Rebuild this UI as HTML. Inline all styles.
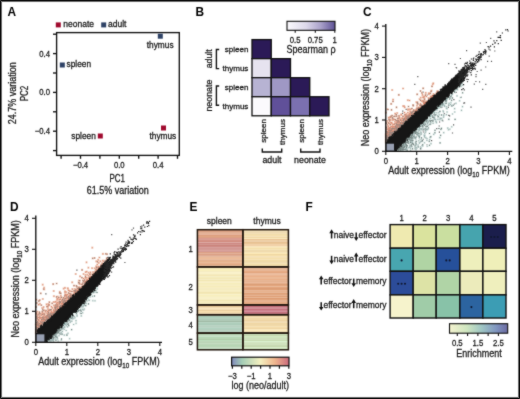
<!DOCTYPE html>
<html><head><meta charset="utf-8"><style>
html,body{margin:0;padding:0;background:#fff;}
body{width:520px;height:399px;overflow:hidden;}
svg{display:block;font-family:"Liberation Sans", sans-serif;}
text{stroke:#1a1a1a;stroke-width:0.28px;}
text[font-weight=bold]{stroke:none;}
</style></head><body>
<svg width="520" height="399" viewBox="0 0 520 399">
<defs><filter id="soft" x="0" y="0" width="520" height="399" filterUnits="userSpaceOnUse" color-interpolation-filters="sRGB"><feConvolveMatrix order="3" kernelMatrix="0.04 0.12 0.04 0.12 1 0.12 0.04 0.12 0.04" edgeMode="duplicate" preserveAlpha="true"/></filter></defs>
<g filter="url(#soft)">
<rect x="0" y="0" width="520" height="399" fill="#fff"/>
<text font-size="12.5" text-anchor="start" font-weight="bold" fill="#000" transform="translate(7.6 15.9) scale(0.95 1)">A</text>
<rect x="55.80" y="22.40" width="5.00" height="5.00" fill="#a00a2e"/>
<text x="63.3" y="27.4" font-size="8.5" text-anchor="start" fill="#1a1a1a">neonate</text>
<rect x="101.20" y="22.40" width="5.00" height="5.00" fill="#2e4266"/>
<text x="108" y="27.4" font-size="8.5" text-anchor="start" fill="#1a1a1a">adult</text>
<rect x="56.6" y="32.6" width="122.7" height="122.8" fill="none" stroke="#111" stroke-width="1.35"/>
<line x1="53" y1="34.20000000000002" x2="56.6" y2="34.20000000000002" stroke="#111" stroke-width="1.35"/>
<line x1="53" y1="53.60000000000001" x2="56.6" y2="53.60000000000001" stroke="#111" stroke-width="1.35"/>
<line x1="53" y1="73.0" x2="56.6" y2="73.0" stroke="#111" stroke-width="1.35"/>
<line x1="53" y1="92.4" x2="56.6" y2="92.4" stroke="#111" stroke-width="1.35"/>
<line x1="53" y1="111.80000000000001" x2="56.6" y2="111.80000000000001" stroke="#111" stroke-width="1.35"/>
<line x1="53" y1="131.2" x2="56.6" y2="131.2" stroke="#111" stroke-width="1.35"/>
<line x1="53" y1="150.6" x2="56.6" y2="150.6" stroke="#111" stroke-width="1.35"/>
<text font-size="8.8" text-anchor="end" fill="#1a1a1a" transform="translate(50 56.60000000000001) scale(0.88 1)">0.4</text>
<text font-size="8.8" text-anchor="end" fill="#1a1a1a" transform="translate(50 95.4) scale(0.88 1)">0.0</text>
<text font-size="8.8" text-anchor="end" fill="#1a1a1a" transform="translate(50 134.2) scale(0.88 1)">−0.4</text>
<line x1="61.10000000000001" y1="155.3" x2="61.10000000000001" y2="158.8" stroke="#111" stroke-width="1.35"/>
<line x1="80.5" y1="155.3" x2="80.5" y2="158.8" stroke="#111" stroke-width="1.35"/>
<line x1="99.9" y1="155.3" x2="99.9" y2="158.8" stroke="#111" stroke-width="1.35"/>
<line x1="119.3" y1="155.3" x2="119.3" y2="158.8" stroke="#111" stroke-width="1.35"/>
<line x1="138.7" y1="155.3" x2="138.7" y2="158.8" stroke="#111" stroke-width="1.35"/>
<line x1="158.1" y1="155.3" x2="158.1" y2="158.8" stroke="#111" stroke-width="1.35"/>
<line x1="177.5" y1="155.3" x2="177.5" y2="158.8" stroke="#111" stroke-width="1.35"/>
<text font-size="8.8" text-anchor="middle" fill="#1a1a1a" transform="translate(80.5 168) scale(0.88 1)">−0.4</text>
<text font-size="8.8" text-anchor="middle" fill="#1a1a1a" transform="translate(119.3 168) scale(0.88 1)">0.0</text>
<text font-size="8.8" text-anchor="middle" fill="#1a1a1a" transform="translate(158.1 168) scale(0.88 1)">0.4</text>
<text font-size="10" text-anchor="middle" fill="#1a1a1a" transform="translate(117.2 181.8) scale(0.8 1)">PC1</text>
<text font-size="10" text-anchor="middle" fill="#1a1a1a" transform="translate(117.7 194.4) scale(0.9 1)">61.5% variation</text>
<text font-size="10" text-anchor="middle" fill="#1a1a1a" transform="translate(16.4 93.3) rotate(-90) scale(0.9 1)">24.7% variation</text>
<text font-size="10" text-anchor="middle" fill="#1a1a1a" transform="translate(27.6 93.5) rotate(-90) scale(0.8 1)">PC2</text>
<rect x="157.80" y="33.70" width="5.00" height="5.00" fill="#2e4266"/>
<rect x="59.80" y="62.50" width="5.00" height="5.00" fill="#2e4266"/>
<rect x="97.80" y="133.50" width="5.00" height="5.00" fill="#a00a2e"/>
<rect x="161.00" y="125.50" width="5.00" height="5.00" fill="#a00a2e"/>
<text x="146.8" y="47.8" font-size="8.3" text-anchor="start" fill="#1a1a1a">thymus</text>
<text x="66.6" y="67.4" font-size="8.3" text-anchor="start" fill="#1a1a1a">spleen</text>
<text x="95.8" y="138.6" font-size="8.3" text-anchor="end" fill="#1a1a1a">spleen</text>
<text x="149.5" y="139.2" font-size="8.3" text-anchor="start" fill="#1a1a1a">thymus</text>
<text font-size="12.5" text-anchor="start" font-weight="bold" fill="#000" transform="translate(195.6 15.9) scale(0.95 1)">B</text>
<defs><linearGradient id="gB" x1="0" x2="1" y1="0" y2="0"><stop offset="0" stop-color="#fbfafd"/><stop offset="0.4" stop-color="#dcd8ea"/><stop offset="0.7" stop-color="#aaa2ca"/><stop offset="1" stop-color="#5e5296"/></linearGradient><linearGradient id="gE" x1="0" x2="1" y1="0" y2="0"><stop offset="0" stop-color="#8088bb"/><stop offset="0.18" stop-color="#a4cdb6"/><stop offset="0.5" stop-color="#f4f0c0"/><stop offset="0.75" stop-color="#efb68e"/><stop offset="1" stop-color="#cb6a7c"/></linearGradient><linearGradient id="gF" x1="0" x2="1" y1="0" y2="0"><stop offset="0" stop-color="#f4f3cf"/><stop offset="0.3" stop-color="#cfe6c0"/><stop offset="0.55" stop-color="#9fc6c4"/><stop offset="0.8" stop-color="#8096c0"/><stop offset="1" stop-color="#6b6aa2"/></linearGradient></defs>
<rect x="287" y="21.3" width="48" height="9" fill="url(#gB)" stroke="#111" stroke-width="1.1"/>
<line x1="295.2" y1="30.3" x2="295.2" y2="32.8" stroke="#111" stroke-width="1.1"/>
<line x1="315.3" y1="30.3" x2="315.3" y2="32.8" stroke="#111" stroke-width="1.1"/>
<line x1="334.8" y1="30.3" x2="334.8" y2="32.8" stroke="#111" stroke-width="1.1"/>
<text font-size="8.8" text-anchor="middle" fill="#1a1a1a" transform="translate(295.2 42.5) scale(0.88 1)">0.5</text>
<text font-size="8.8" text-anchor="middle" fill="#1a1a1a" transform="translate(315.2 42.5) scale(0.88 1)">0.75</text>
<text font-size="8.8" text-anchor="middle" fill="#1a1a1a" transform="translate(334.6 42.5) scale(0.88 1)">1</text>
<text font-size="10" text-anchor="middle" fill="#1a1a1a" transform="translate(311 52.6) scale(0.9 1)">Spearman ρ</text>
<rect x="252" y="39.6" width="19.25" height="19.05" fill="#2b1a57" stroke="#111" stroke-width="1.3"/>
<rect x="252" y="58.65" width="19.25" height="19.05" fill="#e6e3ef" stroke="#111" stroke-width="1.3"/>
<rect x="271.25" y="58.65" width="19.25" height="19.05" fill="#2b1a57" stroke="#111" stroke-width="1.3"/>
<rect x="252" y="77.7" width="19.25" height="19.05" fill="#b7b3d3" stroke="#111" stroke-width="1.3"/>
<rect x="271.25" y="77.7" width="19.25" height="19.05" fill="#9f98c4" stroke="#111" stroke-width="1.3"/>
<rect x="290.5" y="77.7" width="19.25" height="19.05" fill="#2b1a57" stroke="#111" stroke-width="1.3"/>
<rect x="252" y="96.75" width="19.25" height="19.05" fill="#fbfafd" stroke="#111" stroke-width="1.3"/>
<rect x="271.25" y="96.75" width="19.25" height="19.05" fill="#605099" stroke="#111" stroke-width="1.3"/>
<rect x="290.5" y="96.75" width="19.25" height="19.05" fill="#7b70b0" stroke="#111" stroke-width="1.3"/>
<rect x="309.75" y="96.75" width="19.25" height="19.05" fill="#2b1a57" stroke="#111" stroke-width="1.3"/>
<text x="248.4" y="51.725" font-size="8.05" text-anchor="end" fill="#1a1a1a">spleen</text>
<text x="248.4" y="70.77499999999999" font-size="8.05" text-anchor="end" fill="#1a1a1a">thymus</text>
<text x="248.4" y="89.82499999999999" font-size="8.05" text-anchor="end" fill="#1a1a1a">spleen</text>
<text x="248.4" y="108.875" font-size="8.05" text-anchor="end" fill="#1a1a1a">thymus</text>
<path d="M219.2 49.5H216.4V68.6H219.2" fill="none" stroke="#111" stroke-width="1.4"/>
<path d="M219.2 86H216.4V105.2H219.2" fill="none" stroke="#111" stroke-width="1.4"/>
<text x="212.2" y="58.8" font-size="8.8" text-anchor="middle" fill="#1a1a1a" transform="rotate(-90 212.2 58.8)">adult</text>
<text x="212.2" y="95.6" font-size="8.8" text-anchor="middle" fill="#1a1a1a" transform="rotate(-90 212.2 95.6)">neonate</text>
<text x="265.525" y="119" font-size="8.05" text-anchor="end" fill="#1a1a1a" transform="rotate(-90 265.525 119)">spleen</text>
<text x="284.775" y="119" font-size="8.05" text-anchor="end" fill="#1a1a1a" transform="rotate(-90 284.775 119)">thymus</text>
<text x="304.025" y="119" font-size="8.05" text-anchor="end" fill="#1a1a1a" transform="rotate(-90 304.025 119)">spleen</text>
<text x="323.275" y="119" font-size="8.05" text-anchor="end" fill="#1a1a1a" transform="rotate(-90 323.275 119)">thymus</text>
<path d="M262.3 148.6V152H281.7V148.6" fill="none" stroke="#111" stroke-width="1.4"/>
<path d="M300.7 148.6V152H320V148.6" fill="none" stroke="#111" stroke-width="1.4"/>
<text x="272" y="162.8" font-size="8.8" text-anchor="middle" fill="#1a1a1a">adult</text>
<text x="310" y="162.8" font-size="8.8" text-anchor="middle" fill="#1a1a1a">neonate</text>
<text font-size="12.5" text-anchor="start" font-weight="bold" fill="#000" transform="translate(363.0 16.2) scale(0.95 1)">C</text>
<path stroke="#5a5a5a" stroke-width="1.2" stroke-linecap="square" fill="none" d="M453.9 99.7h0M491.5 61.4h0M456.1 92.3h0M428.8 124.7h0M461.4 97.3h0M444.3 113.9h0M477.2 71.5h0M448.3 107.1h0M411.0 143.5h0M448.8 115.3h0M441.2 118.8h0M427.1 95.2h0M482.7 89.3h0M402.8 111.1h0M439.4 132.2h0M485.8 84.4h0M486.4 42.5h0M439.6 122.0h0M464.3 89.9h0M425.6 138.0h0M406.2 109.3h0M496.7 31.8h0M438.6 115.6h0M452.5 133.0h0M423.2 139.3h0M479.6 81.9h0M402.6 113.4h0M453.6 124.9h0M476.0 76.7h0M420.6 149.5h0M467.5 81.7h0M442.2 106.9h0M481.1 70.2h0M423.0 92.1h0M416.8 134.9h0M490.7 38.3h0M422.9 128.6h0M393.2 116.8h0M432.6 123.2h0M480.3 43.2h0M447.9 107.5h0M460.4 58.5h0M463.8 103.2h0M489.2 56.2h0M456.6 68.0h0M436.8 128.6h0M485.7 67.0h0M471.0 107.1h0M427.5 121.0h0M442.8 120.9h0M455.0 64.3h0M448.9 105.0h0M424.0 132.2h0M427.0 145.1h0M403.0 118.8h0M423.0 130.6h0M431.6 140.7h0M487.6 61.4h0M401.4 149.7h0M449.6 115.8h0M464.6 102.9h0M476.1 74.6h0M439.2 126.0h0M466.6 50.7h0M475.9 81.5h0M417.8 76.6h0M474.3 84.2h0M415.8 144.3h0M454.4 104.2h0M414.8 84.3h0M456.2 67.5h0M468.3 79.5h0M420.3 139.4h0M433.8 114.4h0M448.7 63.7h0M494.8 51.0h0M424.0 98.5h0"/>
<path stroke="#f2d2c2" stroke-width="2.2" stroke-linecap="square" fill="none" d="M412.2 116.4h0M436.8 94.2h0M390.6 137.7h0M390.4 133.0h0M406.3 121.9h0M387.8 139.2h0M417.2 94.3h0M388.1 139.7h0M399.0 115.9h0M436.5 93.3h0M393.0 134.4h0M390.2 135.8h0M407.4 118.7h0M417.5 102.4h0M404.5 121.5h0M386.5 127.3h0M393.9 128.6h0M386.1 140.0h0M414.7 113.1h0M386.8 140.2h0M400.0 124.4h0M391.4 130.7h0M417.2 111.0h0M403.9 123.7h0M406.8 118.7h0M386.4 131.3h0M403.3 125.1h0M385.9 142.6h0M389.6 135.4h0M420.4 108.5h0M413.1 105.1h0M396.6 116.1h0M389.0 138.6h0M413.0 111.5h0M386.8 141.8h0M417.1 112.6h0M411.1 118.4h0M391.7 133.0h0M412.0 113.1h0M400.9 126.0h0M417.4 103.3h0M397.8 130.3h0M391.1 130.5h0M430.8 98.8h0M391.0 116.3h0M421.4 105.2h0M400.1 128.4h0M395.8 133.1h0M417.2 108.7h0M391.2 136.8h0M389.3 139.3h0M392.7 134.0h0M404.5 123.1h0M408.2 120.9h0M390.3 136.9h0M409.0 118.2h0M417.8 103.9h0M390.3 130.7h0M401.9 125.9h0M388.3 139.2h0M394.8 123.9h0M410.6 116.6h0M412.9 115.1h0M392.6 136.0h0M407.0 122.0h0M394.9 131.9h0M388.6 134.3h0M419.4 109.0h0M423.8 105.9h0M408.5 117.5h0M392.5 133.6h0M399.6 129.0h0M409.8 119.3h0M396.8 127.0h0M407.4 119.8h0M415.4 111.0h0M396.4 129.0h0M408.8 118.6h0M391.4 135.4h0M404.9 124.2h0M399.8 125.3h0M428.6 102.1h0M391.8 134.1h0M390.5 137.7h0M403.4 120.6h0M397.5 129.6h0M421.3 106.4h0M404.4 118.9h0M395.8 131.7h0M396.1 132.8h0M404.4 124.1h0M413.8 115.1h0M410.4 117.5h0M423.1 106.0h0M397.8 129.6h0M408.5 116.3h0M386.5 141.2h0M413.3 111.3h0M394.1 116.5h0M387.4 137.6h0M395.8 131.4h0M390.4 137.6h0M391.7 136.7h0M387.9 138.7h0M390.3 137.0h0M391.3 137.3h0M386.3 141.5h0M419.5 109.3h0M397.3 131.3h0M396.9 130.9h0M399.5 127.2h0M437.9 93.5h0M416.5 112.4h0M395.3 133.3h0M400.0 128.1h0M391.0 137.6h0M388.9 130.4h0M391.2 103.9h0M413.6 113.9h0M397.4 122.2h0M388.9 139.8h0M391.8 132.6h0M398.1 130.4h0M406.0 121.8h0M386.3 139.5h0M386.0 142.2h0M387.1 137.9h0M399.7 128.8h0M389.9 136.6h0M428.9 101.0h0M415.3 113.5h0M390.5 137.3h0M390.1 133.2h0M399.5 126.9h0M420.6 100.4h0M401.7 122.0h0M389.3 138.8h0M388.7 138.4h0M387.2 137.7h0M396.1 120.5h0M411.8 114.1h0M408.4 120.7h0M401.3 126.8h0M402.4 124.6h0M422.0 92.9h0M395.3 119.5h0M393.0 101.4h0M404.4 122.8h0M394.7 133.2h0M420.1 108.3h0M407.3 117.8h0M386.7 129.1h0M412.3 115.3h0M402.1 124.9h0M397.9 128.9h0M402.4 125.1h0M396.9 131.0h0M394.6 133.7h0M432.0 86.4h0M392.8 128.3h0M414.3 111.7h0M428.7 99.1h0M403.1 120.3h0M412.7 115.8h0M387.4 138.6h0M388.9 123.3h0M389.7 120.9h0M408.7 119.4h0M402.6 125.8h0M405.5 123.3h0M387.6 139.2h0M398.7 129.6h0M421.0 107.5h0M407.2 117.8h0M408.0 119.7h0M391.4 129.1h0M396.5 127.7h0M396.8 124.8h0M394.3 131.3h0M413.7 110.0h0M401.2 124.5h0M387.2 137.0h0M403.0 123.9h0M420.0 105.2h0M388.2 138.5h0M399.9 128.3h0M389.9 137.1h0M418.4 111.1h0M406.8 116.3h0M394.0 134.0h0M401.1 128.1h0M421.3 108.7h0M393.5 134.2h0M437.5 93.4h0M406.5 120.8h0M392.9 133.2h0M395.5 126.6h0M418.3 107.7h0M406.2 123.0h0M390.3 132.9h0M393.1 133.3h0M388.1 137.7h0M386.6 138.9h0M391.5 135.7h0M397.4 128.5h0M396.5 107.3h0M418.6 109.3h0M429.3 101.3h0M431.1 91.3h0M391.5 109.8h0M404.1 123.1h0M387.2 138.3h0M391.9 134.7h0M399.3 128.6h0M404.7 118.2h0M429.5 99.0h0M404.8 114.8h0M386.7 141.5h0M425.2 104.1h0M386.4 141.5h0M390.7 132.5h0M401.5 125.4h0M387.3 133.2h0M420.6 105.3h0M391.4 135.9h0M394.9 116.3h0M396.7 124.3h0M392.3 133.0h0M386.8 138.6h0M389.4 132.1h0M390.3 124.6h0M411.9 108.5h0M389.0 138.1h0M387.2 139.9h0M389.9 138.8h0M397.3 130.2h0M411.5 113.2h0M392.4 135.5h0M400.8 128.3h0M394.0 128.6h0M389.2 136.6h0M395.1 133.5h0M398.8 125.7h0M386.8 131.4h0M393.1 133.0h0M420.5 91.0h0M389.9 138.6h0M386.6 140.5h0M388.0 109.5h0M390.9 136.0h0M389.5 134.6h0M386.7 138.1h0M387.8 140.6h0M403.6 119.5h0M400.3 122.7h0M397.8 125.1h0M392.5 135.2h0M390.1 127.7h0M399.2 127.8h0M390.7 135.2h0M415.6 112.8h0M402.7 123.0h0M393.4 132.9h0M397.4 130.1h0M404.3 124.9h0M414.5 114.8h0M389.4 130.3h0M390.8 137.8h0M387.7 136.2h0M386.1 142.5h0M417.6 110.8h0M408.1 121.3h0M398.5 128.8h0M407.2 118.6h0M411.6 116.1h0M389.5 139.0h0M429.9 99.6h0M423.3 106.7h0M418.6 110.2h0M389.5 134.6h0M388.0 132.6h0M397.2 129.9h0M388.6 137.7h0M411.4 117.8h0M396.7 124.0h0M394.1 133.6h0M397.3 120.8h0M423.3 105.6h0M399.7 127.9h0M390.7 132.5h0M393.8 135.1h0M392.1 135.6h0M417.8 110.9h0M411.1 112.1h0M409.3 115.4h0M401.9 124.9h0M398.8 122.0h0M387.0 141.3h0M398.3 118.2h0M407.0 122.0h0M387.9 140.2h0M402.7 125.9h0M405.6 121.7h0M392.1 115.6h0M389.1 137.8h0M395.8 132.9h0M386.3 136.2h0M387.5 140.7h0M412.5 112.2h0M424.2 105.4h0M421.1 109.0h0M409.6 119.9h0M388.0 140.2h0M413.4 116.2h0M388.4 137.7h0M404.8 121.2h0M392.4 117.7h0M400.0 128.9h0M389.4 137.4h0M392.6 128.5h0M410.5 116.1h0M400.0 128.4h0M425.8 104.5h0M391.9 128.7h0M399.5 129.1h0M388.4 139.7h0M395.1 130.3h0M426.3 104.0h0M424.7 105.5h0M387.0 132.4h0M401.5 126.1h0M405.9 121.0h0M418.0 111.2h0M386.9 141.6h0M397.5 129.7h0M392.0 133.7h0M388.5 139.5h0M399.9 127.7h0M394.9 130.8h0M390.0 138.8h0M393.2 133.5h0M411.8 117.5h0M386.7 139.5h0M396.1 131.9h0M395.7 132.8h0M402.5 124.7h0M412.4 115.5h0M397.7 118.6h0M423.8 101.4h0M389.1 136.1h0M414.5 113.6h0M435.6 95.7h0M430.3 93.3h0M389.3 138.9h0M408.9 119.0h0M396.8 129.6h0M387.6 135.3h0M407.1 116.2h0M386.8 141.3h0M389.8 133.8h0M390.8 137.0h0M421.2 108.2h0M408.5 106.5h0M409.1 116.6h0M388.0 137.1h0M400.5 120.1h0M387.9 138.0h0M418.0 109.6h0M387.8 140.2h0M390.1 136.8h0M397.3 131.2h0M407.2 121.5h0M397.0 131.5h0M397.9 127.0h0M417.5 111.4h0M392.8 129.0h0M406.2 120.7h0M392.5 133.2h0M391.3 136.3h0M398.1 124.5h0M393.7 133.8h0M390.6 132.0h0M386.9 139.2h0M403.0 116.3h0M401.2 125.2h0M387.1 140.2h0M391.5 137.3h0M400.5 125.6h0M400.3 123.3h0M436.2 94.7h0M396.5 132.4h0M397.0 129.0h0M424.6 99.1h0M390.9 137.2h0M410.7 117.5h0M411.7 117.2h0M396.6 132.4h0M399.8 128.3h0M386.5 135.9h0M423.5 105.6h0M404.2 122.4h0M396.1 127.7h0M394.2 128.9h0M426.1 103.7h0M390.0 137.4h0M392.8 132.1h0M391.3 135.0h0M394.6 131.4h0M390.1 136.1h0M389.3 137.5h0M430.2 100.8h0M409.3 120.2h0M387.7 140.9h0M413.0 114.8h0M429.1 101.1h0M403.3 119.2h0M395.2 130.8h0M393.7 133.0h0M398.6 120.8h0M399.7 124.8h0M396.1 125.8h0M413.3 105.7h0M402.8 122.5h0M390.5 137.8h0M393.1 131.9h0M389.2 135.9h0M398.8 94.8h0M404.7 118.9h0M391.6 136.7h0M392.8 118.8h0M392.2 136.6h0M386.3 123.1h0M426.0 103.3h0M426.5 103.8h0M396.7 132.0h0M391.4 135.5h0M391.4 136.9h0M402.9 125.3h0M392.9 132.2h0M415.2 114.3h0M411.2 112.5h0M419.7 109.1h0M410.8 117.3h0M395.3 128.2h0M389.5 135.1h0M386.1 137.7h0M417.2 109.0h0M400.2 125.8h0M437.9 91.3h0M419.6 110.2h0M426.5 103.7h0M386.7 141.3h0M389.4 138.5h0M396.3 114.5h0M403.9 123.0h0M425.5 95.1h0M392.0 134.8h0M385.8 140.1h0M423.2 88.3h0M399.1 129.7h0M389.1 119.6h0M412.2 117.1h0M389.6 132.5h0M392.6 135.4h0M392.7 133.9h0M407.7 120.2h0M403.2 123.1h0M411.0 116.6h0M423.0 97.3h0M405.3 117.2h0M395.8 131.4h0M405.5 119.3h0M424.4 105.7h0M393.5 134.8h0M399.2 129.4h0M433.9 95.9h0M398.5 127.4h0M403.6 119.0h0M392.7 134.5h0M398.3 129.9h0M417.1 111.2h0M391.1 136.1h0M403.7 124.3h0M394.7 119.5h0M392.3 134.6h0M387.2 137.4h0M386.0 137.8h0M400.3 126.5h0M423.6 102.6h0M388.3 138.6h0M417.9 110.0h0M408.0 117.2h0M407.2 120.8h0M391.0 136.8h0M400.4 124.7h0M385.9 139.4h0M386.5 139.6h0M419.6 108.8h0M386.4 140.9h0M417.5 108.8h0M397.9 127.5h0M407.8 100.2h0M390.3 128.6h0M392.2 131.3h0M388.0 137.2h0M403.6 122.0h0M409.0 119.7h0M431.2 96.3h0M390.0 134.6h0M396.6 131.1h0M389.0 137.3h0M405.6 123.5h0M413.7 111.5h0M392.1 126.5h0M404.3 124.2h0M388.6 137.5h0M394.9 130.5h0M387.4 134.2h0M400.7 125.7h0M433.3 97.3h0M405.6 116.5h0M388.1 137.0h0M387.2 138.5h0M408.2 118.3h0M423.4 97.1h0M391.0 132.7h0M389.4 136.6h0M388.1 136.0h0M412.2 117.1h0M401.7 126.5h0M387.7 140.0h0M407.9 118.4h0M388.9 139.2h0M390.8 137.9h0M398.1 126.3h0M400.7 128.3h0M400.1 126.7h0M386.4 141.5h0M392.8 130.8h0M394.7 130.4h0M410.9 112.8h0M391.9 133.9h0M396.8 128.9h0M402.3 126.2h0M399.0 127.1h0M407.8 112.5h0M393.9 134.8h0M429.2 101.2h0M397.3 128.9h0M406.0 115.7h0M408.4 120.6h0M421.7 106.7h0M403.6 119.3h0M403.1 88.5h0M421.3 107.3h0M402.0 118.3h0M398.9 130.2h0M398.8 130.2h0M410.9 117.6h0M393.9 134.8h0M407.0 121.0h0M413.1 115.9h0M415.0 110.9h0M391.5 136.9h0M431.3 97.7h0M428.8 93.2h0M389.8 133.6h0M392.2 90.0h0M389.1 139.5h0M393.0 135.0h0M405.8 122.3h0M392.6 133.6h0M405.9 123.5h0M397.1 130.8h0M419.6 99.2h0M406.5 116.9h0M421.3 105.0h0M391.2 136.7h0M388.7 117.5h0M401.4 127.6h0M416.0 112.7h0M426.7 102.3h0M387.4 138.0h0M405.7 118.8h0M395.7 131.8h0M388.8 139.1h0M386.2 140.2h0M411.2 117.5h0M407.4 119.1h0M424.3 102.2h0M401.2 126.9h0M385.9 112.6h0M386.6 140.4h0M405.7 123.4h0M404.0 124.4h0M400.7 128.0h0M411.5 118.0h0M399.3 129.6h0M419.7 109.9h0M396.4 130.7h0M395.2 130.7h0M396.7 128.8h0M403.9 125.0h0M392.8 132.0h0M395.1 128.2h0M394.4 134.0h0M399.7 127.1h0M435.8 94.8h0M399.7 128.7h0M390.0 132.9h0M413.4 113.9h0M400.5 128.5h0M411.3 117.2h0M400.4 126.4h0M388.1 138.9h0M388.6 129.9h0M408.0 115.3h0M397.9 125.4h0M391.7 135.8h0M386.6 139.1h0M403.9 122.3h0M390.0 137.3h0M407.6 120.4h0M393.2 128.6h0M389.4 137.9h0M392.8 132.1h0M390.8 133.7h0M392.6 136.0h0M408.7 120.2h0M422.2 107.5h0M397.6 131.4h0M416.1 112.0h0M397.7 131.1h0M394.8 128.9h0M403.2 125.0h0M397.0 132.0h0M387.6 137.3h0M393.6 134.4h0M389.0 138.4h0M391.8 135.3h0M398.0 127.2h0M395.3 129.6h0M408.2 120.0h0M433.5 94.1h0M405.7 121.8h0M410.4 119.0h0M406.9 121.0h0M396.7 128.7h0M414.6 114.9h0M389.8 137.9h0M389.5 132.3h0M386.9 140.2h0M407.1 119.9h0M424.6 103.1h0M385.8 136.9h0M409.5 100.5h0M419.5 108.9h0M386.8 137.8h0M391.4 130.9h0M387.5 124.7h0M400.8 123.1h0M397.2 131.8h0M401.3 127.9h0M389.5 136.9h0M388.2 140.0h0M422.5 107.5h0M386.6 136.1h0M389.6 136.2h0M388.5 140.1h0M385.8 142.0h0M399.4 117.2h0M396.4 122.0h0M400.6 128.5h0M417.3 111.9h0M397.8 128.3h0M386.0 134.4h0M392.8 135.7h0M419.5 107.8h0M399.6 127.4h0M400.3 127.6h0M391.9 133.1h0M397.6 129.8h0M387.0 139.0h0M390.4 136.3h0M409.1 119.8h0M394.7 133.6h0M406.2 122.8h0M399.1 122.1h0M402.4 118.0h0M389.0 137.2h0M392.5 118.0h0M394.5 133.7h0M396.2 131.7h0M425.4 104.9h0M386.9 141.1h0M393.9 133.7h0M403.0 125.0h0M390.9 137.0h0M397.2 131.1h0M418.0 111.3h0M397.3 130.7h0M410.8 118.8h0M398.8 129.2h0M395.1 127.3h0M402.3 124.3h0M401.7 125.5h0M393.2 135.5h0M422.8 105.5h0M416.8 112.7h0M395.5 133.3h0M389.3 132.9h0M394.4 131.0h0M430.2 98.4h0M399.8 118.4h0M395.9 131.2h0M408.1 121.1h0M415.8 113.2h0M387.4 140.5h0M416.9 108.0h0M400.8 124.8h0M407.2 116.3h0M390.4 138.0h0M387.7 138.9h0M393.4 134.8h0M399.7 125.5h0M411.8 114.4h0M413.8 114.8h0M400.1 128.5h0M421.1 105.9h0M416.5 110.6h0M391.4 136.3h0M386.4 133.2h0M413.8 113.5h0M422.9 106.6h0M394.6 133.6h0M406.2 121.7h0M420.9 108.6h0M416.9 112.2h0M388.5 129.9h0M389.3 133.8h0M420.4 109.0h0M398.6 128.9h0M409.9 119.6h0M397.8 130.1h0M419.8 107.9h0M386.4 141.6h0M403.8 119.5h0M423.2 106.2h0M391.9 123.4h0M389.4 139.1h0M408.8 119.5h0M410.2 115.2h0M387.2 140.2h0M385.9 142.3h0M393.6 134.9h0M409.5 118.0h0M386.9 140.8h0M422.9 100.6h0M396.2 132.3h0M410.6 117.0h0M406.7 116.0h0M396.3 132.5h0M394.4 133.6h0M397.5 131.0h0M402.2 126.4h0M398.5 128.7h0M391.4 133.2h0M387.2 141.3h0M392.8 135.7h0M409.4 119.5h0M386.8 140.8h0M397.1 130.6h0M388.8 138.4h0M394.7 130.0h0M393.1 133.8h0M404.9 122.4h0M392.5 127.6h0M423.1 107.0h0M388.6 139.9h0M387.4 109.4h0M392.0 135.4h0M388.2 126.8h0M408.2 118.7h0M393.4 134.2h0M419.6 108.0h0M389.8 129.6h0M429.8 99.4h0M409.3 118.9h0M405.3 123.8h0M395.9 132.2h0M397.0 129.6h0M411.5 115.8h0M403.0 125.1h0M391.6 122.5h0M406.7 114.0h0M391.8 132.2h0M419.0 109.6h0M419.5 108.9h0M396.0 126.0h0M410.1 114.4h0M393.3 135.0h0M416.5 109.3h0M415.8 113.3h0M428.6 98.0h0M429.5 99.3h0M415.3 112.6h0M438.3 93.4h0M387.2 140.2h0M422.5 94.8h0M389.6 137.8h0M433.3 83.3h0M407.6 120.0h0M411.2 116.3h0M403.5 121.6h0M388.9 137.4h0M414.6 112.7h0M418.6 108.3h0M412.7 116.5h0M388.9 139.2h0M411.2 114.8h0M400.4 128.6h0M387.2 141.3h0M390.6 137.3h0M396.8 130.3h0M386.4 140.1h0M416.0 112.8h0M390.9 126.6h0M399.3 129.6h0M430.1 100.3h0M418.6 111.3h0M390.5 135.3h0M390.6 137.5h0M416.3 112.4h0M397.3 131.2h0M393.2 135.0h0M388.6 138.3h0M402.0 127.1h0M392.8 133.2h0M396.6 131.8h0M434.4 96.9h0M387.3 136.3h0M404.7 122.7h0M395.2 129.0h0M386.9 141.7h0M398.3 127.3h0M387.6 132.5h0M432.7 95.5h0M389.7 135.1h0M402.5 122.3h0M405.5 123.5h0M392.7 130.0h0M417.4 112.4h0M389.8 136.4h0M388.5 139.2h0M390.5 135.7h0M397.5 130.4h0M394.3 128.8h0M427.2 101.9h0M402.5 126.3h0M386.2 141.2h0M397.7 120.2h0M388.7 133.2h0M419.1 107.4h0M410.9 115.4h0M417.8 110.6h0M403.2 106.1h0M398.4 124.1h0M399.5 126.7h0M401.1 127.9h0M387.5 139.3h0M406.8 118.8h0M420.0 108.3h0M386.9 137.1h0M407.6 121.5h0M393.4 130.9h0M434.8 95.7h0M386.3 141.7h0M392.5 135.8h0M392.3 131.6h0M398.7 129.2h0M391.3 130.3h0M389.6 136.3h0M386.7 141.7h0M397.5 129.9h0M395.4 132.9h0M389.0 118.9h0M397.2 125.9h0M389.5 138.4h0M394.7 126.2h0M394.6 131.1h0M393.5 133.8h0M389.7 133.3h0M403.7 122.6h0M389.9 130.8h0M386.7 138.2h0M403.2 125.7h0M436.9 94.2h0M400.1 127.7h0M417.0 105.7h0M402.6 125.9h0M415.0 114.0h0M400.8 127.8h0M423.2 101.9h0M396.5 130.1h0M388.8 132.4h0M406.0 121.5h0M414.9 114.8h0M397.4 130.6h0M424.9 103.3h0M406.9 120.5h0M426.1 104.2h0M388.3 126.1h0M389.7 137.7h0M402.9 122.2h0M392.4 135.9h0M424.0 106.2h0M411.0 116.2h0M401.6 125.5h0M405.3 122.9h0M420.3 104.7h0M395.9 131.2h0M413.4 110.7h0M423.7 105.0h0M405.2 123.3h0M402.9 124.8h0M388.3 126.6h0M413.5 114.2h0M386.7 136.7h0M425.7 92.8h0M396.4 130.8h0M390.5 136.0h0M403.0 124.1h0M406.4 122.6h0M405.9 120.5h0M421.8 108.3h0M394.3 132.8h0M387.6 140.1h0M429.4 100.3h0M387.1 140.6h0M402.7 126.2h0M389.1 131.7h0M401.0 126.5h0M431.7 96.9h0M390.8 136.3h0M391.1 135.5h0M393.3 126.6h0M388.0 129.2h0M400.6 127.1h0M401.2 124.6h0M390.7 136.3h0M397.1 131.1h0M400.6 128.0h0M423.4 106.6h0M414.2 113.8h0M391.1 137.1h0M389.6 139.0h0M404.9 123.9h0M388.4 140.2h0M389.1 134.5h0M410.5 115.1h0M389.9 117.1h0M396.2 132.1h0M397.3 125.0h0M394.9 132.8h0M415.2 112.0h0M404.0 121.4h0M415.9 111.3h0M389.4 132.0h0M391.9 136.4h0M405.9 120.6h0M385.9 134.4h0M393.4 132.0h0M395.9 123.1h0M393.1 99.5h0M431.2 98.5h0M415.1 114.0h0M430.4 99.8h0M406.8 122.4h0M387.2 138.0h0M407.0 120.6h0M387.7 131.5h0M428.2 102.3h0M395.3 133.4h0M392.3 136.5h0M386.4 133.2h0M385.8 134.5h0M400.0 124.5h0M413.9 111.3h0M397.7 124.3h0M427.1 102.7h0M399.0 129.1h0M392.4 132.7h0M407.5 119.4h0M392.7 133.7h0M397.3 129.8h0M392.2 136.2h0M398.1 121.8h0M429.2 93.9h0M399.0 128.8h0M392.0 134.5h0M426.1 101.4h0M401.0 127.6h0M390.8 132.8h0M402.0 123.0h0M410.6 113.3h0M396.3 130.5h0M416.4 102.2h0M411.0 117.2h0M390.0 137.4h0M395.6 131.8h0M404.7 122.5h0M394.8 130.3h0M392.8 135.7h0M388.7 137.9h0M399.8 118.6h0M386.3 141.2h0M397.4 126.0h0M402.9 122.5h0M402.6 126.6h0M412.4 116.7h0M388.1 131.5h0M402.5 124.3h0M412.4 117.1h0M423.3 106.3h0M392.5 135.5h0M415.5 114.2h0M394.2 131.8h0M386.0 139.3h0M432.8 84.2h0M408.3 119.6h0M418.7 109.4h0M386.6 136.4h0M392.8 120.2h0M412.9 114.3h0M411.4 117.8h0M418.3 111.6h0M400.8 126.2h0M408.8 115.0h0M391.7 136.2h0M394.5 133.8h0M414.0 110.7h0M396.5 132.4h0M405.6 121.3h0M410.1 111.2h0M414.4 114.7h0M407.4 116.3h0M398.0 125.7h0M387.7 138.6h0M432.2 96.2h0M393.5 132.1h0M391.2 136.1h0M393.1 131.4h0M417.6 111.3h0M425.6 103.9h0M391.6 136.3h0M392.4 135.4h0M427.6 102.5h0M398.7 130.2h0M390.8 137.7h0M388.0 135.8h0M402.8 126.3h0M394.6 133.4h0M411.0 118.4h0M388.8 139.8h0M395.4 131.6h0M401.8 126.1h0M401.9 125.2h0M395.0 133.5h0M386.1 141.4h0M416.6 112.4h0M397.3 126.7h0M397.2 128.2h0M388.3 139.4h0M401.0 124.6h0M395.1 132.7h0M437.2 91.3h0M390.0 128.3h0M392.1 136.2h0M397.1 131.2h0M417.6 110.8h0M421.8 101.2h0M397.7 130.5h0M401.3 115.0h0M389.4 134.1h0M424.0 97.5h0M391.8 136.4h0M420.5 103.8h0M385.8 135.6h0M399.5 121.2h0M426.1 104.0h0M402.9 126.0h0M420.7 97.7h0M396.4 122.1h0M396.9 131.6h0M405.4 122.9h0M402.2 125.1h0M393.2 133.3h0M393.9 127.2h0M410.3 119.3h0M389.5 131.7h0M407.0 118.6h0M391.6 134.2h0M412.9 112.6h0M393.6 134.0h0M407.1 118.7h0M411.1 118.0h0M391.4 137.4h0M399.0 130.2h0M436.6 93.0h0M405.5 123.8h0M428.4 101.3h0M388.9 136.3h0M394.5 134.0h0M407.9 109.4h0M416.5 112.7h0M400.1 127.8h0M430.4 100.5h0M406.5 117.6h0M438.1 93.6h0M409.3 109.2h0M392.7 127.6h0M397.0 127.0h0M407.6 120.6h0M396.6 131.5h0M389.1 139.1h0M401.6 126.7h0M421.7 107.6h0M391.9 136.4h0M395.5 130.7h0M398.0 130.9h0M389.9 135.6h0M392.4 136.0h0M391.1 131.7h0M423.6 105.3h0M430.7 96.7h0M402.5 123.8h0M386.2 139.0h0M388.0 137.9h0M428.7 94.2h0M396.7 131.6h0M401.4 126.3h0M397.2 131.7h0M390.9 136.6h0M424.4 99.8h0M420.0 107.6h0M385.9 136.0h0M431.5 90.7h0M425.3 102.3h0M389.1 139.0h0M397.1 129.4h0M387.7 140.4h0M389.9 137.8h0M397.5 127.6h0M390.6 122.9h0M386.5 140.3h0M406.5 121.6h0M402.1 123.5h0M405.2 116.7h0M401.7 126.9h0M394.1 124.5h0M416.5 113.2h0M399.1 123.0h0M402.5 126.0h0M389.4 138.3h0M410.1 115.5h0M396.9 131.4h0M399.8 128.1h0M387.3 137.5h0M398.0 130.0h0M408.0 109.8h0M408.1 120.7h0M396.5 128.5h0M400.9 124.9h0M396.4 132.2h0M408.2 119.3h0M386.9 139.4h0M390.8 134.9h0M414.9 114.3h0M426.4 96.5h0M391.4 136.6h0M410.5 117.4h0M400.8 123.6h0M395.0 133.7h0M392.2 131.9h0M399.8 125.9h0M390.3 124.7h0M386.4 141.7h0M424.2 96.4h0M407.9 120.5h0M393.7 119.2h0M388.6 136.8h0M422.0 108.3h0M402.8 125.5h0M387.1 133.7h0M415.9 113.0h0M433.7 97.5h0M398.9 129.5h0M408.2 118.8h0M402.9 118.3h0M404.7 123.0h0M405.6 123.1h0M395.6 132.2h0M391.4 127.0h0M397.4 129.9h0M404.8 121.5h0M389.1 128.6h0M391.8 136.5h0M390.1 131.5h0M387.6 132.7h0M388.4 139.7h0M407.1 121.9h0M389.8 136.7h0M401.1 125.9h0M392.5 136.2h0M406.9 119.7h0M388.1 138.3h0M415.3 113.9h0M401.0 122.5h0M389.3 127.7h0M403.5 125.3h0M395.5 132.4h0M390.6 136.2h0M396.8 132.1h0M386.7 139.4h0M386.9 141.0h0M390.6 136.8h0M393.9 132.8h0M404.1 106.1h0M407.3 121.2h0M390.1 138.0h0M387.1 121.0h0M398.2 127.0h0M387.0 137.5h0M394.9 121.7h0M388.6 128.6h0M386.9 141.2h0M391.3 136.6h0M398.8 128.9h0M392.4 134.7h0M394.8 126.4h0M390.6 119.8h0M395.6 132.7h0M391.0 135.6h0M388.3 137.9h0M410.2 116.0h0M388.6 136.9h0M390.7 117.5h0M394.6 130.6h0M387.3 141.4h0M392.0 131.9h0M392.9 132.4h0M400.9 119.7h0M386.7 140.1h0M401.9 125.7h0M388.9 138.5h0M393.9 133.0h0M392.3 132.4h0M389.4 136.7h0M391.4 132.5h0M398.4 128.2h0M387.3 136.3h0M395.6 132.8h0M387.6 140.6h0M400.6 128.5h0M404.7 107.4h0M411.1 118.1h0M389.2 136.5h0M401.7 120.4h0M388.6 139.0h0M398.1 129.0h0M396.9 131.6h0M391.6 126.9h0M393.8 133.7h0M397.2 128.0h0M387.5 136.9h0M406.2 117.2h0M409.8 113.2h0M394.6 133.4h0M388.0 140.1h0M398.9 123.0h0M391.1 134.8h0M392.4 129.9h0M412.0 116.2h0M394.2 129.0h0M386.5 135.7h0M392.0 136.4h0M427.0 103.4h0M398.8 120.0h0M388.5 138.9h0M395.1 130.8h0M412.9 115.7h0M394.6 132.0h0M409.2 119.6h0M391.0 137.2h0M395.0 131.4h0M386.0 134.9h0M392.1 133.1h0M394.1 133.3h0M391.0 130.3h0M390.3 138.4h0M415.6 112.9h0M387.0 140.8h0M387.3 139.1h0M388.1 134.3h0M410.8 109.3h0M397.7 127.1h0M391.6 135.0h0M390.6 131.4h0M385.9 135.0h0M388.4 138.7h0M386.9 140.9h0M392.8 135.2h0M386.2 140.9h0M387.5 139.4h0M389.4 138.7h0M391.7 132.8h0M406.3 123.1h0M393.5 133.6h0M387.1 135.6h0M387.8 138.9h0M386.6 136.9h0M396.6 130.5h0M401.7 123.8h0M393.2 135.6h0M394.6 130.8h0M387.5 138.0h0M396.5 132.3h0M400.8 126.1h0M388.6 137.8h0M387.8 136.4h0M392.3 133.7h0M393.1 135.7h0M395.0 132.7h0M387.0 139.3h0M390.2 133.1h0M390.1 132.6h0M390.4 134.5h0M387.4 132.7h0M387.6 138.8h0M395.2 130.2h0M394.9 133.4h0M386.9 134.2h0M396.3 131.7h0M400.1 129.1h0M391.5 133.8h0M390.4 129.1h0M394.1 126.7h0M390.0 134.0h0M404.6 124.3h0M411.0 115.7h0M410.0 115.5h0M386.1 142.2h0M388.3 139.5h0M402.6 126.3h0M391.7 136.6h0M388.2 138.4h0M403.6 120.7h0M387.9 140.5h0M389.4 128.7h0M414.6 115.1h0M409.1 114.0h0M386.7 135.1h0M403.0 126.2h0M396.1 131.7h0M394.3 126.8h0M392.2 135.8h0M395.6 125.8h0M403.0 125.7h0M404.5 112.5h0M387.6 139.7h0M388.1 140.6h0M389.7 137.7h0M387.5 140.4h0M386.1 139.0h0M386.8 141.2h0M395.5 132.4h0M386.0 139.9h0M395.8 130.9h0M390.0 138.3h0M388.7 137.9h0M394.9 127.7h0M396.1 130.9h0M396.9 123.6h0M387.7 135.0h0M386.4 141.7h0M438.2 93.1h0M387.4 140.4h0M394.3 129.2h0M395.0 131.2h0M389.7 136.7h0M417.3 102.2h0M402.0 125.7h0M401.4 122.2h0M405.9 118.4h0M386.8 139.7h0M405.1 120.1h0M389.9 138.8h0M390.0 135.5h0M403.5 123.3h0M387.9 136.7h0M405.2 122.8h0M387.3 135.3h0M403.9 121.5h0M399.2 124.6h0M388.0 137.9h0M386.0 137.1h0M390.2 133.7h0M387.9 139.3h0M390.4 137.8h0M394.2 132.6h0M388.1 137.6h0M387.1 131.3h0M385.9 136.4h0M396.8 132.2h0M387.6 141.0h0M386.4 136.7h0M421.2 107.1h0M387.2 141.0h0M389.3 139.1h0M386.3 135.1h0M389.1 138.7h0M401.9 124.9h0M394.8 132.6h0M397.2 130.8h0M390.5 133.8h0M387.0 137.6h0M387.4 138.6h0M392.0 132.2h0M385.9 139.2h0M389.2 133.0h0M392.4 136.2h0M393.3 133.7h0M394.2 134.7h0M402.2 125.5h0M394.1 132.5h0M415.9 109.7h0M393.7 132.2h0M386.3 141.9h0M389.1 138.8h0M389.0 139.5h0M386.3 140.1h0M405.5 123.2h0M386.6 137.8h0M390.5 134.7h0M391.4 137.2h0M398.6 129.0h0M389.9 138.9h0M389.3 131.3h0M390.4 133.2h0M395.2 113.6h0M404.6 123.8h0M387.2 138.6h0M396.3 129.6h0M388.9 135.9h0M392.6 133.1h0M401.8 123.6h0M388.9 128.3h0M387.8 139.3h0M386.9 128.9h0M393.5 130.7h0M401.3 127.3h0M387.2 139.9h0M391.6 133.9h0M389.5 137.3h0M386.0 142.5h0M392.6 136.1h0M389.3 135.6h0M405.1 123.4h0M386.0 140.7h0M410.1 117.3h0M386.6 139.2h0M391.4 135.4h0M394.9 131.5h0M424.0 103.4h0M389.4 138.8h0M389.2 136.5h0M392.9 134.8h0M399.2 129.0h0M391.0 135.1h0M411.3 117.2h0M391.0 135.8h0M401.0 123.9h0M404.7 124.6h0M391.9 136.5h0M386.0 140.0h0M392.7 135.4h0M401.5 127.1h0M393.5 133.8h0M389.1 138.4h0M390.8 136.9h0M399.8 127.5h0M385.8 140.7h0M387.6 140.7h0M388.9 135.6h0M397.9 126.5h0M387.6 134.4h0M393.6 134.8h0M387.9 138.8h0M386.5 141.5h0M391.5 137.1h0M397.8 130.3h0M389.5 133.2h0M398.0 126.0h0M388.0 139.5h0M387.8 138.3h0M390.8 135.3h0M389.8 135.9h0M386.8 140.0h0M388.6 137.5h0M388.4 122.6h0M388.7 140.0h0M393.5 132.4h0M399.5 121.5h0M401.2 114.4h0M403.4 125.4h0M388.4 138.3h0M396.4 129.9h0M397.6 127.1h0M388.3 138.3h0M389.8 132.6h0M389.8 133.8h0M390.1 136.3h0M393.0 132.2h0M391.8 136.8h0M397.2 113.0h0M391.0 137.7h0M386.2 136.8h0M388.3 140.4h0M393.1 134.9h0M390.1 137.2h0M392.7 125.1h0M393.1 124.4h0M392.7 131.6h0M389.4 135.2h0M393.2 135.2h0M392.9 131.5h0M387.6 138.1h0M397.6 126.2h0M392.4 135.5h0M391.5 135.1h0M388.8 137.4h0M396.1 131.9h0M394.2 134.6h0M405.7 114.6h0M388.7 136.8h0M395.5 133.3h0M392.2 136.1h0M394.9 130.7h0M397.7 125.4h0M391.0 133.2h0"/>
<path stroke="#d8765a" stroke-width="1.15" stroke-linecap="square" fill="none" d="M412.2 116.4h0M436.8 94.2h0M390.6 137.7h0M406.3 121.9h0M387.8 139.2h0M388.1 139.7h0M436.5 93.3h0M393.0 134.4h0M390.2 135.8h0M386.1 140.0h0M414.7 113.1h0M386.8 140.2h0M417.2 111.0h0M403.9 123.7h0M403.3 125.1h0M385.9 142.6h0M420.4 108.5h0M389.0 138.6h0M386.8 141.8h0M417.1 112.6h0M411.1 118.4h0M400.9 126.0h0M397.8 130.3h0M430.8 98.8h0M400.1 128.4h0M395.8 133.1h0M391.2 136.8h0M389.3 139.3h0M392.7 134.0h0M404.5 123.1h0M408.2 120.9h0M390.3 136.9h0M409.0 118.2h0M401.9 125.9h0M388.3 139.2h0M410.6 116.6h0M412.9 115.1h0M392.6 136.0h0M407.0 122.0h0M394.9 131.9h0M419.4 109.0h0M423.8 105.9h0M392.5 133.6h0M399.6 129.0h0M409.8 119.3h0M407.4 119.8h0M408.8 118.6h0M391.4 135.4h0M404.9 124.2h0M428.6 102.1h0M391.8 134.1h0M390.5 137.7h0M397.5 129.6h0M421.3 106.4h0M395.8 131.7h0M396.1 132.8h0M404.4 124.1h0M413.8 115.1h0M410.4 117.5h0M423.1 106.0h0M397.8 129.6h0M386.5 141.2h0M395.8 131.4h0M390.4 137.6h0M391.7 136.7h0M387.9 138.7h0M390.3 137.0h0M391.3 137.3h0M386.3 141.5h0M419.5 109.3h0M397.3 131.3h0M396.9 130.9h0M399.5 127.2h0M437.9 93.5h0M416.5 112.4h0M395.3 133.3h0M400.0 128.1h0M391.0 137.6h0M413.6 113.9h0M388.9 139.8h0M398.1 130.4h0M406.0 121.8h0M386.3 139.5h0M386.0 142.2h0M399.7 128.8h0M389.9 136.6h0M428.9 101.0h0M415.3 113.5h0M390.5 137.3h0M399.5 126.9h0M389.3 138.8h0M388.7 138.4h0M408.4 120.7h0M401.3 126.8h0M402.4 124.6h0M404.4 122.8h0M394.7 133.2h0M420.1 108.3h0M412.3 115.3h0M402.1 124.9h0M397.9 128.9h0M402.4 125.1h0M396.9 131.0h0M394.6 133.7h0M428.7 99.1h0M412.7 115.8h0M387.4 138.6h0M408.7 119.4h0M402.6 125.8h0M405.5 123.3h0M387.6 139.2h0M398.7 129.6h0M421.0 107.5h0M408.0 119.7h0M403.0 123.9h0M388.2 138.5h0M399.9 128.3h0M389.9 137.1h0M418.4 111.1h0M394.0 134.0h0M401.1 128.1h0M421.3 108.7h0M393.5 134.2h0M437.5 93.4h0M406.5 120.8h0M392.9 133.2h0M406.2 123.0h0M393.1 133.3h0M388.1 137.7h0M391.5 135.7h0M418.6 109.3h0M429.3 101.3h0M404.1 123.1h0M391.9 134.7h0M399.3 128.6h0M429.5 99.0h0M386.7 141.5h0M425.2 104.1h0M386.4 141.5h0M401.5 125.4h0M391.4 135.9h0M389.0 138.1h0M387.2 139.9h0M389.9 138.8h0M397.3 130.2h0M392.4 135.5h0M400.8 128.3h0M389.2 136.6h0M395.1 133.5h0M393.1 133.0h0M389.9 138.6h0M386.6 140.5h0M390.9 136.0h0M387.8 140.6h0M392.5 135.2h0M399.2 127.8h0M390.7 135.2h0M415.6 112.8h0M393.4 132.9h0M397.4 130.1h0M404.3 124.9h0M414.5 114.8h0M390.8 137.8h0M386.1 142.5h0M417.6 110.8h0M408.1 121.3h0M398.5 128.8h0M411.6 116.1h0M389.5 139.0h0M429.9 99.6h0M423.3 106.7h0M418.6 110.2h0M397.2 129.9h0M388.6 137.7h0M411.4 117.8h0M394.1 133.6h0M423.3 105.6h0M399.7 127.9h0M393.8 135.1h0M392.1 135.6h0M417.8 110.9h0M401.9 124.9h0M387.0 141.3h0M407.0 122.0h0M387.9 140.2h0M402.7 125.9h0M405.6 121.7h0M389.1 137.8h0M395.8 132.9h0M387.5 140.7h0M424.2 105.4h0M421.1 109.0h0M409.6 119.9h0M388.0 140.2h0M413.4 116.2h0M388.4 137.7h0M400.0 128.9h0M389.4 137.4h0M410.5 116.1h0M400.0 128.4h0M425.8 104.5h0M399.5 129.1h0M388.4 139.7h0M426.3 104.0h0M424.7 105.5h0M401.5 126.1h0M405.9 121.0h0M418.0 111.2h0M386.9 141.6h0M397.5 129.7h0M388.5 139.5h0M399.9 127.7h0M390.0 138.8h0M393.2 133.5h0M411.8 117.5h0M386.7 139.5h0M396.1 131.9h0M395.7 132.8h0M402.5 124.7h0M412.4 115.5h0M414.5 113.6h0M435.6 95.7h0M389.3 138.9h0M408.9 119.0h0M396.8 129.6h0M386.8 141.3h0M390.8 137.0h0M421.2 108.2h0M387.9 138.0h0M418.0 109.6h0M387.8 140.2h0M390.1 136.8h0M397.3 131.2h0M407.2 121.5h0M397.0 131.5h0M417.5 111.4h0M406.2 120.7h0M391.3 136.3h0M393.7 133.8h0M386.9 139.2h0M401.2 125.2h0M387.1 140.2h0M391.5 137.3h0M436.2 94.7h0M396.5 132.4h0M397.0 129.0h0M390.9 137.2h0M410.7 117.5h0M411.7 117.2h0M396.6 132.4h0M399.8 128.3h0M423.5 105.6h0M404.2 122.4h0M426.1 103.7h0M390.0 137.4h0M391.3 135.0h0M394.6 131.4h0M390.1 136.1h0M389.3 137.5h0M430.2 100.8h0M409.3 120.2h0M387.7 140.9h0M413.0 114.8h0M429.1 101.1h0M395.2 130.8h0M393.7 133.0h0M390.5 137.8h0M391.6 136.7h0M392.2 136.6h0M426.0 103.3h0M426.5 103.8h0M396.7 132.0h0M391.4 135.5h0M391.4 136.9h0M402.9 125.3h0M415.2 114.3h0M419.7 109.1h0M410.8 117.3h0M437.9 91.3h0M419.6 110.2h0M426.5 103.7h0M386.7 141.3h0M389.4 138.5h0M403.9 123.0h0M392.0 134.8h0M385.8 140.1h0M399.1 129.7h0M412.2 117.1h0M392.6 135.4h0M392.7 133.9h0M407.7 120.2h0M403.2 123.1h0M411.0 116.6h0M395.8 131.4h0M424.4 105.7h0M393.5 134.8h0M399.2 129.4h0M433.9 95.9h0M392.7 134.5h0M398.3 129.9h0M417.1 111.2h0M391.1 136.1h0M403.7 124.3h0M392.3 134.6h0M400.3 126.5h0M388.3 138.6h0M417.9 110.0h0M407.2 120.8h0M391.0 136.8h0M386.5 139.6h0M419.6 108.8h0M386.4 140.9h0M409.0 119.7h0M396.6 131.1h0M389.0 137.3h0M405.6 123.5h0M404.3 124.2h0M388.6 137.5h0M400.7 125.7h0M433.3 97.3h0M387.2 138.5h0M408.2 118.3h0M389.4 136.6h0M412.2 117.1h0M401.7 126.5h0M387.7 140.0h0M388.9 139.2h0M390.8 137.9h0M400.7 128.3h0M400.1 126.7h0M386.4 141.5h0M391.9 133.9h0M402.3 126.2h0M399.0 127.1h0M393.9 134.8h0M429.2 101.2h0M397.3 128.9h0M408.4 120.6h0M421.7 106.7h0M421.3 107.3h0M398.9 130.2h0M398.8 130.2h0M410.9 117.6h0M393.9 134.8h0M407.0 121.0h0M413.1 115.9h0M391.5 136.9h0M431.3 97.7h0M389.1 139.5h0M393.0 135.0h0M405.8 122.3h0M392.6 133.6h0M405.9 123.5h0M397.1 130.8h0M391.2 136.7h0M401.4 127.6h0M416.0 112.7h0M426.7 102.3h0M395.7 131.8h0M388.8 139.1h0M386.2 140.2h0M411.2 117.5h0M407.4 119.1h0M401.2 126.9h0M386.6 140.4h0M405.7 123.4h0M404.0 124.4h0M400.7 128.0h0M411.5 118.0h0M399.3 129.6h0M419.7 109.9h0M396.4 130.7h0M403.9 125.0h0M394.4 134.0h0M399.7 127.1h0M435.8 94.8h0M399.7 128.7h0M413.4 113.9h0M400.5 128.5h0M411.3 117.2h0M400.4 126.4h0M388.1 138.9h0M391.7 135.8h0M386.6 139.1h0M390.0 137.3h0M407.6 120.4h0M389.4 137.9h0M392.6 136.0h0M408.7 120.2h0M422.2 107.5h0M397.6 131.4h0M416.1 112.0h0M397.7 131.1h0M403.2 125.0h0M397.0 132.0h0M393.6 134.4h0M389.0 138.4h0M391.8 135.3h0M408.2 120.0h0M405.7 121.8h0M410.4 119.0h0M406.9 121.0h0M414.6 114.9h0M389.8 137.9h0M386.9 140.2h0M407.1 119.9h0M424.6 103.1h0M419.5 108.9h0M397.2 131.8h0M401.3 127.9h0M389.5 136.9h0M388.2 140.0h0M422.5 107.5h0M389.6 136.2h0M388.5 140.1h0M385.8 142.0h0M400.6 128.5h0M417.3 111.9h0M397.8 128.3h0M392.8 135.7h0M419.5 107.8h0M399.6 127.4h0M400.3 127.6h0M397.6 129.8h0M387.0 139.0h0M390.4 136.3h0M409.1 119.8h0M394.7 133.6h0M406.2 122.8h0M389.0 137.2h0M394.5 133.7h0M396.2 131.7h0M425.4 104.9h0M386.9 141.1h0M393.9 133.7h0M403.0 125.0h0M390.9 137.0h0M397.2 131.1h0M418.0 111.3h0M397.3 130.7h0M410.8 118.8h0M398.8 129.2h0M402.3 124.3h0M401.7 125.5h0M393.2 135.5h0M422.8 105.5h0M416.8 112.7h0M395.5 133.3h0M430.2 98.4h0M395.9 131.2h0M408.1 121.1h0M415.8 113.2h0M387.4 140.5h0M390.4 138.0h0M387.7 138.9h0M393.4 134.8h0M413.8 114.8h0M400.1 128.5h0M416.5 110.6h0M391.4 136.3h0M413.8 113.5h0M422.9 106.6h0M394.6 133.6h0M406.2 121.7h0M420.9 108.6h0M416.9 112.2h0M420.4 109.0h0M398.6 128.9h0M409.9 119.6h0M397.8 130.1h0M419.8 107.9h0M386.4 141.6h0M423.2 106.2h0M389.4 139.1h0M408.8 119.5h0M387.2 140.2h0M385.9 142.3h0M393.6 134.9h0M409.5 118.0h0M386.9 140.8h0M396.2 132.3h0M410.6 117.0h0M396.3 132.5h0M394.4 133.6h0M397.5 131.0h0M402.2 126.4h0M398.5 128.7h0M387.2 141.3h0M392.8 135.7h0M409.4 119.5h0M386.8 140.8h0M397.1 130.6h0M388.8 138.4h0M393.1 133.8h0M404.9 122.4h0M423.1 107.0h0M388.6 139.9h0M392.0 135.4h0M408.2 118.7h0M393.4 134.2h0M419.6 108.0h0M429.8 99.4h0M409.3 118.9h0M405.3 123.8h0M395.9 132.2h0M397.0 129.6h0M411.5 115.8h0M403.0 125.1h0M419.0 109.6h0M419.5 108.9h0M393.3 135.0h0M415.8 113.3h0M429.5 99.3h0M415.3 112.6h0M438.3 93.4h0M387.2 140.2h0M389.6 137.8h0M407.6 120.0h0M411.2 116.3h0M388.9 137.4h0M414.6 112.7h0M418.6 108.3h0M412.7 116.5h0M388.9 139.2h0M400.4 128.6h0M387.2 141.3h0M390.6 137.3h0M396.8 130.3h0M386.4 140.1h0M416.0 112.8h0M399.3 129.6h0M430.1 100.3h0M418.6 111.3h0M390.5 135.3h0M390.6 137.5h0M416.3 112.4h0M397.3 131.2h0M393.2 135.0h0M388.6 138.3h0M402.0 127.1h0M392.8 133.2h0M396.6 131.8h0M434.4 96.9h0M404.7 122.7h0M386.9 141.7h0M432.7 95.5h0M405.5 123.5h0M417.4 112.4h0M389.8 136.4h0M388.5 139.2h0M390.5 135.7h0M397.5 130.4h0M427.2 101.9h0M402.5 126.3h0M386.2 141.2h0M417.8 110.6h0M399.5 126.7h0M401.1 127.9h0M387.5 139.3h0M420.0 108.3h0M407.6 121.5h0M434.8 95.7h0M386.3 141.7h0M392.5 135.8h0M398.7 129.2h0M389.6 136.3h0M386.7 141.7h0M397.5 129.9h0M395.4 132.9h0M389.5 138.4h0M393.5 133.8h0M403.7 122.6h0M403.2 125.7h0M436.9 94.2h0M400.1 127.7h0M402.6 125.9h0M415.0 114.0h0M400.8 127.8h0M396.5 130.1h0M406.0 121.5h0M414.9 114.8h0M397.4 130.6h0M424.9 103.3h0M406.9 120.5h0M426.1 104.2h0M389.7 137.7h0M392.4 135.9h0M424.0 106.2h0M411.0 116.2h0M401.6 125.5h0M405.3 122.9h0M395.9 131.2h0M423.7 105.0h0M405.2 123.3h0M402.9 124.8h0M413.5 114.2h0M396.4 130.8h0M390.5 136.0h0M403.0 124.1h0M406.4 122.6h0M405.9 120.5h0M421.8 108.3h0M394.3 132.8h0M387.6 140.1h0M429.4 100.3h0M387.1 140.6h0M402.7 126.2h0M401.0 126.5h0M431.7 96.9h0M390.8 136.3h0M391.1 135.5h0M400.6 127.1h0M390.7 136.3h0M397.1 131.1h0M400.6 128.0h0M423.4 106.6h0M414.2 113.8h0M391.1 137.1h0M389.6 139.0h0M404.9 123.9h0M388.4 140.2h0M396.2 132.1h0M394.9 132.8h0M415.2 112.0h0M415.9 111.3h0M391.9 136.4h0M405.9 120.6h0M431.2 98.5h0M415.1 114.0h0M430.4 99.8h0M406.8 122.4h0M407.0 120.6h0M428.2 102.3h0M395.3 133.4h0M392.3 136.5h0M427.1 102.7h0M399.0 129.1h0M407.5 119.4h0M392.7 133.7h0M397.3 129.8h0M392.2 136.2h0M399.0 128.8h0M392.0 134.5h0M401.0 127.6h0M396.3 130.5h0M411.0 117.2h0M390.0 137.4h0M395.6 131.8h0M404.7 122.5h0M392.8 135.7h0M388.7 137.9h0M386.3 141.2h0M402.6 126.6h0M412.4 116.7h0M402.5 124.3h0M412.4 117.1h0M423.3 106.3h0M392.5 135.5h0M415.5 114.2h0M394.2 131.8h0M408.3 119.6h0M418.7 109.4h0M412.9 114.3h0M411.4 117.8h0M418.3 111.6h0M400.8 126.2h0M391.7 136.2h0M394.5 133.8h0M396.5 132.4h0M405.6 121.3h0M414.4 114.7h0M387.7 138.6h0M432.2 96.2h0M391.2 136.1h0M417.6 111.3h0M425.6 103.9h0M391.6 136.3h0M392.4 135.4h0M427.6 102.5h0M398.7 130.2h0M390.8 137.7h0M402.8 126.3h0M394.6 133.4h0M411.0 118.4h0M388.8 139.8h0M395.4 131.6h0M401.8 126.1h0M401.9 125.2h0M395.0 133.5h0M386.1 141.4h0M416.6 112.4h0M388.3 139.4h0M395.1 132.7h0M392.1 136.2h0M397.1 131.2h0M417.6 110.8h0M397.7 130.5h0M391.8 136.4h0M426.1 104.0h0M402.9 126.0h0M396.9 131.6h0M405.4 122.9h0M402.2 125.1h0M393.2 133.3h0M410.3 119.3h0M391.6 134.2h0M393.6 134.0h0M411.1 118.0h0M391.4 137.4h0M399.0 130.2h0M436.6 93.0h0M405.5 123.8h0M428.4 101.3h0M394.5 134.0h0M416.5 112.7h0M400.1 127.8h0M430.4 100.5h0M438.1 93.6h0M407.6 120.6h0M396.6 131.5h0M389.1 139.1h0M401.6 126.7h0M421.7 107.6h0M391.9 136.4h0M395.5 130.7h0M398.0 130.9h0M392.4 136.0h0M423.6 105.3h0M402.5 123.8h0M388.0 137.9h0M396.7 131.6h0M401.4 126.3h0M397.2 131.7h0M390.9 136.6h0M420.0 107.6h0M425.3 102.3h0M389.1 139.0h0M397.1 129.4h0M387.7 140.4h0M389.9 137.8h0M386.5 140.3h0M406.5 121.6h0M401.7 126.9h0M416.5 113.2h0M402.5 126.0h0M389.4 138.3h0M396.9 131.4h0M399.8 128.1h0M398.0 130.0h0M408.1 120.7h0M396.4 132.2h0M408.2 119.3h0M386.9 139.4h0M390.8 134.9h0M414.9 114.3h0M391.4 136.6h0M410.5 117.4h0M395.0 133.7h0M386.4 141.7h0M407.9 120.5h0M422.0 108.3h0M402.8 125.5h0M415.9 113.0h0M433.7 97.5h0M398.9 129.5h0M408.2 118.8h0M404.7 123.0h0M405.6 123.1h0M395.6 132.2h0M397.4 129.9h0M404.8 121.5h0M391.8 136.5h0M388.4 139.7h0M407.1 121.9h0M389.8 136.7h0M401.1 125.9h0M392.5 136.2h0M406.9 119.7h0M388.1 138.3h0M415.3 113.9h0M403.5 125.3h0M395.5 132.4h0M390.6 136.2h0M396.8 132.1h0M386.7 139.4h0M386.9 141.0h0M390.6 136.8h0M393.9 132.8h0M407.3 121.2h0M390.1 138.0h0M386.9 141.2h0M391.3 136.6h0M398.8 128.9h0M392.4 134.7h0M395.6 132.7h0M391.0 135.6h0M388.3 137.9h0M387.3 141.4h0M386.7 140.1h0M401.9 125.7h0M388.9 138.5h0M393.9 133.0h0M389.4 136.7h0M398.4 128.2h0M395.6 132.8h0M387.6 140.6h0M400.6 128.5h0M411.1 118.1h0M389.2 136.5h0M388.6 139.0h0M398.1 129.0h0M396.9 131.6h0M393.8 133.7h0M394.6 133.4h0M388.0 140.1h0M391.1 134.8h0M412.0 116.2h0M392.0 136.4h0M427.0 103.4h0M388.5 138.9h0M395.1 130.8h0M412.9 115.7h0M394.6 132.0h0M409.2 119.6h0M391.0 137.2h0M395.0 131.4h0M394.1 133.3h0M390.3 138.4h0M415.6 112.9h0M387.0 140.8h0M387.3 139.1h0M391.6 135.0h0M388.4 138.7h0M386.9 140.9h0M392.8 135.2h0M386.2 140.9h0M387.5 139.4h0M389.4 138.7h0M406.3 123.1h0M393.5 133.6h0M387.8 138.9h0M396.6 130.5h0M393.2 135.6h0M396.5 132.3h0M400.8 126.1h0M388.6 137.8h0M392.3 133.7h0M393.1 135.7h0M395.0 132.7h0M387.0 139.3h0M387.6 138.8h0M394.9 133.4h0M396.3 131.7h0M400.1 129.1h0M404.6 124.3h0M411.0 115.7h0M386.1 142.2h0M388.3 139.5h0M402.6 126.3h0M391.7 136.6h0M388.2 138.4h0M387.9 140.5h0M414.6 115.1h0M403.0 126.2h0M396.1 131.7h0M392.2 135.8h0M403.0 125.7h0M387.6 139.7h0M388.1 140.6h0M389.7 137.7h0M387.5 140.4h0M386.8 141.2h0M395.5 132.4h0M386.0 139.9h0M395.8 130.9h0M390.0 138.3h0M388.7 137.9h0M396.1 130.9h0M386.4 141.7h0M438.2 93.1h0M387.4 140.4h0M395.0 131.2h0M389.7 136.7h0M402.0 125.7h0M386.8 139.7h0M389.9 138.8h0M403.5 123.3h0M405.2 122.8h0M388.0 137.9h0M387.9 139.3h0M390.4 137.8h0M394.2 132.6h0M388.1 137.6h0M396.8 132.2h0M387.6 141.0h0M421.2 107.1h0M387.2 141.0h0M389.3 139.1h0M389.1 138.7h0M401.9 124.9h0M394.8 132.6h0M397.2 130.8h0M387.4 138.6h0M392.4 136.2h0M393.3 133.7h0M394.2 134.7h0M402.2 125.5h0M394.1 132.5h0M393.7 132.2h0M386.3 141.9h0M389.1 138.8h0M389.0 139.5h0M386.3 140.1h0M405.5 123.2h0M391.4 137.2h0M398.6 129.0h0M389.9 138.9h0M404.6 123.8h0M387.2 138.6h0M396.3 129.6h0M387.8 139.3h0M401.3 127.3h0M387.2 139.9h0M389.5 137.3h0M386.0 142.5h0M392.6 136.1h0M405.1 123.4h0M386.0 140.7h0M410.1 117.3h0M386.6 139.2h0M391.4 135.4h0M394.9 131.5h0M424.0 103.4h0M389.4 138.8h0M389.2 136.5h0M392.9 134.8h0M399.2 129.0h0M391.0 135.1h0M411.3 117.2h0M391.0 135.8h0M404.7 124.6h0M391.9 136.5h0M386.0 140.0h0M392.7 135.4h0M401.5 127.1h0M393.5 133.8h0M389.1 138.4h0M390.8 136.9h0M399.8 127.5h0M385.8 140.7h0M387.6 140.7h0M393.6 134.8h0M387.9 138.8h0M386.5 141.5h0M391.5 137.1h0M397.8 130.3h0M388.0 139.5h0M387.8 138.3h0M390.8 135.3h0M389.8 135.9h0M386.8 140.0h0M388.6 137.5h0M388.7 140.0h0M393.5 132.4h0M403.4 125.4h0M388.4 138.3h0M396.4 129.9h0M388.3 138.3h0M390.1 136.3h0M391.8 136.8h0M391.0 137.7h0M388.3 140.4h0M393.1 134.9h0M390.1 137.2h0M393.2 135.2h0M387.6 138.1h0M392.4 135.5h0M391.5 135.1h0M388.8 137.4h0M396.1 131.9h0M394.2 134.6h0M395.5 133.3h0M392.2 136.1h0"/>
<path stroke="#dc9078" stroke-width="1.15" stroke-linecap="square" fill="none" d="M390.4 133.0h0M417.2 94.3h0M399.0 115.9h0M407.4 118.7h0M417.5 102.4h0M404.5 121.5h0M386.5 127.3h0M393.9 128.6h0M400.0 124.4h0M391.4 130.7h0M406.8 118.7h0M386.4 131.3h0M389.6 135.4h0M413.1 105.1h0M396.6 116.1h0M413.0 111.5h0M391.7 133.0h0M412.0 113.1h0M417.4 103.3h0M391.1 130.5h0M391.0 116.3h0M421.4 105.2h0M417.2 108.7h0M417.8 103.9h0M390.3 130.7h0M394.8 123.9h0M388.6 134.3h0M408.5 117.5h0M396.8 127.0h0M415.4 111.0h0M396.4 129.0h0M399.8 125.3h0M403.4 120.6h0M404.4 118.9h0M408.5 116.3h0M413.3 111.3h0M394.1 116.5h0M387.4 137.6h0M388.9 130.4h0M391.2 103.9h0M397.4 122.2h0M391.8 132.6h0M387.1 137.9h0M390.1 133.2h0M420.6 100.4h0M401.7 122.0h0M387.2 137.7h0M396.1 120.5h0M411.8 114.1h0M422.0 92.9h0M395.3 119.5h0M393.0 101.4h0M407.3 117.8h0M386.7 129.1h0M432.0 86.4h0M392.8 128.3h0M414.3 111.7h0M403.1 120.3h0M388.9 123.3h0M389.7 120.9h0M407.2 117.8h0M391.4 129.1h0M396.5 127.7h0M396.8 124.8h0M394.3 131.3h0M413.7 110.0h0M401.2 124.5h0M387.2 137.0h0M420.0 105.2h0M406.8 116.3h0M395.5 126.6h0M418.3 107.7h0M390.3 132.9h0M386.6 138.9h0M397.4 128.5h0M396.5 107.3h0M431.1 91.3h0M391.5 109.8h0M387.2 138.3h0M404.7 118.2h0M404.8 114.8h0M390.7 132.5h0M387.3 133.2h0M420.6 105.3h0M394.9 116.3h0M396.7 124.3h0M392.3 133.0h0M386.8 138.6h0M389.4 132.1h0M390.3 124.6h0M411.9 108.5h0M411.5 113.2h0M394.0 128.6h0M398.8 125.7h0M386.8 131.4h0M420.5 91.0h0M388.0 109.5h0M389.5 134.6h0M386.7 138.1h0M403.6 119.5h0M400.3 122.7h0M397.8 125.1h0M390.1 127.7h0M402.7 123.0h0M389.4 130.3h0M387.7 136.2h0M407.2 118.6h0M389.5 134.6h0M388.0 132.6h0M396.7 124.0h0M397.3 120.8h0M390.7 132.5h0M411.1 112.1h0M409.3 115.4h0M398.8 122.0h0M398.3 118.2h0M392.1 115.6h0M386.3 136.2h0M412.5 112.2h0M404.8 121.2h0M392.4 117.7h0M392.6 128.5h0M391.9 128.7h0M395.1 130.3h0M387.0 132.4h0M392.0 133.7h0M394.9 130.8h0M397.7 118.6h0M423.8 101.4h0M389.1 136.1h0M430.3 93.3h0M387.6 135.3h0M407.1 116.2h0M389.8 133.8h0M408.5 106.5h0M409.1 116.6h0M388.0 137.1h0M400.5 120.1h0M397.9 127.0h0M392.8 129.0h0M392.5 133.2h0M398.1 124.5h0M390.6 132.0h0M403.0 116.3h0M400.5 125.6h0M400.3 123.3h0M424.6 99.1h0M386.5 135.9h0M396.1 127.7h0M394.2 128.9h0M392.8 132.1h0M403.3 119.2h0M398.6 120.8h0M399.7 124.8h0M396.1 125.8h0M413.3 105.7h0M402.8 122.5h0M393.1 131.9h0M389.2 135.9h0M398.8 94.8h0M404.7 118.9h0M392.8 118.8h0M386.3 123.1h0M392.9 132.2h0M411.2 112.5h0M395.3 128.2h0M389.5 135.1h0M386.1 137.7h0M417.2 109.0h0M400.2 125.8h0M396.3 114.5h0M425.5 95.1h0M423.2 88.3h0M389.1 119.6h0M389.6 132.5h0M423.0 97.3h0M405.3 117.2h0M405.5 119.3h0M398.5 127.4h0M403.6 119.0h0M394.7 119.5h0M387.2 137.4h0M386.0 137.8h0M423.6 102.6h0M408.0 117.2h0M400.4 124.7h0M385.9 139.4h0M417.5 108.8h0M397.9 127.5h0M407.8 100.2h0M390.3 128.6h0M392.2 131.3h0M388.0 137.2h0M403.6 122.0h0M431.2 96.3h0M390.0 134.6h0M413.7 111.5h0M392.1 126.5h0M394.9 130.5h0M387.4 134.2h0M405.6 116.5h0M388.1 137.0h0M423.4 97.1h0M391.0 132.7h0M388.1 136.0h0M407.9 118.4h0M398.1 126.3h0M392.8 130.8h0M394.7 130.4h0M410.9 112.8h0M396.8 128.9h0M407.8 112.5h0M406.0 115.7h0M403.6 119.3h0M403.1 88.5h0M402.0 118.3h0M415.0 110.9h0M428.8 93.2h0M389.8 133.6h0M392.2 90.0h0M419.6 99.2h0M406.5 116.9h0M421.3 105.0h0M388.7 117.5h0M387.4 138.0h0M405.7 118.8h0M424.3 102.2h0M385.9 112.6h0M395.2 130.7h0M396.7 128.8h0M392.8 132.0h0M395.1 128.2h0M390.0 132.9h0M388.6 129.9h0M408.0 115.3h0M397.9 125.4h0M403.9 122.3h0M393.2 128.6h0M392.8 132.1h0M390.8 133.7h0M394.8 128.9h0M387.6 137.3h0M398.0 127.2h0M395.3 129.6h0M433.5 94.1h0M396.7 128.7h0M389.5 132.3h0M385.8 136.9h0M409.5 100.5h0M386.8 137.8h0M391.4 130.9h0M387.5 124.7h0M400.8 123.1h0M386.6 136.1h0M399.4 117.2h0M396.4 122.0h0M386.0 134.4h0M391.9 133.1h0M399.1 122.1h0M402.4 118.0h0M392.5 118.0h0M395.1 127.3h0M389.3 132.9h0M394.4 131.0h0M399.8 118.4h0M416.9 108.0h0M400.8 124.8h0M407.2 116.3h0M399.7 125.5h0M411.8 114.4h0M421.1 105.9h0M386.4 133.2h0M388.5 129.9h0M389.3 133.8h0M403.8 119.5h0M391.9 123.4h0M410.2 115.2h0M422.9 100.6h0M406.7 116.0h0M391.4 133.2h0M394.7 130.0h0M392.5 127.6h0M387.4 109.4h0M388.2 126.8h0M389.8 129.6h0M391.6 122.5h0M406.7 114.0h0M391.8 132.2h0M396.0 126.0h0M410.1 114.4h0M416.5 109.3h0M428.6 98.0h0M422.5 94.8h0M433.3 83.3h0M403.5 121.6h0M411.2 114.8h0M390.9 126.6h0M387.3 136.3h0M395.2 129.0h0M398.3 127.3h0M387.6 132.5h0M389.7 135.1h0M402.5 122.3h0M392.7 130.0h0M394.3 128.8h0M397.7 120.2h0M388.7 133.2h0M419.1 107.4h0M410.9 115.4h0M403.2 106.1h0M398.4 124.1h0M406.8 118.8h0M386.9 137.1h0M393.4 130.9h0M392.3 131.6h0M391.3 130.3h0M389.0 118.9h0M397.2 125.9h0M394.7 126.2h0M394.6 131.1h0M389.7 133.3h0M389.9 130.8h0M386.7 138.2h0M417.0 105.7h0M423.2 101.9h0M388.8 132.4h0M388.3 126.1h0M402.9 122.2h0M420.3 104.7h0M413.4 110.7h0M388.3 126.6h0M386.7 136.7h0M425.7 92.8h0M389.1 131.7h0M393.3 126.6h0M388.0 129.2h0M401.2 124.6h0M389.1 134.5h0M410.5 115.1h0M389.9 117.1h0M397.3 125.0h0M404.0 121.4h0M389.4 132.0h0M385.9 134.4h0M393.4 132.0h0M395.9 123.1h0M393.1 99.5h0M387.2 138.0h0M387.7 131.5h0M386.4 133.2h0M385.8 134.5h0M400.0 124.5h0M413.9 111.3h0M397.7 124.3h0M392.4 132.7h0M398.1 121.8h0M429.2 93.9h0M426.1 101.4h0M390.8 132.8h0M402.0 123.0h0M410.6 113.3h0M416.4 102.2h0M394.8 130.3h0M399.8 118.6h0M397.4 126.0h0M402.9 122.5h0M388.1 131.5h0M386.0 139.3h0M432.8 84.2h0M386.6 136.4h0M392.8 120.2h0M408.8 115.0h0M414.0 110.7h0M410.1 111.2h0M407.4 116.3h0M398.0 125.7h0M393.5 132.1h0M393.1 131.4h0M388.0 135.8h0M397.3 126.7h0M397.2 128.2h0M401.0 124.6h0M437.2 91.3h0M390.0 128.3h0M421.8 101.2h0M401.3 115.0h0M389.4 134.1h0M424.0 97.5h0M420.5 103.8h0M385.8 135.6h0M399.5 121.2h0M420.7 97.7h0M396.4 122.1h0M393.9 127.2h0M389.5 131.7h0M407.0 118.6h0M412.9 112.6h0M407.1 118.7h0M388.9 136.3h0M407.9 109.4h0M406.5 117.6h0M409.3 109.2h0M392.7 127.6h0M397.0 127.0h0M389.9 135.6h0M391.1 131.7h0M430.7 96.7h0M386.2 139.0h0M428.7 94.2h0M424.4 99.8h0M385.9 136.0h0M431.5 90.7h0M397.5 127.6h0M390.6 122.9h0M402.1 123.5h0M405.2 116.7h0M394.1 124.5h0M399.1 123.0h0M410.1 115.5h0M387.3 137.5h0M408.0 109.8h0M396.5 128.5h0M400.9 124.9h0M426.4 96.5h0M400.8 123.6h0M392.2 131.9h0M399.8 125.9h0M390.3 124.7h0M424.2 96.4h0M393.7 119.2h0M388.6 136.8h0M387.1 133.7h0M402.9 118.3h0M391.4 127.0h0M389.1 128.6h0M390.1 131.5h0M387.6 132.7h0M401.0 122.5h0M389.3 127.7h0M404.1 106.1h0M387.1 121.0h0M398.2 127.0h0M387.0 137.5h0M394.9 121.7h0M388.6 128.6h0M394.8 126.4h0M390.6 119.8h0M410.2 116.0h0M388.6 136.9h0M390.7 117.5h0M394.6 130.6h0M392.0 131.9h0M392.9 132.4h0M400.9 119.7h0M392.3 132.4h0M391.4 132.5h0M387.3 136.3h0M404.7 107.4h0M401.7 120.4h0M391.6 126.9h0M397.2 128.0h0M387.5 136.9h0M406.2 117.2h0M409.8 113.2h0M398.9 123.0h0M392.4 129.9h0M394.2 129.0h0M386.5 135.7h0M398.8 120.0h0M386.0 134.9h0M392.1 133.1h0M391.0 130.3h0M388.1 134.3h0M410.8 109.3h0M397.7 127.1h0M390.6 131.4h0M385.9 135.0h0M391.7 132.8h0M387.1 135.6h0M386.6 136.9h0M401.7 123.8h0M394.6 130.8h0M387.5 138.0h0M387.8 136.4h0M390.2 133.1h0M390.1 132.6h0M390.4 134.5h0M387.4 132.7h0M395.2 130.2h0M386.9 134.2h0M391.5 133.8h0M390.4 129.1h0M394.1 126.7h0M390.0 134.0h0M410.0 115.5h0M403.6 120.7h0M389.4 128.7h0M409.1 114.0h0M386.7 135.1h0M394.3 126.8h0M395.6 125.8h0M404.5 112.5h0M386.1 139.0h0M394.9 127.7h0M396.9 123.6h0M387.7 135.0h0M394.3 129.2h0M417.3 102.2h0M401.4 122.2h0M405.9 118.4h0M405.1 120.1h0M390.0 135.5h0M387.9 136.7h0M387.3 135.3h0M403.9 121.5h0M399.2 124.6h0M386.0 137.1h0M390.2 133.7h0M387.1 131.3h0M385.9 136.4h0M386.4 136.7h0M386.3 135.1h0M390.5 133.8h0M387.0 137.6h0M392.0 132.2h0M385.9 139.2h0M389.2 133.0h0M415.9 109.7h0M386.6 137.8h0M390.5 134.7h0M389.3 131.3h0M390.4 133.2h0M395.2 113.6h0M388.9 135.9h0M392.6 133.1h0M401.8 123.6h0M388.9 128.3h0M386.9 128.9h0M393.5 130.7h0M391.6 133.9h0M389.3 135.6h0M401.0 123.9h0M388.9 135.6h0M397.9 126.5h0M387.6 134.4h0M389.5 133.2h0M398.0 126.0h0M388.4 122.6h0M399.5 121.5h0M401.2 114.4h0M397.6 127.1h0M389.8 132.6h0M389.8 133.8h0M393.0 132.2h0M397.2 113.0h0M386.2 136.8h0M392.7 125.1h0M393.1 124.4h0M392.7 131.6h0M389.4 135.2h0M392.9 131.5h0M397.6 126.2h0M405.7 114.6h0M388.7 136.8h0M394.9 130.7h0M397.7 125.4h0M391.0 133.2h0"/>
<path stroke="#9a8880" stroke-width="1.0" stroke-linecap="square" fill="none" d="M412.2 116.4h0M436.8 94.2h0M390.6 137.7h0M390.4 133.0h0M406.3 121.9h0M387.8 139.2h0M417.2 94.3h0M388.1 139.7h0M399.0 115.9h0M436.5 93.3h0M393.0 134.4h0M390.2 135.8h0M407.4 118.7h0M417.5 102.4h0M404.5 121.5h0M386.5 127.3h0M393.9 128.6h0M386.1 140.0h0M414.7 113.1h0M386.8 140.2h0M400.0 124.4h0M391.4 130.7h0M417.2 111.0h0M403.9 123.7h0M406.8 118.7h0M386.4 131.3h0M403.3 125.1h0M385.9 142.6h0M389.6 135.4h0M420.4 108.5h0M413.1 105.1h0M396.6 116.1h0M389.0 138.6h0M413.0 111.5h0M386.8 141.8h0M417.1 112.6h0M411.1 118.4h0M391.7 133.0h0M412.0 113.1h0M400.9 126.0h0M417.4 103.3h0M397.8 130.3h0M391.1 130.5h0M430.8 98.8h0M391.0 116.3h0M421.4 105.2h0M400.1 128.4h0M395.8 133.1h0M417.2 108.7h0M391.2 136.8h0M389.3 139.3h0M392.7 134.0h0M404.5 123.1h0M408.2 120.9h0M390.3 136.9h0M409.0 118.2h0M417.8 103.9h0M390.3 130.7h0M401.9 125.9h0M388.3 139.2h0M394.8 123.9h0M410.6 116.6h0M412.9 115.1h0M392.6 136.0h0M407.0 122.0h0M394.9 131.9h0M388.6 134.3h0M419.4 109.0h0M423.8 105.9h0M408.5 117.5h0M392.5 133.6h0M399.6 129.0h0M409.8 119.3h0M396.8 127.0h0M407.4 119.8h0M415.4 111.0h0M396.4 129.0h0M408.8 118.6h0M391.4 135.4h0M404.9 124.2h0M399.8 125.3h0M428.6 102.1h0M391.8 134.1h0M390.5 137.7h0M403.4 120.6h0M397.5 129.6h0M421.3 106.4h0M404.4 118.9h0M395.8 131.7h0M396.1 132.8h0M404.4 124.1h0M413.8 115.1h0M410.4 117.5h0M423.1 106.0h0M397.8 129.6h0M408.5 116.3h0M386.5 141.2h0M413.3 111.3h0M394.1 116.5h0M387.4 137.6h0M395.8 131.4h0M390.4 137.6h0M391.7 136.7h0M387.9 138.7h0M390.3 137.0h0M391.3 137.3h0M386.3 141.5h0M419.5 109.3h0M397.3 131.3h0M396.9 130.9h0M399.5 127.2h0M437.9 93.5h0M416.5 112.4h0M395.3 133.3h0M400.0 128.1h0M391.0 137.6h0M388.9 130.4h0M391.2 103.9h0M413.6 113.9h0M397.4 122.2h0M388.9 139.8h0M391.8 132.6h0M398.1 130.4h0M406.0 121.8h0M386.3 139.5h0M386.0 142.2h0M387.1 137.9h0M399.7 128.8h0M389.9 136.6h0M428.9 101.0h0M415.3 113.5h0M390.5 137.3h0M390.1 133.2h0M399.5 126.9h0M420.6 100.4h0M401.7 122.0h0M389.3 138.8h0M388.7 138.4h0M387.2 137.7h0M396.1 120.5h0M411.8 114.1h0M408.4 120.7h0M401.3 126.8h0M402.4 124.6h0M422.0 92.9h0M395.3 119.5h0M393.0 101.4h0M404.4 122.8h0M394.7 133.2h0M420.1 108.3h0M407.3 117.8h0M386.7 129.1h0M412.3 115.3h0M402.1 124.9h0M397.9 128.9h0M402.4 125.1h0M396.9 131.0h0M394.6 133.7h0M432.0 86.4h0M392.8 128.3h0M414.3 111.7h0M428.7 99.1h0M403.1 120.3h0M412.7 115.8h0M387.4 138.6h0M388.9 123.3h0M389.7 120.9h0M408.7 119.4h0M402.6 125.8h0M405.5 123.3h0M387.6 139.2h0M398.7 129.6h0M421.0 107.5h0M407.2 117.8h0M408.0 119.7h0M391.4 129.1h0M396.5 127.7h0M396.8 124.8h0M394.3 131.3h0M413.7 110.0h0M401.2 124.5h0M387.2 137.0h0M403.0 123.9h0M420.0 105.2h0M388.2 138.5h0M399.9 128.3h0M389.9 137.1h0M418.4 111.1h0M406.8 116.3h0M394.0 134.0h0M401.1 128.1h0M421.3 108.7h0M393.5 134.2h0M437.5 93.4h0M406.5 120.8h0M392.9 133.2h0M395.5 126.6h0M418.3 107.7h0M406.2 123.0h0M390.3 132.9h0M393.1 133.3h0M388.1 137.7h0M386.6 138.9h0M391.5 135.7h0M397.4 128.5h0M396.5 107.3h0M418.6 109.3h0M429.3 101.3h0M431.1 91.3h0M391.5 109.8h0M404.1 123.1h0M387.2 138.3h0M391.9 134.7h0M399.3 128.6h0M404.7 118.2h0M429.5 99.0h0M404.8 114.8h0M386.7 141.5h0M425.2 104.1h0M386.4 141.5h0M390.7 132.5h0M401.5 125.4h0M387.3 133.2h0M420.6 105.3h0M391.4 135.9h0M394.9 116.3h0M396.7 124.3h0M392.3 133.0h0M386.8 138.6h0M389.4 132.1h0M390.3 124.6h0M411.9 108.5h0M389.0 138.1h0M387.2 139.9h0M389.9 138.8h0M397.3 130.2h0M411.5 113.2h0M392.4 135.5h0M400.8 128.3h0M394.0 128.6h0M389.2 136.6h0M395.1 133.5h0M398.8 125.7h0M386.8 131.4h0M393.1 133.0h0M420.5 91.0h0M389.9 138.6h0M386.6 140.5h0M388.0 109.5h0M390.9 136.0h0M389.5 134.6h0M386.7 138.1h0M387.8 140.6h0M403.6 119.5h0M400.3 122.7h0M397.8 125.1h0M392.5 135.2h0M390.1 127.7h0M399.2 127.8h0M390.7 135.2h0M415.6 112.8h0M402.7 123.0h0M393.4 132.9h0M397.4 130.1h0M404.3 124.9h0M414.5 114.8h0M389.4 130.3h0M390.8 137.8h0M387.7 136.2h0M386.1 142.5h0M417.6 110.8h0M408.1 121.3h0M398.5 128.8h0M407.2 118.6h0M411.6 116.1h0M389.5 139.0h0M429.9 99.6h0M423.3 106.7h0M418.6 110.2h0M389.5 134.6h0M388.0 132.6h0M397.2 129.9h0M388.6 137.7h0M411.4 117.8h0M396.7 124.0h0M394.1 133.6h0M397.3 120.8h0M423.3 105.6h0M399.7 127.9h0M390.7 132.5h0M393.8 135.1h0M392.1 135.6h0M417.8 110.9h0M411.1 112.1h0M409.3 115.4h0M401.9 124.9h0M398.8 122.0h0M387.0 141.3h0M398.3 118.2h0M407.0 122.0h0M387.9 140.2h0M402.7 125.9h0M405.6 121.7h0M392.1 115.6h0M389.1 137.8h0M395.8 132.9h0M386.3 136.2h0M387.5 140.7h0M412.5 112.2h0M424.2 105.4h0M421.1 109.0h0M409.6 119.9h0M388.0 140.2h0M413.4 116.2h0M388.4 137.7h0M404.8 121.2h0M392.4 117.7h0M400.0 128.9h0M389.4 137.4h0M392.6 128.5h0M410.5 116.1h0M400.0 128.4h0M425.8 104.5h0M391.9 128.7h0M399.5 129.1h0M388.4 139.7h0M395.1 130.3h0M426.3 104.0h0M424.7 105.5h0M387.0 132.4h0M401.5 126.1h0M405.9 121.0h0M418.0 111.2h0M386.9 141.6h0M397.5 129.7h0M392.0 133.7h0M388.5 139.5h0M399.9 127.7h0M394.9 130.8h0M390.0 138.8h0M393.2 133.5h0M411.8 117.5h0M386.7 139.5h0M396.1 131.9h0M395.7 132.8h0M402.5 124.7h0M412.4 115.5h0M397.7 118.6h0M423.8 101.4h0M389.1 136.1h0M414.5 113.6h0M435.6 95.7h0M430.3 93.3h0M389.3 138.9h0M408.9 119.0h0M396.8 129.6h0M387.6 135.3h0M407.1 116.2h0M386.8 141.3h0M389.8 133.8h0M390.8 137.0h0M421.2 108.2h0M408.5 106.5h0M409.1 116.6h0M388.0 137.1h0M400.5 120.1h0M387.9 138.0h0M418.0 109.6h0M387.8 140.2h0M390.1 136.8h0M397.3 131.2h0M407.2 121.5h0M397.0 131.5h0M397.9 127.0h0M417.5 111.4h0M392.8 129.0h0M406.2 120.7h0M392.5 133.2h0M391.3 136.3h0M398.1 124.5h0M393.7 133.8h0M390.6 132.0h0M386.9 139.2h0M403.0 116.3h0M401.2 125.2h0M387.1 140.2h0M391.5 137.3h0M400.5 125.6h0M400.3 123.3h0M436.2 94.7h0M396.5 132.4h0M397.0 129.0h0M424.6 99.1h0M390.9 137.2h0M410.7 117.5h0M411.7 117.2h0M396.6 132.4h0M399.8 128.3h0M386.5 135.9h0M423.5 105.6h0M404.2 122.4h0M396.1 127.7h0M394.2 128.9h0M426.1 103.7h0M390.0 137.4h0M392.8 132.1h0M391.3 135.0h0M394.6 131.4h0M390.1 136.1h0M389.3 137.5h0M430.2 100.8h0M409.3 120.2h0M387.7 140.9h0M413.0 114.8h0M429.1 101.1h0M403.3 119.2h0M395.2 130.8h0M393.7 133.0h0M398.6 120.8h0M399.7 124.8h0M396.1 125.8h0M413.3 105.7h0M402.8 122.5h0M390.5 137.8h0M393.1 131.9h0M389.2 135.9h0M398.8 94.8h0M404.7 118.9h0M391.6 136.7h0M392.8 118.8h0M392.2 136.6h0M386.3 123.1h0M426.0 103.3h0M426.5 103.8h0M396.7 132.0h0M391.4 135.5h0M391.4 136.9h0M402.9 125.3h0M392.9 132.2h0M415.2 114.3h0M411.2 112.5h0M419.7 109.1h0M410.8 117.3h0M395.3 128.2h0M389.5 135.1h0M386.1 137.7h0M417.2 109.0h0M400.2 125.8h0M437.9 91.3h0M419.6 110.2h0M426.5 103.7h0M386.7 141.3h0M389.4 138.5h0M396.3 114.5h0M403.9 123.0h0M425.5 95.1h0M392.0 134.8h0M385.8 140.1h0M423.2 88.3h0M399.1 129.7h0M389.1 119.6h0M412.2 117.1h0M389.6 132.5h0M392.6 135.4h0M392.7 133.9h0"/>
<path stroke="#e2edea" stroke-width="2.2" stroke-linecap="square" fill="none" d="M401.9 150.0h0M407.2 139.3h0M422.6 125.8h0M399.1 149.5h0M405.1 149.5h0M430.7 136.8h0M398.0 147.2h0M460.2 84.0h0M401.9 148.6h0M415.8 128.5h0M451.9 91.3h0M424.6 119.3h0M403.1 142.4h0M395.2 150.1h0M416.8 132.7h0M453.1 89.7h0M436.1 107.7h0M406.2 145.8h0M422.5 126.2h0M413.9 136.2h0M415.1 132.7h0M416.9 127.1h0M396.0 149.4h0M439.3 106.3h0M426.3 118.6h0M440.1 105.4h0M401.7 145.9h0M408.1 137.9h0M453.3 105.2h0M446.0 103.5h0M424.5 121.0h0M399.0 147.5h0M414.4 129.9h0M422.3 121.2h0M400.4 148.8h0M402.4 142.8h0M401.6 144.8h0M396.7 149.4h0M442.8 100.7h0M423.4 124.4h0M420.5 148.6h0M420.6 126.5h0M404.9 143.1h0M405.0 142.4h0M401.5 146.4h0M412.7 137.8h0M405.3 141.9h0M412.5 148.8h0M406.0 141.3h0M435.0 115.3h0M407.9 136.9h0M461.8 83.2h0M415.8 129.8h0M430.1 116.0h0M451.9 106.0h0M407.2 138.8h0M413.4 144.6h0M409.2 137.8h0M407.4 140.1h0M442.1 104.4h0M435.0 130.3h0M415.2 137.9h0M407.0 145.7h0M451.4 93.2h0M439.0 105.6h0M403.7 145.9h0M426.0 117.9h0M406.2 138.6h0M402.2 143.7h0M404.9 141.2h0M397.9 149.7h0M409.3 134.9h0M425.9 129.0h0M397.5 148.5h0M415.6 133.4h0M404.6 141.8h0M442.3 120.3h0M405.4 140.6h0M404.3 140.7h0M419.1 125.7h0M440.6 135.4h0M424.3 119.3h0M400.7 145.2h0M400.9 147.9h0M415.4 129.5h0M402.2 142.7h0M431.4 120.6h0M438.0 106.1h0M414.6 130.6h0M429.7 116.7h0M449.3 97.2h0M406.4 138.3h0M409.1 135.0h0M398.6 146.5h0M429.5 145.3h0M400.0 144.7h0M399.2 145.8h0M399.2 148.6h0M427.2 126.5h0M396.6 148.3h0M421.4 123.0h0M403.6 147.7h0M400.3 148.5h0M436.5 107.0h0M422.5 140.4h0M448.8 105.1h0M452.5 98.0h0M403.7 149.1h0M397.9 149.1h0M405.8 142.3h0M403.7 143.4h0M422.5 122.5h0M432.5 116.0h0M424.4 119.2h0M406.4 147.5h0M402.0 147.1h0M407.4 139.6h0M407.9 138.7h0M405.3 141.2h0M419.9 124.0h0M416.2 141.4h0M438.2 116.6h0M399.7 148.2h0M397.2 147.9h0M447.1 98.5h0M401.6 145.3h0M426.2 120.8h0M403.8 149.5h0M429.2 115.5h0M421.9 141.2h0M402.2 147.1h0M407.8 141.6h0M426.1 126.8h0M405.5 139.8h0M445.5 99.6h0M424.4 125.2h0M439.9 111.4h0M415.0 132.3h0M424.9 119.4h0M426.3 121.3h0M408.4 141.9h0M397.3 147.9h0M432.9 120.3h0M422.9 122.6h0M400.2 144.9h0M432.8 117.4h0M413.2 143.9h0M411.1 133.6h0M402.3 142.9h0M400.7 144.7h0M412.3 135.1h0M411.9 140.6h0M425.2 124.2h0M454.8 92.4h0M441.5 128.4h0M433.7 111.7h0M411.1 135.8h0M410.2 134.2h0M418.8 133.7h0M442.3 103.8h0M421.5 137.9h0M449.6 99.0h0M415.1 145.2h0M396.9 149.2h0M395.6 149.7h0M411.1 146.0h0M408.1 138.8h0M429.5 133.5h0M412.3 143.6h0M441.5 115.0h0M406.2 144.6h0M450.9 96.4h0M416.0 129.2h0M420.7 123.0h0M420.0 124.2h0M400.3 150.3h0M423.2 120.4h0M416.0 143.2h0M405.4 143.9h0M400.7 149.5h0M405.6 141.0h0M405.7 140.5h0M448.8 119.3h0M410.8 137.6h0M430.0 124.4h0M396.5 149.5h0M408.7 143.3h0M407.9 141.2h0M411.7 135.7h0M406.2 138.6h0M432.9 121.2h0M410.6 142.5h0M445.8 101.1h0M425.8 119.1h0M423.9 120.0h0M435.0 114.6h0M426.4 117.6h0M421.4 123.9h0M418.2 146.9h0M400.8 145.0h0M417.9 126.3h0M415.7 128.6h0M410.3 137.6h0M407.0 145.6h0M418.0 126.5h0M430.3 121.4h0M415.9 131.6h0M419.3 127.2h0M409.9 136.2h0M404.2 147.5h0M398.4 148.0h0M456.5 86.6h0M455.1 119.4h0M414.2 129.6h0M411.7 138.7h0M436.5 108.8h0M413.4 132.8h0M396.6 148.7h0M416.1 137.0h0M435.3 108.6h0M402.2 149.4h0M402.5 145.9h0M408.1 139.4h0M411.0 133.8h0M440.9 129.3h0M398.3 150.3h0M451.5 93.9h0M400.8 147.7h0M407.5 142.7h0M462.6 92.8h0M410.2 140.7h0M397.8 147.3h0M409.3 135.0h0M422.7 144.7h0M415.4 128.3h0M404.5 146.4h0M441.0 107.4h0M452.2 91.1h0M422.3 123.4h0M429.3 141.3h0M406.8 146.1h0M401.8 145.3h0M456.6 89.0h0M398.3 149.8h0M405.9 139.5h0M417.7 127.2h0M432.3 112.8h0M411.4 144.9h0M406.6 137.9h0M409.6 134.7h0M412.9 132.1h0M433.8 117.8h0M407.2 150.2h0M424.4 119.8h0M416.2 127.9h0M400.8 147.4h0M402.4 149.5h0M404.2 141.6h0M419.5 136.9h0M402.9 148.0h0M418.8 126.3h0M403.4 144.7h0M412.7 140.4h0M426.1 118.1h0M408.8 135.5h0M440.1 142.9h0M400.6 146.4h0M434.9 132.8h0M451.6 100.3h0M416.1 129.3h0M405.7 143.7h0M430.1 120.6h0M409.7 139.4h0M397.8 148.1h0M411.7 136.3h0M409.6 138.1h0M416.9 129.2h0M435.7 108.9h0M419.3 124.7h0M411.7 137.6h0M416.9 134.3h0M405.6 138.8h0M406.7 142.6h0M440.2 106.1h0M438.9 128.5h0M401.8 144.0h0M412.6 134.9h0M397.7 147.5h0M437.1 107.3h0M446.4 100.9h0M399.7 148.9h0M409.5 136.6h0M437.0 108.2h0M423.9 129.2h0M413.0 132.9h0M401.8 145.3h0M406.3 144.7h0M425.9 137.7h0M422.4 121.2h0M415.0 130.3h0M443.1 110.9h0M442.6 105.5h0M426.8 117.6h0M401.8 147.6h0M436.4 106.9h0M411.6 134.8h0M412.6 142.3h0M450.6 104.5h0M439.8 137.8h0M413.0 140.4h0M404.3 147.0h0M415.9 147.4h0M418.7 135.9h0M401.9 144.8h0M422.7 145.9h0M396.6 148.6h0M409.3 136.7h0M398.1 149.8h0M433.9 110.6h0M444.7 106.4h0M438.3 107.8h0M417.0 128.4h0M399.3 147.5h0M404.1 143.0h0M417.2 133.1h0M403.7 148.0h0M401.7 144.8h0M420.9 125.1h0M404.7 140.9h0M447.8 128.3h0M457.0 95.9h0M451.5 95.6h0M427.7 119.0h0M421.9 126.1h0M409.1 135.4h0M406.8 146.9h0M421.2 132.8h0M403.6 140.9h0M412.2 131.7h0M417.0 129.1h0M418.5 136.3h0M445.4 101.8h0M445.1 98.5h0M428.3 122.3h0M401.9 144.0h0M410.5 134.6h0M399.6 146.5h0M423.8 122.3h0M414.6 133.6h0M405.9 141.1h0M434.8 112.5h0M414.4 129.5h0M414.9 129.6h0M403.2 141.5h0M451.5 105.7h0M398.2 146.9h0M431.8 111.9h0M451.0 92.5h0M439.7 137.5h0M421.4 133.2h0M450.9 102.7h0M412.6 138.5h0M424.2 120.5h0M415.7 131.6h0M454.7 112.0h0M430.6 118.5h0M430.7 123.8h0M433.1 111.8h0M407.9 138.6h0M410.6 133.4h0M411.3 136.3h0M398.8 147.8h0M397.9 147.6h0M425.6 132.3h0M398.5 148.6h0M400.1 149.4h0M419.3 136.2h0M415.8 129.0h0M426.9 140.5h0M421.1 128.6h0M409.7 134.8h0M436.0 109.9h0M456.4 86.7h0M458.9 86.9h0M449.1 103.4h0M402.3 148.5h0M406.9 142.6h0M433.2 116.1h0M428.3 128.7h0M401.4 147.2h0M431.9 120.8h0M446.5 98.9h0M434.1 112.0h0M402.5 143.8h0M424.7 137.1h0M417.8 135.4h0M408.1 136.8h0M396.1 149.6h0M434.6 117.1h0M403.0 144.4h0M401.1 149.0h0M447.1 112.0h0M408.8 137.1h0M423.7 120.5h0M411.6 140.1h0M429.2 114.5h0M422.4 123.4h0M441.6 105.3h0M415.8 130.2h0M404.1 142.7h0M443.6 99.7h0M403.8 142.1h0M426.0 119.7h0M405.3 139.1h0M422.0 145.7h0M406.8 148.7h0M402.1 143.0h0M400.9 149.1h0M413.6 136.5h0M402.5 142.9h0M424.7 133.8h0M441.7 118.2h0M427.2 121.1h0M408.8 135.6h0M421.8 128.9h0M400.5 147.7h0M405.3 148.7h0M430.2 116.6h0M421.5 122.8h0M401.9 145.3h0M407.6 138.2h0M399.7 148.4h0M405.3 140.5h0M421.0 139.8h0M402.5 144.0h0M418.7 140.7h0M413.0 132.4h0M424.7 119.3h0M420.3 125.9h0M420.2 125.3h0M425.8 131.0h0M415.8 139.0h0M437.9 119.4h0M406.0 140.1h0M416.1 132.7h0M421.9 121.8h0M399.5 146.8h0M413.3 144.2h0M399.9 145.5h0M397.8 148.4h0M436.5 122.7h0M403.1 144.2h0M429.2 115.2h0M409.1 135.6h0M461.5 81.2h0M418.1 127.5h0M405.8 138.8h0M421.1 126.0h0M417.4 126.8h0M400.0 147.0h0M406.1 138.1h0M423.6 122.8h0M433.1 110.7h0M436.3 114.7h0M403.5 147.2h0M413.9 130.8h0M446.2 99.6h0M415.2 148.8h0M412.2 139.9h0M401.9 144.1h0M404.8 139.9h0M461.3 82.3h0M410.9 139.3h0M408.7 147.8h0M435.8 109.0h0M408.9 138.2h0M427.5 116.7h0M443.8 103.8h0M424.6 120.8h0M424.8 118.9h0M440.7 118.6h0M402.7 144.2h0M397.9 148.5h0M412.2 134.2h0M405.9 139.5h0M428.0 125.4h0M401.5 146.7h0M410.1 134.0h0M434.2 112.8h0M413.5 131.4h0M405.3 143.4h0M462.5 106.6h0M439.7 111.3h0M398.0 149.1h0M420.7 132.0h0M446.4 114.6h0M408.0 141.4h0M419.7 126.3h0M416.5 144.8h0M409.8 134.9h0M431.3 115.0h0M419.5 124.2h0M414.7 133.0h0M410.3 141.8h0M428.4 121.3h0M425.1 123.4h0M417.0 129.1h0M401.6 144.6h0M397.3 147.6h0M461.5 83.7h0M405.5 139.2h0M425.5 120.5h0M400.5 145.4h0M410.4 138.8h0M398.5 146.4h0M441.9 102.9h0M446.9 99.6h0M399.4 148.8h0M402.0 148.1h0M411.7 146.8h0M418.9 135.6h0M398.8 149.5h0M416.3 132.7h0M402.2 144.1h0M407.6 138.3h0M401.5 144.5h0M433.7 134.4h0M400.1 146.8h0M462.8 81.2h0M462.4 85.1h0M395.7 149.8h0M425.1 123.0h0M443.4 104.1h0M401.6 145.9h0M403.2 145.4h0M413.4 131.3h0M426.7 122.7h0M410.3 133.8h0M400.8 147.0h0M425.4 118.2h0M416.8 148.2h0M402.1 146.6h0M414.0 134.8h0M410.0 137.3h0M441.3 104.5h0M412.4 135.6h0M446.5 106.7h0M409.3 135.7h0M415.3 131.2h0M421.2 123.8h0M448.5 129.8h0M399.5 148.3h0M439.8 119.7h0M399.1 149.3h0M398.2 148.2h0M411.8 132.4h0M397.5 147.4h0M394.8 150.3h0M455.9 103.4h0M405.0 139.5h0M405.6 139.9h0M406.8 147.7h0M400.7 145.3h0M432.6 112.0h0M427.5 120.5h0M421.2 123.2h0M412.1 132.5h0M402.7 148.1h0M395.2 150.3h0M446.4 108.3h0M443.4 115.0h0M399.9 146.7h0M402.5 142.6h0M436.8 106.6h0M410.3 134.4h0M439.7 111.7h0M402.4 142.9h0M399.7 149.4h0M397.3 148.9h0M414.7 129.8h0M427.3 118.4h0M405.5 144.3h0M431.0 143.6h0M410.8 142.7h0M436.7 112.7h0M424.2 120.8h0M425.1 128.6h0M403.8 141.6h0M436.7 107.9h0M397.8 148.3h0M409.1 135.2h0M438.1 105.7h0M420.1 124.4h0M412.2 141.8h0M430.1 118.7h0M457.1 86.6h0M410.9 133.2h0M445.3 101.9h0M419.3 142.7h0M422.3 125.6h0M405.5 141.2h0M408.7 139.8h0M424.5 142.8h0M415.8 128.2h0M428.4 127.6h0M446.8 96.9h0M404.3 144.8h0M424.4 136.1h0M421.9 123.5h0M423.2 125.8h0M423.4 122.0h0M425.1 119.6h0M406.6 149.0h0M399.6 145.2h0M405.8 148.5h0M418.1 145.1h0M447.1 108.7h0M397.8 147.8h0M405.4 144.0h0M430.1 137.4h0M451.6 92.6h0M419.8 128.4h0M398.8 148.8h0M429.4 114.6h0M427.6 123.7h0M436.2 121.9h0M408.8 138.8h0M396.6 149.5h0M445.9 98.5h0M445.2 98.4h0M421.0 124.9h0M412.2 135.2h0M416.0 130.2h0M404.6 140.6h0M397.4 147.9h0M406.7 139.6h0M402.9 146.4h0M441.5 103.7h0M418.3 132.1h0M399.9 145.3h0M399.1 145.9h0M395.3 149.9h0M437.8 115.5h0M412.0 139.1h0M418.3 129.4h0M403.6 148.8h0M396.9 148.9h0M404.2 142.7h0M431.2 112.8h0M399.9 146.1h0M397.7 148.0h0M429.7 139.6h0M430.0 115.5h0M415.7 128.9h0M397.8 148.8h0M421.2 134.5h0M404.1 140.6h0M419.1 124.6h0M419.7 130.1h0M395.7 149.8h0M399.9 147.8h0M435.9 108.3h0M424.6 121.9h0M411.5 138.5h0M405.7 139.0h0M398.3 148.4h0M403.0 150.1h0M460.9 86.4h0M400.8 148.2h0M425.8 119.2h0M406.3 138.8h0M440.0 118.1h0M399.5 145.3h0M396.1 150.0h0M427.6 122.8h0M420.3 125.3h0M403.4 145.7h0M415.1 131.0h0M398.5 146.8h0M451.7 126.8h0M418.8 125.7h0M417.9 133.6h0M400.2 146.6h0M420.5 147.0h0M405.9 141.1h0M415.5 142.3h0M405.3 139.9h0M405.7 139.0h0M419.3 126.2h0M417.5 132.2h0M402.4 142.3h0M411.0 134.1h0M396.3 149.2h0M402.2 143.4h0M426.0 119.8h0M403.2 141.9h0M404.0 140.5h0M421.2 129.8h0M426.1 129.7h0M410.4 140.5h0M427.8 116.2h0M439.9 104.2h0M407.8 138.2h0M418.6 136.5h0M398.6 150.3h0M400.1 146.1h0M396.2 149.9h0M416.0 149.6h0M443.6 117.1h0M400.7 144.4h0M427.9 128.9h0M414.3 136.8h0M440.9 103.1h0M446.4 102.9h0M417.9 134.5h0M435.0 109.5h0M404.8 140.2h0M407.3 137.7h0M403.6 149.6h0M420.6 124.0h0M415.0 138.2h0M442.7 103.7h0M443.5 112.0h0M410.8 140.1h0M418.0 126.7h0M456.6 86.5h0M420.9 123.6h0M424.7 135.4h0M396.9 148.6h0M402.3 143.0h0M429.3 114.6h0M417.3 132.2h0M422.2 124.0h0M410.8 141.1h0M398.8 147.8h0M414.9 148.0h0M430.6 113.8h0M410.6 141.6h0M402.5 145.8h0M405.5 141.4h0M399.4 147.2h0M427.0 138.6h0M421.2 148.0h0M401.5 143.5h0M438.7 112.7h0M395.9 149.7h0M407.4 138.2h0M426.3 117.8h0M409.3 139.3h0M418.3 130.8h0M410.0 145.1h0M395.7 149.4h0M395.8 149.9h0M424.2 135.2h0M425.7 126.8h0M408.1 137.1h0M412.6 142.1h0M403.5 141.7h0M462.3 81.3h0M410.1 138.6h0M421.3 123.0h0M443.7 104.9h0M412.5 133.3h0M411.7 136.5h0M419.5 128.1h0M410.5 134.5h0M431.6 113.9h0M398.9 148.2h0M426.7 129.6h0M402.1 142.4h0M418.8 130.8h0M429.3 120.2h0M400.8 144.0h0M403.5 143.7h0M406.4 147.3h0M419.5 143.1h0M416.1 128.2h0M403.0 146.4h0M399.2 149.6h0M440.4 103.5h0M411.4 133.7h0M436.8 108.7h0M416.6 127.0h0M412.9 131.1h0M404.2 144.2h0M416.9 129.3h0M404.5 141.2h0M432.8 111.0h0M415.1 133.1h0M423.7 122.1h0M442.0 106.2h0M409.4 135.0h0M409.4 137.3h0M424.6 119.7h0M437.1 109.9h0M444.1 99.5h0M398.8 148.3h0M405.5 139.0h0M444.5 105.6h0M405.0 143.4h0M403.0 141.5h0M417.0 128.8h0M450.7 98.1h0M415.1 129.8h0M411.1 136.8h0M418.1 126.2h0M408.6 136.1h0M431.0 114.2h0M420.2 125.9h0M422.8 129.3h0M410.2 135.1h0M447.7 128.0h0M444.2 100.3h0M430.3 115.5h0M439.2 114.7h0M399.4 149.5h0M436.3 109.0h0M415.2 131.3h0M415.4 131.6h0M461.5 110.4h0M414.8 131.5h0M424.1 123.1h0M407.8 137.0h0M414.2 137.8h0M402.0 144.4h0M430.9 136.6h0M427.0 119.0h0M409.9 147.4h0M396.6 149.2h0M447.1 96.4h0M397.7 148.2h0M403.3 143.5h0M428.2 115.4h0M419.6 128.9h0M412.8 131.5h0M416.6 127.7h0M400.8 143.8h0M430.8 122.5h0M410.9 135.1h0M411.7 142.7h0M459.6 100.8h0M408.8 137.9h0M434.4 113.6h0M455.3 90.0h0M449.8 129.2h0M397.4 148.0h0M460.4 83.1h0M401.3 149.8h0M434.3 119.5h0M429.7 115.7h0M401.5 147.4h0M433.3 123.2h0M406.5 138.4h0M448.2 96.9h0M412.0 146.6h0M427.6 122.7h0M413.2 130.9h0M408.3 137.4h0M400.7 144.7h0M460.5 97.5h0M415.0 146.5h0M452.5 114.0h0M426.0 125.1h0M416.2 147.6h0M427.3 129.6h0M462.3 81.1h0M436.5 107.6h0M457.3 89.5h0M452.4 94.5h0M416.0 143.0h0M430.6 114.5h0M403.8 148.7h0M419.3 137.9h0M435.6 119.6h0M406.2 138.6h0M403.1 145.9h0M400.2 145.0h0M411.9 139.5h0M439.0 107.9h0M406.2 149.9h0M454.7 92.4h0M405.5 145.9h0M443.8 115.8h0M411.1 134.0h0M438.1 116.9h0M408.0 138.9h0M420.0 135.0h0M396.5 149.4h0M449.0 97.0h0M454.6 108.6h0M410.2 135.0h0M431.0 116.1h0M427.2 146.2h0M401.7 148.6h0M417.8 127.6h0M401.4 146.6h0M397.8 148.9h0M412.8 132.7h0M423.3 121.8h0M403.4 149.0h0M419.7 129.2h0M399.1 149.3h0M430.0 114.1h0M413.0 138.1h0M407.8 136.6h0M404.5 146.1h0M400.1 145.6h0M414.2 135.8h0M407.1 139.1h0M430.3 113.5h0M427.2 119.0h0M426.8 117.2h0M457.5 89.6h0M402.4 144.3h0M403.4 146.8h0M403.6 141.2h0M429.4 116.6h0M426.7 118.2h0M410.2 142.8h0M409.7 146.2h0M454.6 91.5h0M411.8 133.0h0M417.8 126.6h0M405.0 140.8h0M450.9 97.0h0M422.7 127.8h0M400.6 146.3h0M398.9 150.2h0M436.8 110.0h0M413.7 131.9h0M416.1 129.7h0M405.1 141.5h0M417.7 126.3h0M420.6 123.2h0M417.4 132.8h0M411.7 133.2h0M442.6 105.4h0M407.6 136.6h0M407.0 138.3h0M396.3 149.1h0M424.9 120.7h0M460.2 84.6h0M401.6 145.2h0M410.5 140.2h0M402.9 142.7h0M435.8 121.2h0M399.1 149.7h0M422.3 141.1h0M412.2 136.4h0M410.5 136.7h0M422.9 124.2h0M401.1 146.5h0M425.3 130.5h0M413.3 130.9h0M410.9 135.6h0M407.9 142.4h0M414.1 133.8h0M443.0 103.0h0M443.7 132.6h0M405.6 141.5h0M400.1 146.3h0M412.5 142.6h0M413.9 131.0h0M405.7 146.8h0M410.5 148.3h0M413.9 131.3h0M401.6 149.7h0M410.5 150.2h0M434.7 118.5h0M417.8 126.7h0M413.0 131.9h0M412.1 136.5h0M430.6 113.9h0M433.4 112.5h0M416.0 144.1h0M403.1 146.0h0M404.0 145.5h0M423.1 126.6h0M398.8 146.1h0M401.3 144.6h0M414.1 133.5h0M420.0 133.2h0M420.5 141.9h0M404.9 140.1h0"/>
<path stroke="#9fbfbb" stroke-width="1.1" stroke-linecap="square" fill="none" d="M407.2 139.3h0M398.0 147.2h0M460.2 84.0h0M415.8 128.5h0M451.9 91.3h0M424.6 119.3h0M403.1 142.4h0M395.2 150.1h0M453.1 89.7h0M436.1 107.7h0M416.9 127.1h0M396.0 149.4h0M439.3 106.3h0M426.3 118.6h0M440.1 105.4h0M401.7 145.9h0M408.1 137.9h0M424.5 121.0h0M399.0 147.5h0M414.4 129.9h0M422.3 121.2h0M402.4 142.8h0M401.6 144.8h0M396.7 149.4h0M442.8 100.7h0M420.6 126.5h0M404.9 143.1h0M405.0 142.4h0M401.5 146.4h0M405.3 141.9h0M406.0 141.3h0M407.9 136.9h0M461.8 83.2h0M415.8 129.8h0M430.1 116.0h0M407.2 138.8h0M409.2 137.8h0M407.4 140.1h0M442.1 104.4h0M451.4 93.2h0M439.0 105.6h0M426.0 117.9h0M406.2 138.6h0M402.2 143.7h0M404.9 141.2h0M397.9 149.7h0M409.3 134.9h0M397.5 148.5h0M404.6 141.8h0M405.4 140.6h0M404.3 140.7h0M419.1 125.7h0M424.3 119.3h0M400.7 145.2h0M415.4 129.5h0M402.2 142.7h0M438.0 106.1h0M414.6 130.6h0M429.7 116.7h0M449.3 97.2h0M406.4 138.3h0M409.1 135.0h0M398.6 146.5h0M400.0 144.7h0M399.2 145.8h0M399.2 148.6h0M396.6 148.3h0M421.4 123.0h0M436.5 107.0h0M397.9 149.1h0M403.7 143.4h0M422.5 122.5h0M424.4 119.2h0M407.4 139.6h0M407.9 138.7h0M405.3 141.2h0M419.9 124.0h0M399.7 148.2h0M397.2 147.9h0M447.1 98.5h0M401.6 145.3h0M426.2 120.8h0M429.2 115.5h0M405.5 139.8h0M445.5 99.6h0M415.0 132.3h0M424.9 119.4h0M397.3 147.9h0M422.9 122.6h0M400.2 144.9h0M411.1 133.6h0M402.3 142.9h0M400.7 144.7h0M412.3 135.1h0M433.7 111.7h0M411.1 135.8h0M410.2 134.2h0M442.3 103.8h0M396.9 149.2h0M395.6 149.7h0M408.1 138.8h0M416.0 129.2h0M420.7 123.0h0M420.0 124.2h0M423.2 120.4h0M405.6 141.0h0M405.7 140.5h0M396.5 149.5h0M411.7 135.7h0M406.2 138.6h0M445.8 101.1h0M425.8 119.1h0M423.9 120.0h0M426.4 117.6h0M421.4 123.9h0M400.8 145.0h0M417.9 126.3h0M415.7 128.6h0M418.0 126.5h0M419.3 127.2h0M409.9 136.2h0M398.4 148.0h0M456.5 86.6h0M414.2 129.6h0M436.5 108.8h0M413.4 132.8h0M396.6 148.7h0M435.3 108.6h0M408.1 139.4h0M411.0 133.8h0M451.5 93.9h0M397.8 147.3h0M409.3 135.0h0M415.4 128.3h0M452.2 91.1h0M422.3 123.4h0M401.8 145.3h0M456.6 89.0h0M398.3 149.8h0M405.9 139.5h0M417.7 127.2h0M432.3 112.8h0M406.6 137.9h0M409.6 134.7h0M412.9 132.1h0M424.4 119.8h0M416.2 127.9h0M400.8 147.4h0M404.2 141.6h0M418.8 126.3h0M403.4 144.7h0M426.1 118.1h0M408.8 135.5h0M400.6 146.4h0M416.1 129.3h0M397.8 148.1h0M409.6 138.1h0M416.9 129.2h0M435.7 108.9h0M419.3 124.7h0M405.6 138.8h0M440.2 106.1h0M401.8 144.0h0M412.6 134.9h0M397.7 147.5h0M437.1 107.3h0M409.5 136.6h0M437.0 108.2h0M413.0 132.9h0M401.8 145.3h0M422.4 121.2h0M415.0 130.3h0M426.8 117.6h0M436.4 106.9h0M411.6 134.8h0M401.9 144.8h0M396.6 148.6h0M409.3 136.7h0M398.1 149.8h0M433.9 110.6h0M438.3 107.8h0M417.0 128.4h0M399.3 147.5h0M404.1 143.0h0M401.7 144.8h0M420.9 125.1h0M404.7 140.9h0M427.7 119.0h0M409.1 135.4h0M403.6 140.9h0M412.2 131.7h0M417.0 129.1h0M445.1 98.5h0M401.9 144.0h0M410.5 134.6h0M399.6 146.5h0M423.8 122.3h0M405.9 141.1h0M414.4 129.5h0M414.9 129.6h0M403.2 141.5h0M398.2 146.9h0M431.8 111.9h0M451.0 92.5h0M424.2 120.5h0M415.7 131.6h0M433.1 111.8h0M407.9 138.6h0M410.6 133.4h0M411.3 136.3h0M398.8 147.8h0M397.9 147.6h0M398.5 148.6h0M415.8 129.0h0M409.7 134.8h0M436.0 109.9h0M456.4 86.7h0M458.9 86.9h0M446.5 98.9h0M434.1 112.0h0M402.5 143.8h0M408.1 136.8h0M396.1 149.6h0M403.0 144.4h0M408.8 137.1h0M423.7 120.5h0M429.2 114.5h0M422.4 123.4h0M441.6 105.3h0M415.8 130.2h0M404.1 142.7h0M443.6 99.7h0M403.8 142.1h0M426.0 119.7h0M405.3 139.1h0M402.1 143.0h0M402.5 142.9h0M408.8 135.6h0M400.5 147.7h0M430.2 116.6h0M421.5 122.8h0M401.9 145.3h0M407.6 138.2h0M399.7 148.4h0M405.3 140.5h0M402.5 144.0h0M413.0 132.4h0M424.7 119.3h0M420.3 125.9h0M420.2 125.3h0M406.0 140.1h0M421.9 121.8h0M399.5 146.8h0M399.9 145.5h0M397.8 148.4h0M403.1 144.2h0M429.2 115.2h0M409.1 135.6h0M461.5 81.2h0M418.1 127.5h0M405.8 138.8h0M421.1 126.0h0M417.4 126.8h0M400.0 147.0h0M406.1 138.1h0M423.6 122.8h0M433.1 110.7h0M413.9 130.8h0M446.2 99.6h0M401.9 144.1h0M404.8 139.9h0M461.3 82.3h0M435.8 109.0h0M408.9 138.2h0M427.5 116.7h0M424.6 120.8h0M424.8 118.9h0M402.7 144.2h0M397.9 148.5h0M412.2 134.2h0M405.9 139.5h0M401.5 146.7h0M410.1 134.0h0M434.2 112.8h0M413.5 131.4h0M398.0 149.1h0M419.7 126.3h0M409.8 134.9h0M431.3 115.0h0M419.5 124.2h0M417.0 129.1h0M401.6 144.6h0M397.3 147.6h0M461.5 83.7h0M405.5 139.2h0M425.5 120.5h0M400.5 145.4h0M398.5 146.4h0M441.9 102.9h0M446.9 99.6h0M399.4 148.8h0M398.8 149.5h0M402.2 144.1h0M407.6 138.3h0M401.5 144.5h0M400.1 146.8h0M462.8 81.2h0M395.7 149.8h0M401.6 145.9h0M413.4 131.3h0M410.3 133.8h0M400.8 147.0h0M425.4 118.2h0M410.0 137.3h0M441.3 104.5h0M409.3 135.7h0M415.3 131.2h0M421.2 123.8h0M399.5 148.3h0M398.2 148.2h0M411.8 132.4h0M397.5 147.4h0M394.8 150.3h0M405.0 139.5h0M405.6 139.9h0M400.7 145.3h0M432.6 112.0h0M421.2 123.2h0M412.1 132.5h0M395.2 150.3h0M399.9 146.7h0M402.5 142.6h0M436.8 106.6h0M410.3 134.4h0M402.4 142.9h0M397.3 148.9h0M414.7 129.8h0M427.3 118.4h0M424.2 120.8h0M403.8 141.6h0M436.7 107.9h0M397.8 148.3h0M409.1 135.2h0M438.1 105.7h0M420.1 124.4h0M457.1 86.6h0M410.9 133.2h0M405.5 141.2h0M415.8 128.2h0M446.8 96.9h0M421.9 123.5h0M423.4 122.0h0M425.1 119.6h0M399.6 145.2h0M397.8 147.8h0M451.6 92.6h0M398.8 148.8h0M429.4 114.6h0M408.8 138.8h0M396.6 149.5h0M445.9 98.5h0M445.2 98.4h0M421.0 124.9h0M412.2 135.2h0M416.0 130.2h0M404.6 140.6h0M397.4 147.9h0M406.7 139.6h0M441.5 103.7h0M399.9 145.3h0M399.1 145.9h0M395.3 149.9h0M396.9 148.9h0M404.2 142.7h0M431.2 112.8h0M399.9 146.1h0M397.7 148.0h0M430.0 115.5h0M415.7 128.9h0M397.8 148.8h0M404.1 140.6h0M419.1 124.6h0M395.7 149.8h0M399.9 147.8h0M435.9 108.3h0M424.6 121.9h0M405.7 139.0h0M398.3 148.4h0M425.8 119.2h0M406.3 138.8h0M399.5 145.3h0M396.1 150.0h0M420.3 125.3h0M415.1 131.0h0M398.5 146.8h0M418.8 125.7h0M400.2 146.6h0M405.9 141.1h0M405.3 139.9h0M405.7 139.0h0M419.3 126.2h0M402.4 142.3h0M411.0 134.1h0M396.3 149.2h0M402.2 143.4h0M426.0 119.8h0M403.2 141.9h0M404.0 140.5h0M427.8 116.2h0M439.9 104.2h0M407.8 138.2h0M400.1 146.1h0M396.2 149.9h0M400.7 144.4h0M440.9 103.1h0M435.0 109.5h0M404.8 140.2h0M407.3 137.7h0M420.6 124.0h0M442.7 103.7h0M418.0 126.7h0M456.6 86.5h0M420.9 123.6h0M396.9 148.6h0M402.3 143.0h0M429.3 114.6h0M422.2 124.0h0M398.8 147.8h0M430.6 113.8h0M405.5 141.4h0M399.4 147.2h0M401.5 143.5h0M395.9 149.7h0M407.4 138.2h0M426.3 117.8h0M395.7 149.4h0M395.8 149.9h0M408.1 137.1h0M403.5 141.7h0M462.3 81.3h0M421.3 123.0h0M412.5 133.3h0M410.5 134.5h0M431.6 113.9h0M398.9 148.2h0M402.1 142.4h0M400.8 144.0h0M403.5 143.7h0M416.1 128.2h0M440.4 103.5h0M411.4 133.7h0M436.8 108.7h0M416.6 127.0h0M412.9 131.1h0M416.9 129.3h0M404.5 141.2h0M432.8 111.0h0M423.7 122.1h0M409.4 135.0h0M409.4 137.3h0M424.6 119.7h0M437.1 109.9h0M444.1 99.5h0M398.8 148.3h0M405.5 139.0h0M403.0 141.5h0M417.0 128.8h0M415.1 129.8h0M418.1 126.2h0M408.6 136.1h0M431.0 114.2h0M420.2 125.9h0M410.2 135.1h0M444.2 100.3h0M430.3 115.5h0M436.3 109.0h0M415.2 131.3h0M415.4 131.6h0M414.8 131.5h0M424.1 123.1h0M407.8 137.0h0M402.0 144.4h0M427.0 119.0h0M396.6 149.2h0M447.1 96.4h0M397.7 148.2h0M403.3 143.5h0M428.2 115.4h0M412.8 131.5h0M416.6 127.7h0M400.8 143.8h0M410.9 135.1h0M408.8 137.9h0M455.3 90.0h0M397.4 148.0h0M460.4 83.1h0M429.7 115.7h0M406.5 138.4h0M448.2 96.9h0M413.2 130.9h0M408.3 137.4h0M400.7 144.7h0M462.3 81.1h0M436.5 107.6h0M430.6 114.5h0M406.2 138.6h0M400.2 145.0h0M439.0 107.9h0M411.1 134.0h0M408.0 138.9h0M396.5 149.4h0M449.0 97.0h0M410.2 135.0h0M431.0 116.1h0M417.8 127.6h0M401.4 146.6h0M397.8 148.9h0M412.8 132.7h0M423.3 121.8h0M399.1 149.3h0M430.0 114.1h0M407.8 136.6h0M400.1 145.6h0M407.1 139.1h0M430.3 113.5h0M427.2 119.0h0M426.8 117.2h0M402.4 144.3h0M403.6 141.2h0M429.4 116.6h0M426.7 118.2h0M454.6 91.5h0M411.8 133.0h0M417.8 126.6h0M405.0 140.8h0M400.6 146.3h0M436.8 110.0h0M413.7 131.9h0M416.1 129.7h0M405.1 141.5h0M417.7 126.3h0M420.6 123.2h0M411.7 133.2h0M407.6 136.6h0M407.0 138.3h0M396.3 149.1h0M424.9 120.7h0M460.2 84.6h0M401.6 145.2h0M402.9 142.7h0M410.5 136.7h0M422.9 124.2h0M401.1 146.5h0M413.3 130.9h0M410.9 135.6h0M443.0 103.0h0M405.6 141.5h0M400.1 146.3h0M413.9 131.0h0M413.9 131.3h0M417.8 126.7h0M413.0 131.9h0M430.6 113.9h0M433.4 112.5h0M398.8 146.1h0M401.3 144.6h0M404.9 140.1h0"/>
<path stroke="#9db2b1" stroke-width="1.1" stroke-linecap="square" fill="none" d="M401.9 150.0h0M422.6 125.8h0M399.1 149.5h0M405.1 149.5h0M430.7 136.8h0M401.9 148.6h0M416.8 132.7h0M406.2 145.8h0M422.5 126.2h0M413.9 136.2h0M415.1 132.7h0M453.3 105.2h0M446.0 103.5h0M400.4 148.8h0M423.4 124.4h0M420.5 148.6h0M412.7 137.8h0M412.5 148.8h0M435.0 115.3h0M451.9 106.0h0M413.4 144.6h0M435.0 130.3h0M415.2 137.9h0M407.0 145.7h0M403.7 145.9h0M425.9 129.0h0M415.6 133.4h0M442.3 120.3h0M440.6 135.4h0M400.9 147.9h0M431.4 120.6h0M429.5 145.3h0M427.2 126.5h0M403.6 147.7h0M400.3 148.5h0M422.5 140.4h0M448.8 105.1h0M452.5 98.0h0M403.7 149.1h0M405.8 142.3h0M432.5 116.0h0M406.4 147.5h0M402.0 147.1h0M416.2 141.4h0M438.2 116.6h0M403.8 149.5h0M421.9 141.2h0M402.2 147.1h0M407.8 141.6h0M426.1 126.8h0M424.4 125.2h0M439.9 111.4h0M426.3 121.3h0M408.4 141.9h0M432.9 120.3h0M432.8 117.4h0M413.2 143.9h0M411.9 140.6h0M425.2 124.2h0M454.8 92.4h0M441.5 128.4h0M418.8 133.7h0M421.5 137.9h0M449.6 99.0h0M415.1 145.2h0M411.1 146.0h0M429.5 133.5h0M412.3 143.6h0M441.5 115.0h0M406.2 144.6h0M450.9 96.4h0M400.3 150.3h0M416.0 143.2h0M405.4 143.9h0M400.7 149.5h0M448.8 119.3h0M410.8 137.6h0M430.0 124.4h0M408.7 143.3h0M407.9 141.2h0M432.9 121.2h0M410.6 142.5h0M435.0 114.6h0M418.2 146.9h0M410.3 137.6h0M407.0 145.6h0M430.3 121.4h0M415.9 131.6h0M404.2 147.5h0M455.1 119.4h0M411.7 138.7h0M416.1 137.0h0M402.2 149.4h0M402.5 145.9h0M440.9 129.3h0M398.3 150.3h0M400.8 147.7h0M407.5 142.7h0M462.6 92.8h0M410.2 140.7h0M422.7 144.7h0M404.5 146.4h0M441.0 107.4h0M429.3 141.3h0M406.8 146.1h0M411.4 144.9h0M433.8 117.8h0M407.2 150.2h0M402.4 149.5h0M419.5 136.9h0M402.9 148.0h0M412.7 140.4h0M440.1 142.9h0M434.9 132.8h0M451.6 100.3h0M405.7 143.7h0M430.1 120.6h0M409.7 139.4h0M411.7 136.3h0M411.7 137.6h0M416.9 134.3h0M406.7 142.6h0M438.9 128.5h0M446.4 100.9h0M399.7 148.9h0M423.9 129.2h0M406.3 144.7h0M425.9 137.7h0M443.1 110.9h0M442.6 105.5h0M401.8 147.6h0M412.6 142.3h0M450.6 104.5h0M439.8 137.8h0M413.0 140.4h0M404.3 147.0h0M415.9 147.4h0M418.7 135.9h0M422.7 145.9h0M444.7 106.4h0M417.2 133.1h0M403.7 148.0h0M447.8 128.3h0M457.0 95.9h0M451.5 95.6h0M421.9 126.1h0M406.8 146.9h0M421.2 132.8h0M418.5 136.3h0M445.4 101.8h0M428.3 122.3h0M414.6 133.6h0M434.8 112.5h0M451.5 105.7h0M439.7 137.5h0M421.4 133.2h0M450.9 102.7h0M412.6 138.5h0M454.7 112.0h0M430.6 118.5h0M430.7 123.8h0M425.6 132.3h0M400.1 149.4h0M419.3 136.2h0M426.9 140.5h0M421.1 128.6h0M449.1 103.4h0M402.3 148.5h0M406.9 142.6h0M433.2 116.1h0M428.3 128.7h0M401.4 147.2h0M431.9 120.8h0M424.7 137.1h0M417.8 135.4h0M434.6 117.1h0M401.1 149.0h0M447.1 112.0h0M411.6 140.1h0M422.0 145.7h0M406.8 148.7h0M400.9 149.1h0M413.6 136.5h0M424.7 133.8h0M441.7 118.2h0M427.2 121.1h0M421.8 128.9h0M405.3 148.7h0M421.0 139.8h0M418.7 140.7h0M425.8 131.0h0M415.8 139.0h0M437.9 119.4h0M416.1 132.7h0M413.3 144.2h0M436.5 122.7h0M436.3 114.7h0M403.5 147.2h0M415.2 148.8h0M412.2 139.9h0M410.9 139.3h0M408.7 147.8h0M443.8 103.8h0M440.7 118.6h0M428.0 125.4h0M405.3 143.4h0M462.5 106.6h0M439.7 111.3h0M420.7 132.0h0M446.4 114.6h0M408.0 141.4h0M416.5 144.8h0M414.7 133.0h0M410.3 141.8h0M428.4 121.3h0M425.1 123.4h0M410.4 138.8h0M402.0 148.1h0M411.7 146.8h0M418.9 135.6h0M416.3 132.7h0M433.7 134.4h0M462.4 85.1h0M425.1 123.0h0M443.4 104.1h0M403.2 145.4h0M426.7 122.7h0M416.8 148.2h0M402.1 146.6h0M414.0 134.8h0M412.4 135.6h0M446.5 106.7h0M448.5 129.8h0M439.8 119.7h0M399.1 149.3h0M455.9 103.4h0M406.8 147.7h0M427.5 120.5h0M402.7 148.1h0M446.4 108.3h0M443.4 115.0h0M439.7 111.7h0M399.7 149.4h0M405.5 144.3h0M431.0 143.6h0M410.8 142.7h0M436.7 112.7h0M425.1 128.6h0M412.2 141.8h0M430.1 118.7h0M445.3 101.9h0M419.3 142.7h0M422.3 125.6h0M408.7 139.8h0M424.5 142.8h0M428.4 127.6h0M404.3 144.8h0M424.4 136.1h0M423.2 125.8h0M406.6 149.0h0M405.8 148.5h0M418.1 145.1h0M447.1 108.7h0M405.4 144.0h0M430.1 137.4h0M419.8 128.4h0M427.6 123.7h0M436.2 121.9h0M402.9 146.4h0M418.3 132.1h0M437.8 115.5h0M412.0 139.1h0M418.3 129.4h0M403.6 148.8h0M429.7 139.6h0M421.2 134.5h0M419.7 130.1h0M411.5 138.5h0M403.0 150.1h0M460.9 86.4h0M400.8 148.2h0M440.0 118.1h0M427.6 122.8h0M403.4 145.7h0M451.7 126.8h0M417.9 133.6h0M420.5 147.0h0M415.5 142.3h0M417.5 132.2h0M421.2 129.8h0M426.1 129.7h0M410.4 140.5h0M418.6 136.5h0M398.6 150.3h0M416.0 149.6h0M443.6 117.1h0M427.9 128.9h0M414.3 136.8h0M446.4 102.9h0M417.9 134.5h0M403.6 149.6h0M415.0 138.2h0M443.5 112.0h0M410.8 140.1h0M424.7 135.4h0M417.3 132.2h0M410.8 141.1h0M414.9 148.0h0M410.6 141.6h0M402.5 145.8h0M427.0 138.6h0M421.2 148.0h0M438.7 112.7h0M409.3 139.3h0M418.3 130.8h0M410.0 145.1h0M424.2 135.2h0M425.7 126.8h0M412.6 142.1h0M410.1 138.6h0M443.7 104.9h0M411.7 136.5h0M419.5 128.1h0M426.7 129.6h0M418.8 130.8h0M429.3 120.2h0M406.4 147.3h0M419.5 143.1h0M403.0 146.4h0M399.2 149.6h0M404.2 144.2h0M415.1 133.1h0M442.0 106.2h0M444.5 105.6h0M405.0 143.4h0M450.7 98.1h0M411.1 136.8h0M422.8 129.3h0M447.7 128.0h0M439.2 114.7h0M399.4 149.5h0M461.5 110.4h0M414.2 137.8h0M430.9 136.6h0M409.9 147.4h0M419.6 128.9h0M430.8 122.5h0M411.7 142.7h0M459.6 100.8h0M434.4 113.6h0M449.8 129.2h0M401.3 149.8h0M434.3 119.5h0M401.5 147.4h0M433.3 123.2h0M412.0 146.6h0M427.6 122.7h0M460.5 97.5h0M415.0 146.5h0M452.5 114.0h0M426.0 125.1h0M416.2 147.6h0M427.3 129.6h0M457.3 89.5h0M452.4 94.5h0M416.0 143.0h0M403.8 148.7h0M419.3 137.9h0M435.6 119.6h0M403.1 145.9h0M411.9 139.5h0M406.2 149.9h0M454.7 92.4h0M405.5 145.9h0M443.8 115.8h0M438.1 116.9h0M420.0 135.0h0M454.6 108.6h0M427.2 146.2h0M401.7 148.6h0M403.4 149.0h0M419.7 129.2h0M413.0 138.1h0M404.5 146.1h0M414.2 135.8h0M457.5 89.6h0M403.4 146.8h0M410.2 142.8h0M409.7 146.2h0M450.9 97.0h0M422.7 127.8h0M398.9 150.2h0M417.4 132.8h0M442.6 105.4h0M410.5 140.2h0M435.8 121.2h0M399.1 149.7h0M422.3 141.1h0M412.2 136.4h0M425.3 130.5h0M407.9 142.4h0M414.1 133.8h0M443.7 132.6h0M412.5 142.6h0M405.7 146.8h0M410.5 148.3h0M401.6 149.7h0M410.5 150.2h0M434.7 118.5h0M412.1 136.5h0M416.0 144.1h0M403.1 146.0h0M404.0 145.5h0M423.1 126.6h0M414.1 133.5h0M420.0 133.2h0M420.5 141.9h0"/>
<path stroke="#76827f" stroke-width="1.0" stroke-linecap="square" fill="none" d="M401.9 150.0h0M407.2 139.3h0M422.6 125.8h0M399.1 149.5h0M405.1 149.5h0M430.7 136.8h0M398.0 147.2h0M460.2 84.0h0M401.9 148.6h0M415.8 128.5h0M451.9 91.3h0M424.6 119.3h0M403.1 142.4h0M395.2 150.1h0M416.8 132.7h0M453.1 89.7h0M436.1 107.7h0M406.2 145.8h0M422.5 126.2h0M413.9 136.2h0M415.1 132.7h0M416.9 127.1h0M396.0 149.4h0M439.3 106.3h0M426.3 118.6h0M440.1 105.4h0M401.7 145.9h0M408.1 137.9h0M453.3 105.2h0M446.0 103.5h0M424.5 121.0h0M399.0 147.5h0M414.4 129.9h0M422.3 121.2h0M400.4 148.8h0M402.4 142.8h0M401.6 144.8h0M396.7 149.4h0M442.8 100.7h0M423.4 124.4h0M420.5 148.6h0M420.6 126.5h0M404.9 143.1h0M405.0 142.4h0M401.5 146.4h0M412.7 137.8h0M405.3 141.9h0M412.5 148.8h0M406.0 141.3h0M435.0 115.3h0M407.9 136.9h0M461.8 83.2h0M415.8 129.8h0M430.1 116.0h0M451.9 106.0h0M407.2 138.8h0M413.4 144.6h0M409.2 137.8h0M407.4 140.1h0M442.1 104.4h0M435.0 130.3h0M415.2 137.9h0M407.0 145.7h0M451.4 93.2h0M439.0 105.6h0M403.7 145.9h0M426.0 117.9h0M406.2 138.6h0M402.2 143.7h0M404.9 141.2h0M397.9 149.7h0M409.3 134.9h0M425.9 129.0h0M397.5 148.5h0M415.6 133.4h0M404.6 141.8h0M442.3 120.3h0M405.4 140.6h0M404.3 140.7h0M419.1 125.7h0M440.6 135.4h0M424.3 119.3h0M400.7 145.2h0M400.9 147.9h0M415.4 129.5h0M402.2 142.7h0M431.4 120.6h0M438.0 106.1h0M414.6 130.6h0M429.7 116.7h0M449.3 97.2h0M406.4 138.3h0M409.1 135.0h0M398.6 146.5h0M429.5 145.3h0M400.0 144.7h0M399.2 145.8h0M399.2 148.6h0M427.2 126.5h0M396.6 148.3h0M421.4 123.0h0M403.6 147.7h0M400.3 148.5h0M436.5 107.0h0M422.5 140.4h0M448.8 105.1h0M452.5 98.0h0M403.7 149.1h0M397.9 149.1h0M405.8 142.3h0M403.7 143.4h0M422.5 122.5h0M432.5 116.0h0M424.4 119.2h0M406.4 147.5h0M402.0 147.1h0M407.4 139.6h0M407.9 138.7h0M405.3 141.2h0M419.9 124.0h0M416.2 141.4h0M438.2 116.6h0M399.7 148.2h0M397.2 147.9h0M447.1 98.5h0M401.6 145.3h0M426.2 120.8h0M403.8 149.5h0M429.2 115.5h0M421.9 141.2h0M402.2 147.1h0M407.8 141.6h0M426.1 126.8h0M405.5 139.8h0M445.5 99.6h0M424.4 125.2h0M439.9 111.4h0M415.0 132.3h0M424.9 119.4h0M426.3 121.3h0M408.4 141.9h0M397.3 147.9h0M432.9 120.3h0M422.9 122.6h0M400.2 144.9h0M432.8 117.4h0M413.2 143.9h0M411.1 133.6h0M402.3 142.9h0M400.7 144.7h0M412.3 135.1h0M411.9 140.6h0M425.2 124.2h0M454.8 92.4h0M441.5 128.4h0M433.7 111.7h0M411.1 135.8h0M410.2 134.2h0M418.8 133.7h0M442.3 103.8h0M421.5 137.9h0M449.6 99.0h0M415.1 145.2h0M396.9 149.2h0M395.6 149.7h0M411.1 146.0h0M408.1 138.8h0M429.5 133.5h0M412.3 143.6h0M441.5 115.0h0M406.2 144.6h0M450.9 96.4h0M416.0 129.2h0M420.7 123.0h0M420.0 124.2h0M400.3 150.3h0M423.2 120.4h0M416.0 143.2h0M405.4 143.9h0M400.7 149.5h0M405.6 141.0h0M405.7 140.5h0M448.8 119.3h0M410.8 137.6h0M430.0 124.4h0M396.5 149.5h0M408.7 143.3h0M407.9 141.2h0M411.7 135.7h0M406.2 138.6h0M432.9 121.2h0M410.6 142.5h0M445.8 101.1h0M425.8 119.1h0M423.9 120.0h0M435.0 114.6h0M426.4 117.6h0M421.4 123.9h0M418.2 146.9h0M400.8 145.0h0M417.9 126.3h0M415.7 128.6h0M410.3 137.6h0M407.0 145.6h0M418.0 126.5h0M430.3 121.4h0M415.9 131.6h0M419.3 127.2h0M409.9 136.2h0M404.2 147.5h0M398.4 148.0h0M456.5 86.6h0M455.1 119.4h0M414.2 129.6h0M411.7 138.7h0M436.5 108.8h0M413.4 132.8h0M396.6 148.7h0M416.1 137.0h0M435.3 108.6h0M402.2 149.4h0M402.5 145.9h0M408.1 139.4h0M411.0 133.8h0M440.9 129.3h0M398.3 150.3h0M451.5 93.9h0M400.8 147.7h0M407.5 142.7h0M462.6 92.8h0M410.2 140.7h0M397.8 147.3h0M409.3 135.0h0M422.7 144.7h0M415.4 128.3h0M404.5 146.4h0M441.0 107.4h0M452.2 91.1h0M422.3 123.4h0M429.3 141.3h0M406.8 146.1h0M401.8 145.3h0M456.6 89.0h0M398.3 149.8h0M405.9 139.5h0M417.7 127.2h0M432.3 112.8h0M411.4 144.9h0M406.6 137.9h0M409.6 134.7h0M412.9 132.1h0M433.8 117.8h0M407.2 150.2h0M424.4 119.8h0M416.2 127.9h0M400.8 147.4h0M402.4 149.5h0M404.2 141.6h0M419.5 136.9h0M402.9 148.0h0M418.8 126.3h0M403.4 144.7h0M412.7 140.4h0M426.1 118.1h0M408.8 135.5h0M440.1 142.9h0M400.6 146.4h0M434.9 132.8h0M451.6 100.3h0M416.1 129.3h0M405.7 143.7h0M430.1 120.6h0M409.7 139.4h0M397.8 148.1h0M411.7 136.3h0M409.6 138.1h0M416.9 129.2h0M435.7 108.9h0M419.3 124.7h0M411.7 137.6h0M416.9 134.3h0M405.6 138.8h0M406.7 142.6h0M440.2 106.1h0M438.9 128.5h0M401.8 144.0h0M412.6 134.9h0M397.7 147.5h0M437.1 107.3h0M446.4 100.9h0M399.7 148.9h0M409.5 136.6h0M437.0 108.2h0M423.9 129.2h0M413.0 132.9h0"/>
<polygon points="385.8,151.3 385.8,142.8 385.8,142.8 387.7,141.0 389.7,139.1 391.6,137.2 393.6,135.4 395.5,133.5 397.4,131.6 399.4,129.8 401.3,127.9 403.3,126.0 405.2,124.2 407.2,122.3 409.1,120.4 411.0,118.6 413.0,116.7 414.9,114.8 416.9,113.0 418.8,111.2 420.7,109.4 422.7,107.7 424.6,105.9 426.6,104.1 428.5,102.4 430.4,100.6 432.4,98.8 434.3,97.0 436.3,95.3 438.2,93.5 440.2,91.7 442.1,90.0 444.0,88.2 446.0,86.4 447.9,84.6 449.9,82.8 451.8,80.9 453.7,79.0 455.7,77.2 457.6,75.3 459.6,73.4 461.5,71.6 470.8,66.8 461.5,80.8 459.6,82.9 457.6,84.9 455.7,87.0 453.7,89.1 451.8,91.1 449.9,93.2 447.9,95.2 446.0,97.2 444.0,99.2 442.1,101.2 440.2,103.1 438.2,105.1 436.3,107.1 434.3,109.0 432.4,111.0 430.4,113.0 428.5,114.9 426.6,116.9 424.6,118.9 422.7,120.8 420.7,122.8 418.8,124.8 416.9,126.7 414.9,128.8 413.0,130.8 411.0,132.9 409.1,135.0 407.2,137.0 405.2,139.1 403.3,141.2 401.3,143.2 399.4,145.3 397.4,147.4 395.5,149.4 394.1,151.3" fill="#161616"/>
<path stroke="#161616" stroke-width="1.3" stroke-linecap="square" fill="none" d="M402.5 126.0h0M458.0 84.3h0M457.3 86.8h0M464.5 67.9h0M418.6 126.2h0M403.9 141.8h0M427.4 103.1h0M454.1 77.6h0M459.3 83.1h0M458.2 73.6h0M410.5 133.5h0M426.9 116.8h0M401.1 143.6h0M457.2 74.9h0M414.0 116.0h0M410.5 118.3h0M389.2 139.0h0M457.0 86.5h0M440.7 89.9h0M452.3 90.7h0M402.5 142.5h0M396.5 131.9h0M456.4 86.3h0M412.6 132.2h0M427.1 103.0h0M440.0 91.6h0M415.3 128.2h0M435.4 107.7h0M396.3 131.8h0M416.3 113.5h0M407.0 123.1h0M432.8 99.2h0M407.7 136.7h0M441.6 89.4h0M434.7 109.2h0M404.5 124.3h0M458.8 73.8h0M426.4 117.2h0M408.9 120.7h0M458.0 73.8h0M409.2 119.6h0M444.3 88.0h0M445.1 85.7h0M433.8 109.1h0M461.0 71.4h0M460.3 73.1h0M423.5 107.2h0M398.1 129.9h0M457.0 75.1h0M451.7 80.6h0M430.7 99.4h0M391.4 136.9h0M447.7 95.8h0M422.5 121.0h0M415.6 112.8h0M434.2 97.2h0M427.9 116.0h0M424.4 119.0h0M448.7 94.3h0M411.2 131.8h0M408.5 121.3h0M450.9 92.8h0M463.6 69.5h0M395.1 132.2h0M439.5 103.9h0M397.9 131.2h0M443.0 101.1h0M455.6 87.0h0M448.1 97.1h0M419.7 123.3h0M428.6 100.4h0M406.8 122.3h0M409.4 135.3h0M445.6 98.0h0M419.8 109.3h0M455.7 87.7h0M442.3 101.9h0M458.8 83.7h0M399.0 147.3h0M420.4 109.8h0M462.0 71.0h0M413.2 115.8h0M442.0 102.5h0M430.3 100.0h0M399.8 129.5h0M427.2 102.8h0M455.8 76.1h0M431.3 99.5h0M455.5 76.2h0M395.5 133.0h0M423.4 119.7h0M421.5 108.8h0M400.2 129.2h0M443.7 88.3h0M399.7 128.4h0M393.6 133.9h0M409.6 135.0h0M422.5 106.3h0M436.8 95.2h0M443.2 100.2h0M406.8 137.0h0M422.1 107.7h0M432.1 112.2h0M444.1 88.6h0M460.7 72.2h0M450.2 92.7h0M455.9 86.9h0M440.4 89.9h0M437.3 94.0h0M461.1 71.0h0M460.8 81.4h0M444.6 98.9h0M404.5 123.7h0M456.0 76.4h0M414.8 129.4h0M389.1 140.3h0M395.0 133.4h0M464.4 78.0h0M427.9 102.9h0M398.7 130.4h0M410.7 132.7h0M455.3 87.3h0M420.9 122.6h0M434.6 97.1h0M408.5 136.6h0M416.8 112.3h0M423.6 120.7h0M400.8 129.1h0M460.6 71.9h0M442.1 100.8h0M432.9 98.6h0M421.5 122.3h0M389.9 138.9h0M453.5 78.8h0M402.8 125.9h0M388.9 138.0h0M402.7 142.7h0M396.6 147.6h0M458.2 73.9h0M462.8 70.1h0M461.8 70.8h0M452.4 91.4h0M453.2 78.6h0M445.7 98.4h0M418.8 126.6h0M463.3 70.3h0M429.5 114.9h0M391.4 137.9h0M448.9 94.7h0M448.5 96.1h0M388.5 140.3h0M430.7 113.1h0M401.4 143.7h0M453.1 90.1h0M450.8 81.9h0M418.7 109.4h0M442.4 102.0h0M461.9 80.5h0M461.6 71.1h0M408.6 135.6h0M396.4 132.5h0M444.6 99.2h0M435.1 96.2h0M451.7 79.1h0M391.5 136.9h0M450.5 82.5h0M398.7 145.9h0M463.1 81.2h0M426.7 104.2h0M410.6 117.9h0M411.7 117.8h0M464.6 78.0h0M410.4 118.0h0M442.7 88.9h0M397.6 147.5h0M438.2 93.5h0M413.3 115.4h0M458.7 74.0h0M462.8 70.9h0M410.1 133.0h0M459.0 84.0h0M405.6 138.4h0M395.6 149.9h0M451.7 81.2h0M432.2 99.0h0M395.9 149.1h0M414.8 130.5h0M463.9 68.5h0M417.2 112.9h0M444.5 87.5h0M426.3 103.9h0M452.8 90.6h0M430.0 100.6h0M447.6 96.0h0M398.7 128.6h0M402.4 142.0h0M432.6 97.9h0M395.7 150.3h0M400.7 144.2h0M445.7 86.4h0M417.8 112.0h0M439.3 104.6h0M459.9 73.0h0M452.2 80.6h0M405.9 123.8h0M438.1 92.7h0M414.5 113.6h0M400.8 144.2h0M458.7 73.2h0M438.8 92.2h0M434.6 110.2h0M446.0 86.4h0M408.3 120.4h0M417.1 113.1h0M423.1 121.2h0M401.4 143.1h0M406.7 123.1h0M455.5 88.2h0M462.5 80.9h0M461.6 82.2h0M454.0 89.0h0M456.2 87.3h0M401.9 142.4h0M435.0 96.5h0M402.7 127.0h0M451.9 80.5h0M463.4 78.7h0M463.0 79.8h0M394.6 131.8h0M419.6 124.9h0M402.6 142.9h0M391.8 136.7h0M441.9 89.7h0M397.8 148.5h0M406.1 123.2h0M443.1 87.0h0M462.4 81.0h0M405.2 122.9h0M402.8 142.9h0M423.6 107.2h0M456.2 76.5h0M445.3 86.9h0M449.4 83.7h0M464.5 68.6h0M457.2 75.2h0M421.9 122.5h0M403.8 140.7h0M457.3 86.6h0M396.9 148.6h0M404.3 125.3h0M408.3 121.2h0M417.4 113.4h0M464.6 78.5h0M447.1 96.8h0M416.2 113.9h0M463.7 69.3h0M395.4 150.0h0M407.7 122.0h0M408.9 135.5h0M431.8 111.6h0M403.1 142.8h0M395.5 133.4h0M457.8 85.5h0M418.1 111.1h0M400.5 144.9h0M437.8 106.1h0M419.5 123.9h0M447.9 85.0h0M413.6 130.3h0M457.1 74.8h0M425.1 117.4h0M421.3 123.7h0M447.5 84.6h0M435.4 96.7h0M457.2 75.7h0M456.3 86.8h0M437.3 93.4h0M419.4 110.0h0M398.0 147.0h0M450.9 92.2h0M418.7 125.2h0M409.3 135.8h0M430.2 113.1h0M395.1 134.3h0M453.8 91.2h0M400.8 128.3h0M400.3 145.7h0M420.8 108.5h0M404.2 124.6h0M450.8 81.4h0M438.5 105.1h0M429.2 102.1h0M433.0 110.7h0M402.9 140.7h0M418.5 125.4h0M413.8 115.9h0M408.4 119.8h0M423.8 106.0h0M459.9 83.5h0M442.6 101.1h0M451.9 91.0h0M443.2 88.9h0M447.7 95.0h0M448.9 84.1h0M411.3 118.4h0M389.8 139.1h0M418.9 124.9h0M445.0 98.1h0M414.8 129.9h0M438.2 93.9h0M408.4 119.7h0M456.8 85.8h0M444.9 86.6h0M418.3 111.9h0M402.3 143.0h0M421.0 108.7h0M401.8 142.5h0M442.6 88.9h0M443.2 89.3h0M422.5 107.2h0M416.9 113.1h0M422.2 121.2h0M426.6 104.0h0M419.3 124.5h0M429.3 101.5h0M442.5 89.6h0M463.0 69.8h0M426.3 118.9h0M460.2 82.7h0M407.8 135.8h0M398.5 130.5h0M447.9 85.2h0M396.7 149.6h0M460.1 72.6h0M460.7 72.3h0M432.5 110.8h0M407.9 135.9h0M416.6 126.5h0M435.5 96.0h0M451.1 81.0h0M407.3 122.3h0M452.7 79.8h0M429.2 115.2h0M404.7 142.2h0M404.0 140.5h0M450.0 81.9h0M415.4 113.2h0M460.6 82.2h0M424.2 119.4h0M463.6 79.6h0M437.1 95.0h0M412.0 133.5h0M418.0 111.5h0M407.9 122.0h0M413.4 130.6h0M452.5 79.5h0M446.6 85.9h0M398.5 129.9h0M422.4 121.3h0M402.4 126.9h0M435.3 96.0h0M401.8 142.4h0M433.4 95.9h0M458.1 84.0h0M460.0 73.0h0M416.1 129.7h0M464.4 77.6h0M452.9 89.6h0M420.4 109.9h0M387.4 142.0h0M447.8 95.1h0M428.9 101.5h0M461.8 70.9h0M416.1 128.4h0M410.2 118.5h0M401.9 128.4h0M397.4 132.4h0M406.7 136.8h0M411.9 117.4h0M430.5 112.3h0M399.2 145.8h0M441.2 89.5h0M428.6 115.2h0M396.0 148.8h0M462.7 69.9h0M413.4 117.1h0M424.8 119.9h0M420.9 123.2h0M459.7 73.8h0M451.9 93.1h0M403.3 125.3h0M411.8 115.7h0M391.2 138.7h0M436.9 108.3h0M431.9 111.8h0M430.4 100.6h0M421.8 121.6h0M422.7 123.2h0M423.7 119.2h0M443.6 89.4h0M447.7 83.8h0M459.1 85.4h0M435.3 95.4h0M405.3 140.1h0M423.3 121.6h0M454.9 77.8h0M444.2 98.9h0M392.0 136.2h0M461.9 69.8h0M459.8 82.1h0M387.4 140.1h0M411.2 119.0h0M401.7 126.0h0M461.5 71.0h0M436.1 96.0h0M445.4 86.5h0M446.9 96.2h0M390.5 137.0h0M403.0 125.7h0M431.2 99.5h0M426.3 103.0h0M419.2 110.2h0M436.8 93.9h0M429.7 113.2h0M407.5 121.4h0M412.9 117.4h0M409.4 134.7h0M457.1 86.6h0M433.2 110.3h0M418.6 125.1h0M408.9 136.8h0M427.3 102.2h0M431.8 113.2h0M454.5 88.5h0M462.3 80.4h0M395.2 132.9h0M419.5 110.5h0M400.2 128.7h0M415.2 128.3h0M412.3 131.4h0M422.1 122.2h0M464.0 69.1h0M418.9 125.4h0M429.4 101.6h0M435.0 109.6h0M392.4 135.0h0M428.1 101.2h0M402.6 141.4h0M396.8 148.7h0M454.1 88.8h0M430.2 100.9h0M435.0 108.5h0M455.9 86.8h0M439.9 91.7h0M442.0 101.1h0M445.5 98.6h0M438.3 93.2h0M418.7 125.1h0M440.6 91.6h0M440.4 104.0h0M463.3 79.5h0M416.4 113.3h0M440.9 102.7h0M394.3 133.7h0M450.3 82.8h0M405.0 141.3h0M427.4 117.8h0M450.8 92.8h0M397.3 148.0h0M433.5 110.3h0M390.0 138.0h0M443.1 88.0h0M397.6 147.5h0M448.7 83.9h0M399.3 145.8h0M421.6 107.9h0M415.0 115.2h0M460.5 71.4h0M423.8 119.5h0M396.4 150.6h0M426.7 104.4h0M430.8 112.9h0M419.9 110.5h0M399.7 128.7h0M389.8 139.7h0M424.9 104.8h0M432.8 97.9h0M435.9 108.5h0M388.6 140.1h0M431.3 112.4h0M407.7 122.1h0M434.9 96.9h0M394.1 134.7h0M404.7 125.0h0M400.2 129.0h0M409.0 135.6h0M424.2 106.4h0M397.2 131.3h0M452.3 80.1h0M389.1 138.9h0M398.5 146.7h0M424.9 119.3h0M434.1 109.8h0M391.6 137.1h0M455.3 76.8h0M413.4 115.6h0M455.4 87.2h0M426.5 103.7h0M389.4 139.2h0M427.7 103.1h0M427.0 103.5h0M461.5 82.0h0M428.6 102.0h0M436.3 107.4h0M423.3 106.4h0M403.9 125.3h0M426.5 116.9h0M441.6 90.2h0M443.4 100.6h0M457.8 85.9h0M421.7 109.2h0M406.2 122.4h0M405.2 123.9h0M448.3 95.4h0M461.6 80.9h0M410.0 134.2h0M425.0 118.9h0M460.6 72.5h0M430.8 100.4h0M425.5 105.5h0M448.9 84.2h0M408.9 136.0h0M461.9 81.2h0M404.2 139.6h0M424.5 120.6h0M453.9 89.7h0M426.7 103.9h0M430.4 100.4h0M425.9 117.1h0M401.1 127.3h0M443.0 100.9h0M433.7 97.3h0M453.7 89.4h0M424.9 104.9h0M447.7 96.1h0M449.5 93.5h0M426.6 104.6h0M428.2 101.6h0M438.6 104.7h0M402.7 141.7h0M407.2 140.1h0M407.8 135.8h0M434.2 97.5h0M439.2 104.2h0M430.5 100.1h0M421.8 122.4h0M442.6 89.1h0M420.9 109.5h0M405.7 123.7h0M441.4 89.5h0M439.5 92.8h0M388.2 140.6h0M454.6 78.7h0M395.6 149.5h0M399.6 130.0h0M401.0 146.1h0M431.4 111.8h0M399.2 129.6h0M427.4 117.1h0M420.9 123.2h0M407.1 122.2h0M407.6 137.0h0M414.6 113.9h0M443.9 87.7h0M448.4 95.4h0M445.1 98.6h0M446.3 96.7h0M402.4 126.2h0M425.3 118.9h0M436.3 107.5h0M409.3 120.0h0M394.6 133.8h0M462.0 80.8h0M431.0 98.3h0M415.4 128.0h0M430.7 113.8h0M436.1 107.6h0M416.9 127.6h0M425.6 117.8h0M426.4 104.4h0M398.2 130.4h0M448.3 95.5h0M441.4 89.2h0M415.7 113.1h0M424.8 105.9h0M441.8 102.0h0M455.6 77.4h0M396.1 149.3h0M434.7 96.5h0M459.8 71.6h0M427.9 115.2h0M420.2 110.7h0M448.7 83.0h0M422.4 107.7h0M456.8 76.3h0M415.9 129.7h0M460.3 72.5h0M409.2 118.8h0M392.7 135.3h0M449.3 82.2h0M427.9 102.2h0M456.2 75.6h0M451.8 79.6h0M453.1 89.7h0M429.3 101.1h0M430.9 99.2h0M456.4 75.9h0M461.5 81.3h0M463.7 69.0h0M448.4 84.2h0M424.7 119.1h0M455.3 87.1h0M421.5 122.2h0M417.2 126.6h0M456.6 75.2h0M447.9 84.3h0M430.4 101.3h0M446.4 86.5h0M440.6 91.4h0M400.7 145.6h0M432.8 110.9h0M445.1 87.6h0M445.2 86.6h0M416.0 111.7h0M414.3 130.9h0M421.1 109.2h0M393.1 135.3h0M434.6 95.2h0M422.1 107.9h0M462.3 69.0h0M406.6 121.5h0M458.7 84.1h0M451.8 91.8h0M443.0 87.9h0M418.7 124.7h0M439.5 103.3h0M453.1 89.5h0M461.5 82.2h0M463.5 69.2h0M432.0 98.1h0M447.1 95.7h0M444.7 99.0h0M456.0 75.3h0M396.7 148.3h0M444.4 99.3h0M409.0 134.9h0M408.2 137.0h0M402.4 141.5h0M409.8 119.3h0M439.2 93.0h0M417.4 127.0h0M406.1 123.2h0M402.0 127.5h0M400.8 128.7h0M402.2 127.0h0M449.3 95.1h0M427.0 116.9h0M401.8 142.3h0M443.8 88.9h0M419.4 125.6h0M462.9 81.2h0M440.2 103.5h0M409.2 120.9h0M453.5 89.0h0M420.8 123.5h0M432.6 111.1h0M458.2 84.3h0M415.3 128.7h0M402.5 142.8h0M432.9 111.3h0M403.2 141.0h0M457.9 85.0h0M454.2 77.8h0M424.6 118.7h0M431.6 98.9h0M404.9 140.3h0M416.2 128.1h0M432.3 111.2h0M433.2 98.3h0M400.2 129.0h0M430.5 112.7h0M429.8 101.8h0M418.0 111.5h0M433.3 109.8h0M459.8 82.6h0M462.1 69.8h0M457.9 74.4h0M441.7 90.0h0M434.4 108.6h0M457.6 75.1h0M400.4 128.4h0M445.2 85.0h0M452.9 90.5h0M450.4 81.5h0M444.6 98.5h0M429.3 115.6h0M404.3 140.8h0M433.2 98.3h0M397.2 131.2h0M423.6 120.3h0M445.3 87.3h0M398.1 146.2h0M413.1 130.9h0M389.3 137.6h0M406.0 121.5h0M417.8 126.2h0M401.2 144.3h0M410.2 119.4h0M450.6 81.6h0M415.1 113.5h0M422.9 107.1h0M404.7 124.6h0M430.8 112.5h0M434.7 108.6h0M422.8 107.5h0M429.6 114.2h0M438.1 93.6h0M390.3 138.5h0M409.9 134.9h0M462.0 81.7h0M454.6 88.4h0M404.6 140.7h0M452.2 91.9h0M423.3 120.4h0M422.1 106.4h0M435.5 95.7h0M453.4 79.5h0M449.1 83.9h0M412.0 117.8h0M399.1 146.2h0M415.9 114.7h0M443.0 99.8h0M396.1 149.4h0M432.1 111.6h0M444.9 99.9h0M418.9 124.3h0M411.0 117.6h0M424.6 105.9h0M441.0 90.1h0M400.0 145.3h0M412.0 132.6h0M404.7 124.5h0M420.2 109.6h0M437.9 92.5h0M435.1 107.9h0M406.7 122.1h0M441.7 102.7h0M402.6 142.5h0M450.8 80.3h0M457.6 75.2h0M455.3 77.0h0M443.2 88.4h0M461.3 81.4h0M433.4 97.4h0M461.5 71.3h0M419.5 109.9h0M418.9 125.4h0M408.2 136.8h0M432.0 111.8h0M396.2 132.5h0M418.6 125.3h0M400.5 128.9h0M422.5 107.7h0M405.9 138.5h0M457.5 75.9h0M428.9 115.7h0M452.2 80.3h0M426.0 117.8h0M415.0 113.9h0M398.2 147.0h0M428.3 115.0h0M461.6 71.2h0M454.1 77.9h0M408.2 120.2h0M444.5 87.2h0M424.8 119.1h0M433.7 110.3h0M405.0 140.4h0M409.5 133.8h0M403.2 141.7h0M433.7 97.8h0M395.8 132.5h0M417.8 126.5h0M461.9 81.0h0M438.0 93.6h0M405.6 122.5h0M412.2 132.9h0M428.7 114.6h0M407.6 122.6h0M392.1 136.3h0M426.9 103.5h0M419.8 109.1h0M462.5 70.8h0M394.7 149.5h0M455.3 88.4h0M426.7 103.3h0M447.6 84.8h0M456.8 86.7h0M407.1 121.9h0M426.9 118.7h0M416.7 112.3h0M451.5 81.7h0M419.2 124.7h0M433.8 97.4h0M417.5 126.0h0M405.0 139.5h0M432.5 111.1h0M423.3 107.2h0M431.2 99.8h0M424.9 118.1h0M435.1 96.3h0M438.5 106.0h0M424.8 105.2h0M448.1 85.2h0M456.8 88.2h0M388.3 140.0h0M395.1 132.8h0M459.0 73.7h0M440.1 103.4h0M453.3 78.3h0M435.9 107.4h0M447.5 84.9h0M458.2 84.9h0M456.9 85.6h0M416.8 112.6h0M459.7 83.0h0M389.8 137.2h0M463.8 79.5h0M415.3 128.0h0M442.2 89.7h0M456.5 75.6h0M441.8 102.8h0M406.6 122.4h0M442.4 100.1h0M415.1 114.3h0M451.6 93.4h0M442.5 101.0h0M454.7 77.3h0M460.3 71.8h0M426.7 117.5h0M431.3 112.9h0M412.1 116.9h0M454.9 89.0h0M436.5 94.1h0"/>
<path stroke="#262626" stroke-width="1.2" stroke-linecap="square" fill="none" d="M467.8 68.9h0M462.9 70.8h0M470.3 63.7h0M479.4 56.9h0M484.4 51.3h0M473.6 66.1h0M478.9 61.0h0M466.7 66.5h0M462.5 75.3h0M477.4 61.7h0M459.8 74.8h0M461.6 76.0h0M473.8 58.0h0M473.4 65.3h0M459.0 81.5h0M472.6 65.9h0M469.7 63.3h0M461.1 69.9h0M464.6 64.0h0M465.9 65.6h0M473.9 64.2h0M463.2 88.7h0M505.8 29.9h0M463.4 70.9h0M459.2 71.1h0M475.2 61.3h0M465.7 63.1h0M464.2 69.4h0M473.3 58.9h0M500.5 35.6h0M465.6 76.2h0M470.9 64.5h0M480.1 54.2h0M474.8 68.0h0M479.0 59.7h0M471.4 59.0h0M460.9 72.1h0M462.0 81.1h0M471.3 74.9h0M471.2 65.5h0M466.7 68.6h0M463.8 67.4h0M477.1 55.3h0M471.2 68.4h0M488.9 49.0h0M462.6 77.0h0M470.9 62.4h0M476.3 63.0h0M463.5 70.7h0M472.6 67.9h0M479.7 58.7h0M458.7 75.9h0M468.3 65.4h0M492.7 44.3h0M464.2 69.2h0M475.7 65.3h0M461.7 77.6h0M463.0 71.4h0M467.2 69.4h0M475.3 69.1h0M507.5 29.7h0M472.0 68.7h0M466.3 70.8h0M467.3 69.7h0M458.8 78.9h0M459.5 80.2h0M459.6 74.9h0M479.2 51.8h0M467.2 67.7h0M476.6 60.7h0M460.8 78.4h0M471.2 65.5h0M459.0 79.4h0M460.0 79.2h0M459.1 84.4h0M470.2 65.5h0M462.0 75.5h0M463.3 76.8h0M465.2 74.1h0M467.3 62.4h0M508.1 31.0h0M485.8 51.0h0M473.0 64.0h0M459.6 83.5h0M459.8 72.8h0M463.6 84.6h0M500.5 37.6h0M480.6 56.0h0M462.3 69.8h0M464.8 77.5h0M498.3 43.7h0M478.1 59.2h0M467.3 75.2h0M461.8 89.6h0M490.1 50.0h0M470.3 68.3h0M473.6 65.2h0M459.5 80.6h0M467.0 79.3h0M478.9 60.6h0M467.5 71.9h0M459.7 71.8h0M483.3 54.6h0M458.5 79.2h0M489.1 47.2h0M471.9 66.3h0M473.2 65.2h0M468.9 69.4h0M465.9 72.8h0M467.1 76.1h0M478.4 57.1h0M459.0 80.1h0M462.2 74.8h0M494.4 46.8h0M459.4 74.7h0M485.7 54.0h0M459.8 85.7h0M467.0 63.6h0M467.3 71.8h0M479.1 57.4h0M465.7 71.7h0M476.9 59.4h0M460.9 73.7h0M459.9 77.1h0M466.1 74.9h0M472.9 62.8h0M463.5 71.7h0M462.6 76.1h0M465.9 63.4h0M477.7 62.1h0M478.6 60.1h0M485.9 51.4h0M460.3 74.6h0M464.0 74.9h0M486.0 51.6h0M460.4 79.0h0M464.4 73.0h0M485.0 52.0h0M463.0 77.9h0M478.6 54.4h0M460.5 78.1h0M478.9 58.0h0M472.7 69.6h0M494.0 40.8h0M488.1 46.6h0M461.8 70.3h0M469.7 66.3h0M498.4 37.3h0M500.1 36.0h0M480.6 57.6h0M476.1 56.3h0M461.0 78.2h0M467.8 74.8h0M462.0 77.8h0M461.5 82.6h0M480.8 55.2h0M461.7 69.7h0M463.2 80.4h0M470.8 72.6h0M458.6 71.0h0M474.7 64.5h0M458.5 82.3h0M466.7 66.8h0M471.6 64.4h0M463.6 77.5h0M472.2 66.0h0M465.0 72.1h0M462.8 79.3h0M480.9 57.1h0M461.5 73.0h0M473.3 65.1h0M462.5 74.4h0M460.8 76.3h0M472.7 67.6h0M467.0 69.7h0M471.4 70.6h0M461.7 74.1h0M465.8 72.7h0M465.8 75.7h0M485.0 53.3h0M473.9 68.7h0M467.2 72.3h0M479.3 57.5h0M478.4 57.1h0M471.2 65.2h0M459.0 81.9h0M477.8 57.5h0M471.4 65.1h0M502.4 33.0h0M501.2 40.3h0M467.7 65.1h0M464.4 75.6h0M475.0 63.2h0M463.4 74.4h0M460.4 82.3h0M466.8 67.3h0M481.3 53.5h0M480.7 57.3h0M465.8 73.6h0M472.4 68.1h0M495.3 42.8h0M469.1 67.7h0M470.8 62.8h0M498.1 37.3h0M474.0 65.0h0M462.1 72.3h0M474.0 66.3h0M466.1 70.0h0M496.8 40.7h0M458.9 78.7h0M485.7 52.4h0M469.0 71.8h0M459.3 81.4h0M485.2 51.8h0M458.6 81.8h0M460.3 75.1h0M481.1 59.7h0M472.7 64.6h0M465.1 67.0h0M483.6 52.9h0M469.8 69.9h0M485.7 50.6h0M465.1 65.9h0M465.1 69.2h0M475.7 59.2h0M469.7 61.0h0M482.0 55.0h0M499.5 37.5h0M479.0 56.3h0M481.3 56.9h0M468.3 67.3h0M494.7 43.0h0M462.8 67.6h0M460.9 82.8h0M468.1 67.3h0M460.1 79.4h0M481.3 54.6h0M473.4 60.3h0M466.9 73.2h0M474.7 63.7h0M472.2 63.7h0M483.4 51.8h0M472.6 68.9h0M482.3 55.0h0M490.6 46.1h0M478.5 60.9h0M459.2 86.7h0M460.1 72.8h0M469.7 63.4h0M465.0 73.0h0M471.1 66.9h0M460.3 79.0h0M459.9 84.7h0M464.3 80.3h0M460.2 77.6h0M461.8 71.2h0M468.4 66.8h0M465.1 77.0h0M485.0 49.7h0M464.9 74.3h0"/>
<rect x="386.40" y="143.70" width="7.60" height="7.00" fill="#98a0b2"/>
<line x1="385.8" y1="24.0" x2="385.8" y2="151.9" stroke="#111" stroke-width="1.35"/>
<line x1="385.2" y1="151.3" x2="512.3" y2="151.3" stroke="#111" stroke-width="1.35"/>
<line x1="382.0" y1="151.3" x2="385.8" y2="151.3" stroke="#111" stroke-width="1.1"/>
<text font-size="8.8" text-anchor="end" fill="#1a1a1a" transform="translate(378.8 154.20000000000002) scale(0.88 1)">0</text>
<line x1="385.8" y1="151.3" x2="385.8" y2="154.9" stroke="#111" stroke-width="1.1"/>
<text font-size="8.8" text-anchor="middle" fill="#1a1a1a" transform="translate(385.8 164.20000000000002) scale(0.88 1)">0</text>
<line x1="382.0" y1="120.00000000000001" x2="385.8" y2="120.00000000000001" stroke="#111" stroke-width="1.1"/>
<text font-size="8.8" text-anchor="end" fill="#1a1a1a" transform="translate(378.8 122.90000000000002) scale(0.88 1)">1</text>
<line x1="416.7" y1="151.3" x2="416.7" y2="154.9" stroke="#111" stroke-width="1.1"/>
<text font-size="8.8" text-anchor="middle" fill="#1a1a1a" transform="translate(416.7 164.20000000000002) scale(0.88 1)">1</text>
<line x1="382.0" y1="88.70000000000002" x2="385.8" y2="88.70000000000002" stroke="#111" stroke-width="1.1"/>
<text font-size="8.8" text-anchor="end" fill="#1a1a1a" transform="translate(378.8 91.60000000000002) scale(0.88 1)">2</text>
<line x1="447.6" y1="151.3" x2="447.6" y2="154.9" stroke="#111" stroke-width="1.1"/>
<text font-size="8.8" text-anchor="middle" fill="#1a1a1a" transform="translate(447.6 164.20000000000002) scale(0.88 1)">2</text>
<line x1="382.0" y1="57.400000000000006" x2="385.8" y2="57.400000000000006" stroke="#111" stroke-width="1.1"/>
<text font-size="8.8" text-anchor="end" fill="#1a1a1a" transform="translate(378.8 60.300000000000004) scale(0.88 1)">3</text>
<line x1="478.5" y1="151.3" x2="478.5" y2="154.9" stroke="#111" stroke-width="1.1"/>
<text font-size="8.8" text-anchor="middle" fill="#1a1a1a" transform="translate(478.5 164.20000000000002) scale(0.88 1)">3</text>
<line x1="382.0" y1="26.10000000000001" x2="385.8" y2="26.10000000000001" stroke="#111" stroke-width="1.1"/>
<text font-size="8.8" text-anchor="end" fill="#1a1a1a" transform="translate(378.8 29.000000000000007) scale(0.88 1)">4</text>
<line x1="509.4" y1="151.3" x2="509.4" y2="154.9" stroke="#111" stroke-width="1.1"/>
<text font-size="8.8" text-anchor="middle" fill="#1a1a1a" transform="translate(509.4 164.20000000000002) scale(0.88 1)">4</text>
<text font-size="10" fill="#1a1a1a" transform="translate(388.3 174.10000000000002) scale(0.9 1)">Adult expression (log<tspan font-size="7" dy="2.4">10</tspan><tspan dy="-2.4"> FPKM)</tspan></text>
<text font-size="10" fill="#1a1a1a" text-anchor="middle" transform="translate(369.1 87.65) rotate(-90) scale(0.9 1)">Neo expression (log<tspan font-size="7" dy="2.4">10</tspan><tspan dy="-2.4"> FPKM)</tspan></text>
<text font-size="12.5" text-anchor="start" font-weight="bold" fill="#000" transform="translate(10.1 210.5) scale(0.95 1)">D</text>
<path stroke="#5a5a5a" stroke-width="1.2" stroke-linecap="square" fill="none" d="M76.9 270.2h0M111.6 272.2h0M51.4 310.5h0M132.0 229.8h0M59.3 297.8h0M111.7 234.7h0M45.9 293.8h0M133.5 228.2h0M83.2 309.9h0M124.9 262.5h0"/>
<path stroke="#f2d2c2" stroke-width="2.2" stroke-linecap="square" fill="none" d="M64.7 305.6h0M55.0 311.2h0M75.7 290.0h0M41.5 327.8h0M97.7 270.4h0M46.8 321.1h0M51.7 315.9h0M41.4 327.7h0M42.6 326.0h0M43.4 324.8h0M46.0 322.5h0M100.6 266.9h0M43.2 323.6h0M101.9 267.8h0M82.7 283.2h0M37.8 324.2h0M38.8 301.1h0M74.6 294.9h0M55.0 313.2h0M66.4 303.9h0M42.2 326.3h0M40.8 328.3h0M77.3 288.3h0M68.5 300.4h0M79.0 290.1h0M62.5 299.5h0M39.8 328.6h0M43.6 324.0h0M46.9 318.7h0M48.2 320.1h0M35.8 324.5h0M40.1 327.9h0M55.1 313.5h0M39.0 327.6h0M64.3 304.3h0M71.4 298.8h0M96.4 267.4h0M48.0 320.5h0M52.5 316.3h0M98.2 271.8h0M38.4 330.8h0M97.5 261.8h0M65.9 302.7h0M39.7 329.4h0M68.6 293.0h0M39.7 300.2h0M75.3 293.5h0M36.2 332.3h0M36.6 327.7h0M49.2 315.1h0M104.2 265.0h0M46.9 322.6h0M36.1 329.0h0M77.7 293.1h0M94.0 276.4h0M92.2 278.1h0M41.2 324.9h0M39.4 323.4h0M83.5 287.5h0M55.0 311.8h0M40.8 321.7h0M65.3 305.4h0M40.5 327.8h0M63.2 302.3h0M56.8 311.3h0M60.8 307.8h0M55.6 308.6h0M59.7 308.8h0M42.8 309.3h0M76.4 285.8h0M70.5 295.0h0M66.0 304.1h0M53.2 284.1h0M51.3 314.2h0M38.7 330.4h0M37.0 317.1h0M46.2 323.4h0M36.1 330.1h0M81.9 277.6h0M43.7 322.4h0M57.5 309.4h0M36.0 327.4h0M49.6 318.2h0M38.4 330.7h0M98.1 267.6h0M77.3 291.4h0M42.5 323.9h0M47.2 321.7h0M42.8 326.4h0M89.8 274.1h0M79.1 288.0h0M37.2 322.4h0M50.2 317.4h0M55.5 313.6h0M57.0 304.9h0M60.4 307.0h0M59.9 310.4h0M49.3 310.1h0M37.6 321.6h0M56.7 313.5h0M36.1 328.8h0M56.6 307.0h0M68.4 297.8h0M70.4 299.9h0M63.5 306.2h0M48.5 320.1h0M49.5 319.8h0M82.1 284.5h0M63.1 307.6h0M64.5 300.2h0M75.7 290.4h0M55.9 312.4h0M48.6 312.3h0M48.5 320.0h0M86.6 284.0h0M73.8 295.9h0M51.0 318.8h0M39.5 312.2h0M94.0 275.1h0M56.5 311.4h0M84.5 280.0h0M55.3 309.2h0M38.8 314.8h0M48.8 320.7h0M39.6 313.1h0M56.5 312.7h0M65.0 301.8h0M84.5 283.2h0M60.6 309.7h0M63.8 300.9h0M73.5 296.2h0M52.8 316.9h0M38.8 325.5h0M59.9 306.4h0M89.6 279.6h0M89.1 281.5h0M83.9 286.6h0M78.6 292.8h0M44.9 321.6h0M53.1 316.4h0M38.4 328.7h0M43.2 310.6h0M68.6 298.5h0M48.3 317.1h0M36.7 332.1h0M39.3 329.9h0M44.8 319.3h0M38.7 330.5h0M42.5 325.6h0M49.0 305.2h0M52.8 314.9h0M84.4 283.8h0M68.1 301.1h0M45.2 323.2h0M37.0 329.5h0M55.6 307.8h0M95.0 274.9h0M65.6 298.5h0M89.0 280.8h0M38.0 331.0h0M60.7 293.4h0M94.4 274.8h0M50.6 318.1h0M53.9 316.1h0M102.8 266.1h0M95.1 275.3h0M65.4 303.4h0M44.0 317.0h0M46.8 315.9h0M89.3 277.2h0M67.5 302.2h0M55.5 305.0h0M73.6 297.7h0M63.3 302.2h0M55.9 312.1h0M47.8 319.3h0M93.7 274.0h0M102.8 265.0h0M45.2 324.4h0M79.5 283.1h0M81.5 287.2h0M45.2 324.1h0M41.3 328.4h0M92.7 258.4h0M48.4 312.9h0M35.9 332.7h0M45.1 322.2h0M81.2 290.0h0M44.1 323.9h0M49.4 302.2h0M39.7 329.4h0M60.1 306.9h0M56.5 296.9h0M41.3 305.2h0M37.4 331.5h0M71.9 291.5h0M49.4 318.8h0M37.7 328.7h0M98.1 270.7h0M59.4 309.3h0M59.9 308.6h0M50.1 313.3h0M64.1 305.9h0M68.1 301.9h0M38.4 330.4h0M78.9 292.6h0M55.4 314.3h0M53.8 316.0h0M48.2 316.8h0M43.8 325.8h0M46.4 319.7h0M67.0 297.2h0M80.7 289.0h0M61.5 297.4h0M38.0 329.9h0M74.0 285.6h0M63.2 307.5h0M39.9 327.8h0M40.1 329.3h0M45.6 320.5h0M40.6 328.9h0M68.2 300.7h0M45.3 322.3h0M68.1 300.9h0M59.7 306.8h0M72.9 297.0h0M38.5 324.2h0M56.4 312.1h0M83.4 281.7h0M70.9 297.3h0M68.3 298.0h0M40.1 326.1h0M50.0 314.3h0M39.9 328.5h0M55.4 307.4h0M76.2 292.7h0M76.0 295.4h0M36.2 332.0h0M53.4 314.4h0M42.0 327.2h0M38.9 326.1h0M68.1 302.1h0M61.5 308.8h0M37.3 330.4h0M67.3 301.4h0M51.1 315.5h0M54.1 315.4h0M60.7 305.5h0M63.5 297.8h0M42.8 317.8h0M64.7 303.2h0M79.6 291.5h0M59.3 301.3h0M64.8 295.8h0M59.4 303.9h0M66.1 301.1h0M70.1 293.8h0M46.7 321.3h0M39.8 329.0h0M52.2 303.4h0M57.4 309.3h0M79.6 289.5h0M56.8 312.2h0M48.6 319.1h0M42.5 327.1h0M60.5 309.0h0M44.4 323.9h0M44.2 324.7h0M82.1 269.9h0M43.7 289.1h0M68.5 296.4h0M75.2 294.8h0M65.4 303.5h0M54.5 315.1h0M60.5 309.0h0M70.8 295.9h0M78.6 282.6h0M36.9 332.0h0M58.7 311.2h0M48.9 315.1h0M94.6 258.0h0M46.0 310.7h0M83.1 287.9h0M85.7 285.4h0M70.0 298.0h0M47.4 315.4h0M64.7 303.6h0M46.2 317.3h0M43.7 323.1h0M47.0 306.6h0M67.3 303.6h0M38.1 330.1h0M46.1 323.3h0M36.7 329.8h0M47.1 319.3h0M64.0 304.5h0M42.7 314.5h0M86.4 281.0h0M45.5 322.7h0M42.0 324.1h0M41.2 327.2h0M49.5 316.3h0M38.5 329.8h0M105.8 253.8h0M64.1 303.0h0M80.9 289.2h0M65.1 300.0h0M84.7 283.4h0M39.1 328.0h0M67.9 300.5h0M79.8 290.1h0M42.6 321.9h0M43.9 324.0h0M58.7 297.6h0M56.9 311.9h0M37.7 325.3h0M44.0 322.6h0M57.7 311.2h0M40.7 293.4h0M71.5 296.0h0M44.6 322.0h0M64.6 305.4h0M106.8 258.5h0M52.1 313.4h0M48.4 319.7h0M105.3 260.5h0M63.7 306.9h0M65.5 303.9h0M45.7 320.8h0M42.3 311.7h0M60.5 302.4h0M70.9 296.8h0M78.6 292.8h0M74.5 295.3h0M44.3 314.1h0M74.2 290.5h0M36.0 307.0h0M36.8 332.1h0M63.2 301.9h0M93.2 275.0h0M62.0 300.8h0M40.1 327.2h0M104.8 264.0h0M41.3 322.6h0M43.8 325.2h0M79.7 291.0h0M74.0 294.0h0M45.8 322.6h0M63.3 307.0h0M72.5 298.4h0M50.6 309.7h0M37.4 330.5h0M40.0 327.8h0M38.8 330.3h0M36.8 322.7h0M71.8 297.7h0M80.4 290.8h0M98.5 271.5h0M50.4 318.9h0M96.2 269.1h0M49.7 319.3h0M50.2 318.6h0M37.8 322.9h0M46.2 320.8h0M59.6 309.3h0M59.7 302.2h0M47.4 321.2h0M50.6 314.9h0M36.2 332.0h0M43.2 322.4h0M37.0 332.4h0M74.9 291.3h0M39.9 326.9h0M59.0 310.3h0M50.8 318.5h0M54.9 307.4h0M107.0 254.2h0M44.1 323.1h0M51.0 317.9h0M49.5 317.4h0M79.0 290.9h0M42.7 317.7h0M84.2 286.2h0M40.3 328.8h0M40.4 327.5h0M40.3 329.1h0M55.8 314.6h0M59.7 292.9h0M36.7 303.0h0M41.6 319.6h0M69.2 299.0h0M54.6 313.7h0M54.1 315.1h0M71.2 298.8h0M59.5 307.4h0M75.8 291.6h0M62.9 299.4h0M37.7 327.7h0M56.6 283.5h0M95.0 274.8h0M83.1 280.5h0M38.0 329.5h0M44.9 324.7h0M60.1 306.4h0M52.7 315.8h0M60.5 301.9h0M42.3 325.8h0M48.3 314.4h0M53.6 313.4h0M55.9 310.2h0M75.5 293.6h0M37.1 318.7h0M72.0 295.0h0M84.1 286.9h0M79.9 287.9h0M65.3 305.3h0M35.9 331.9h0M72.2 298.4h0M76.9 286.7h0M82.8 287.3h0M40.5 328.5h0M57.4 306.3h0M39.7 329.3h0M57.6 312.0h0M85.5 276.7h0M79.7 280.6h0M65.1 304.9h0M51.0 309.5h0M36.3 329.4h0M43.4 319.0h0M107.0 258.0h0M73.3 296.3h0M100.1 267.4h0M78.6 287.8h0M42.9 319.2h0M40.1 313.8h0M37.6 331.1h0M38.2 319.8h0M69.6 301.3h0M103.4 266.2h0M51.8 317.9h0M41.3 324.8h0M61.6 305.7h0M49.3 317.0h0M57.2 313.1h0M82.0 289.3h0M45.9 323.8h0M42.1 326.6h0M39.7 317.0h0M44.5 322.4h0M44.9 317.7h0M59.1 309.2h0M40.0 329.3h0M55.1 314.2h0M38.0 330.7h0M59.4 307.1h0M85.4 275.0h0M47.5 322.5h0M36.5 326.8h0M63.6 306.9h0M48.1 320.4h0M41.6 326.6h0M39.3 330.1h0M68.8 298.6h0M36.2 330.1h0M59.4 310.7h0M63.5 303.2h0M73.7 291.7h0M40.7 318.1h0M95.9 269.6h0M39.3 329.2h0M46.9 322.2h0M54.0 315.8h0M57.1 308.6h0M71.2 298.0h0M44.8 324.3h0M41.9 317.9h0M61.1 307.2h0M68.7 299.8h0M48.1 321.5h0M39.0 324.8h0M38.2 322.6h0M66.2 301.9h0M59.0 311.5h0M56.4 313.0h0M103.0 264.9h0M57.8 312.0h0M41.0 328.1h0M37.2 324.7h0M63.4 305.0h0M39.3 323.9h0M60.5 302.0h0M36.6 330.7h0M54.8 315.5h0M56.6 304.0h0M64.7 296.3h0M89.0 281.0h0M68.6 302.1h0M70.3 291.2h0M67.2 303.0h0M76.1 291.0h0M63.5 305.1h0M39.0 325.2h0M88.5 279.0h0M46.2 317.8h0M56.3 312.7h0M54.1 313.6h0M38.0 317.3h0M69.4 296.2h0M36.6 328.8h0M106.7 262.2h0M71.2 299.6h0M49.4 318.2h0M71.9 297.6h0M70.3 299.6h0M39.6 328.4h0M39.8 328.3h0M47.9 307.0h0M72.0 298.1h0M45.0 324.8h0M69.0 298.9h0M79.0 291.5h0M54.0 305.4h0M43.9 325.8h0M76.6 291.9h0M41.9 313.9h0M47.4 321.6h0M37.3 311.7h0M99.6 269.5h0M39.6 327.4h0M74.0 295.4h0M87.2 274.8h0M47.7 322.3h0M52.6 315.9h0M75.9 294.9h0M42.5 325.5h0M47.8 322.1h0M36.4 330.3h0M86.8 282.9h0M40.8 325.8h0M80.4 290.2h0M88.3 282.0h0M46.2 323.3h0M63.3 306.5h0M59.6 309.8h0M42.4 327.1h0M44.1 319.8h0M42.9 325.2h0M62.8 304.4h0M45.0 320.3h0M38.8 324.9h0M66.2 304.5h0M53.2 315.8h0M84.7 284.1h0M91.4 279.0h0M40.3 328.3h0M71.1 296.1h0M78.5 290.3h0M66.0 295.6h0M77.5 293.4h0M68.5 300.9h0M36.3 331.7h0M36.1 330.3h0M41.5 326.9h0M39.0 326.7h0M52.0 313.9h0M63.8 306.9h0M86.7 271.6h0M36.7 332.2h0M47.4 316.6h0M103.9 264.8h0M43.0 325.8h0M45.3 323.3h0M58.7 311.7h0M44.5 321.7h0M42.2 322.1h0M38.0 327.5h0M90.2 277.4h0M36.7 328.7h0M60.8 295.9h0M53.0 313.2h0M49.0 317.0h0M41.6 320.5h0M80.0 291.1h0M46.4 323.4h0M54.4 314.8h0M44.5 323.1h0M59.6 307.9h0M58.9 306.1h0M36.3 330.8h0M69.4 295.5h0M40.7 326.5h0M65.1 294.2h0M48.7 311.0h0M61.0 307.7h0M89.5 280.7h0M46.2 320.8h0M53.9 315.9h0M40.8 326.8h0M59.2 307.6h0M38.0 327.6h0M42.3 312.5h0M49.3 316.7h0M99.1 270.8h0M44.4 317.9h0M39.5 329.4h0M40.8 327.9h0M38.7 330.6h0M56.9 308.0h0M40.6 326.2h0M68.2 302.4h0M95.5 273.6h0M46.4 322.3h0M59.8 291.9h0M82.0 286.9h0M56.2 311.7h0M88.6 272.7h0M45.0 322.6h0M98.2 259.9h0M38.3 327.5h0M37.0 332.0h0M56.3 313.6h0M50.8 310.3h0M40.1 327.1h0M39.0 329.9h0M44.1 323.8h0M41.9 326.3h0M47.2 320.2h0M83.0 280.5h0M51.5 314.0h0M105.7 260.6h0M93.1 272.1h0M61.3 308.6h0M94.8 273.1h0M35.9 330.0h0M38.1 330.4h0M68.8 301.9h0M55.0 312.7h0M70.6 294.9h0M99.5 267.4h0M75.1 295.3h0M45.1 321.1h0M68.5 290.4h0M57.6 312.9h0M46.7 320.7h0M55.5 311.4h0M89.6 281.1h0M39.6 329.6h0M86.4 279.8h0M43.2 323.7h0M99.4 257.5h0M37.6 328.9h0M44.2 322.8h0M42.6 326.6h0M44.9 323.6h0M63.7 305.0h0M63.1 300.8h0M37.6 329.1h0M45.5 316.9h0M37.4 318.8h0M92.9 276.4h0M94.0 274.6h0M36.4 330.1h0M78.9 289.7h0M43.0 322.8h0M37.4 315.1h0M59.5 308.3h0M107.0 260.6h0M60.2 303.8h0M52.3 316.0h0M44.8 317.8h0M41.0 328.1h0M54.3 311.6h0M66.2 304.7h0M53.6 309.8h0M41.3 322.8h0M72.1 298.9h0M70.7 297.7h0M38.1 330.8h0M39.5 328.3h0M52.8 314.4h0M55.6 314.7h0M82.5 288.0h0M82.7 287.9h0M54.9 302.1h0M65.0 287.9h0M83.1 287.5h0M40.4 328.7h0M39.1 326.9h0M95.3 271.8h0M42.9 325.5h0M40.6 325.5h0M42.7 325.9h0M92.9 274.0h0M62.2 307.9h0M50.6 318.3h0M53.3 313.0h0M38.4 326.9h0M69.5 299.2h0M51.4 312.4h0M43.9 317.0h0M44.3 320.5h0M69.4 296.6h0M65.9 301.1h0M60.6 309.2h0M61.9 308.1h0M70.4 299.6h0M51.5 317.3h0M62.1 307.8h0M53.5 315.0h0M78.6 291.6h0M56.5 313.2h0M95.6 271.4h0M81.9 286.9h0M37.6 331.4h0M42.0 324.8h0M37.1 324.7h0M38.0 328.3h0M87.3 282.8h0M96.3 261.3h0M64.2 304.3h0M93.8 276.0h0M53.4 314.3h0M76.9 294.5h0M37.8 328.5h0M94.7 268.3h0M83.0 286.1h0M49.7 319.4h0M87.5 280.0h0M71.6 295.4h0M63.6 288.7h0M39.4 329.5h0M42.3 325.3h0M100.7 269.3h0M67.8 301.0h0M57.2 312.2h0M72.4 294.7h0M49.6 318.9h0M39.5 312.6h0M86.8 281.2h0M38.2 328.8h0M61.0 305.1h0M87.5 283.4h0M66.1 292.1h0M39.0 327.7h0M62.2 307.7h0M84.5 285.7h0M41.0 325.5h0M82.3 288.4h0M86.8 277.9h0M48.4 321.5h0M84.6 280.4h0M51.3 317.4h0M40.1 315.3h0M36.6 325.1h0M37.0 330.6h0M43.1 316.3h0M56.1 310.8h0M57.4 311.4h0M48.6 320.7h0M78.9 288.1h0M36.4 313.6h0M40.0 325.7h0M62.4 302.6h0M98.3 268.8h0M38.2 329.3h0M36.6 326.6h0M53.7 291.0h0M80.4 289.7h0M54.7 308.7h0M64.3 301.8h0M44.6 322.7h0M48.2 315.9h0M39.4 328.4h0M85.1 281.6h0M85.6 272.1h0M62.1 300.9h0M101.7 265.6h0M54.0 313.5h0M38.1 328.9h0M38.3 327.2h0M42.4 320.1h0M46.7 319.9h0M36.6 330.3h0M53.9 312.9h0M36.9 326.6h0M72.5 296.4h0M90.2 274.1h0M77.7 293.2h0M46.5 321.3h0M63.9 301.2h0M41.2 327.8h0M43.6 307.1h0M55.6 310.4h0M97.3 270.1h0M46.0 319.6h0M103.7 265.2h0M63.7 306.3h0M45.4 323.5h0M65.3 304.0h0M62.3 308.2h0M41.9 322.9h0M42.0 324.8h0M51.3 316.7h0M54.9 313.9h0M36.2 333.2h0M39.9 328.2h0M50.1 319.9h0M36.0 330.9h0M49.2 319.8h0M69.4 299.8h0M46.2 313.0h0M35.8 333.0h0M75.9 293.2h0M100.4 269.5h0M36.2 328.5h0M47.1 321.7h0M50.7 319.2h0M36.4 299.6h0M49.4 318.6h0M41.1 325.6h0M58.3 311.9h0M48.1 320.1h0M99.4 270.4h0M49.4 317.5h0M67.7 303.0h0M96.6 271.0h0M40.8 323.7h0M84.5 284.3h0M47.5 311.4h0M52.2 315.2h0M48.1 305.9h0M87.4 279.5h0M58.0 306.1h0M45.5 319.9h0M62.2 308.1h0M37.4 328.3h0M61.5 303.1h0M57.8 296.7h0M39.1 320.6h0M92.5 277.4h0M87.3 280.6h0M44.5 317.2h0M86.0 277.7h0M63.6 303.6h0M47.8 319.4h0M41.5 317.6h0M38.0 330.6h0M39.5 319.0h0M55.0 311.2h0M50.2 319.9h0M77.5 291.6h0M72.6 298.3h0M54.9 306.3h0M43.7 325.8h0M54.9 313.5h0M53.4 315.7h0M50.8 317.6h0M51.4 306.6h0M72.4 289.2h0M96.3 272.7h0M64.8 305.8h0M36.2 327.0h0M73.2 294.8h0M47.6 313.8h0M85.1 283.3h0M71.8 298.3h0M101.0 264.9h0M79.0 288.9h0M37.2 329.4h0M55.6 312.6h0M56.4 312.5h0M61.6 306.5h0M59.1 311.1h0M38.0 324.0h0M52.5 316.3h0M38.5 325.7h0M79.1 291.5h0M38.7 329.4h0M36.8 324.3h0M53.6 302.0h0M64.0 303.8h0M41.5 325.1h0M48.8 316.6h0M49.8 319.5h0M103.3 265.6h0M99.1 267.1h0M45.2 324.6h0M47.9 319.4h0M41.8 323.4h0M43.4 319.6h0M53.9 316.0h0M70.9 299.6h0M38.7 327.4h0M65.8 303.9h0M36.1 331.5h0M45.8 323.3h0M71.5 298.2h0M62.6 307.9h0M70.7 297.0h0M55.8 311.6h0M36.0 328.9h0M45.5 322.4h0M64.5 305.6h0M44.2 289.3h0M53.5 312.0h0M72.5 296.2h0M36.8 324.5h0M36.1 332.6h0M69.6 299.1h0M59.6 299.5h0M44.2 325.5h0M86.5 262.3h0M37.9 330.4h0M55.8 306.4h0M42.3 323.3h0M43.6 320.7h0M72.4 296.6h0M48.9 314.9h0M41.5 315.1h0M52.1 316.9h0M36.7 327.4h0M42.2 325.8h0M70.5 294.8h0M55.2 313.3h0M47.9 321.6h0M57.0 299.9h0M44.1 287.7h0M78.9 280.7h0M36.4 320.8h0M50.5 319.3h0M41.5 326.5h0M79.0 292.1h0M64.0 304.5h0M98.7 262.9h0M86.9 280.6h0M77.5 292.8h0M84.5 286.5h0M88.7 275.8h0M44.6 321.8h0M41.1 321.9h0M39.1 326.7h0M57.5 312.6h0M55.1 312.9h0M49.1 317.9h0M47.3 320.7h0M55.2 312.2h0M43.9 320.8h0M43.0 324.9h0M72.2 282.3h0M46.1 323.1h0M57.7 312.4h0M83.5 278.5h0M48.7 320.6h0M47.2 321.8h0M90.6 279.2h0M48.2 319.9h0M38.3 317.2h0M37.3 331.2h0M94.2 273.8h0M52.7 312.4h0M67.8 301.4h0M88.3 280.8h0M68.0 288.8h0M67.1 302.7h0M83.7 287.4h0M90.9 277.8h0M72.7 296.5h0M70.4 294.5h0M56.7 303.0h0M59.9 309.9h0M44.6 310.3h0M99.4 269.2h0M48.9 319.6h0M79.1 287.0h0M54.0 314.3h0M39.2 326.5h0M43.3 324.1h0M43.7 322.5h0M65.9 303.5h0M70.2 300.7h0M56.1 311.8h0M66.2 300.6h0M53.7 310.4h0M55.3 310.3h0M40.6 323.1h0M88.4 267.7h0M67.9 300.8h0M46.8 319.9h0M39.7 327.7h0M37.2 323.2h0M56.7 310.9h0M74.1 293.8h0M63.9 305.8h0M90.5 280.2h0M51.4 317.0h0M81.1 289.3h0M40.9 325.9h0M84.1 286.5h0M42.7 284.7h0M64.5 305.8h0M51.6 313.9h0M78.8 289.4h0M66.6 294.7h0M41.5 320.5h0M71.3 297.4h0M47.4 321.9h0M37.5 327.4h0M45.3 322.4h0M79.3 290.7h0M50.0 317.7h0M35.9 333.1h0M41.7 326.9h0M65.8 295.0h0M36.8 324.7h0M37.0 329.7h0M41.1 320.2h0M37.5 324.0h0M64.8 287.9h0M52.3 308.0h0M42.8 326.0h0M81.6 284.4h0M72.8 296.6h0M98.5 268.2h0M82.8 287.5h0M63.2 304.1h0M47.4 318.8h0M57.7 302.4h0M85.1 282.5h0M57.1 312.3h0M73.2 296.9h0M47.8 319.7h0M44.9 315.2h0M46.9 316.7h0M42.8 313.7h0M68.3 302.7h0M70.1 298.1h0M41.1 321.4h0M67.1 301.1h0M48.6 310.4h0M56.9 310.5h0M44.2 321.0h0M42.3 319.9h0M40.3 321.8h0M49.1 317.5h0M55.2 313.8h0M90.2 279.2h0M88.5 278.4h0M95.4 271.2h0M58.0 304.4h0M53.9 296.2h0M56.7 311.9h0M57.2 309.3h0M80.0 287.6h0M40.5 323.3h0M37.0 332.3h0M40.8 322.6h0M38.2 330.4h0M50.8 316.1h0M49.9 316.2h0M78.6 292.5h0M56.3 314.0h0M60.8 308.7h0M45.4 323.6h0M78.7 289.7h0M52.4 307.9h0M47.4 314.3h0M55.8 301.6h0M43.5 325.1h0M38.6 304.6h0M70.4 299.7h0M51.1 315.2h0M74.9 289.0h0M55.2 307.9h0M45.2 317.7h0M57.2 298.5h0M47.9 321.6h0M56.2 313.2h0M97.8 272.0h0M71.4 298.9h0M63.2 304.5h0M68.6 301.5h0M48.2 304.1h0M45.7 321.8h0M42.7 324.9h0M94.1 275.8h0M57.4 306.6h0M36.5 330.4h0M66.4 304.5h0M54.4 312.4h0M57.5 307.7h0M45.2 317.6h0M92.7 274.8h0M75.6 291.5h0M45.6 316.6h0M68.6 302.0h0M79.8 288.1h0M45.4 323.4h0M86.8 282.4h0M45.9 319.0h0M58.4 310.6h0M72.2 295.9h0M98.1 266.6h0M57.9 312.0h0M36.8 316.5h0M59.3 311.1h0M44.0 324.8h0M47.3 317.8h0M96.2 266.3h0M66.8 303.2h0M35.9 330.0h0M67.3 300.0h0M62.6 303.3h0M40.9 328.2h0M63.1 307.3h0M38.0 331.3h0M71.8 297.4h0M52.1 315.8h0M36.3 329.6h0M106.1 261.5h0M60.8 299.5h0M54.0 310.6h0M85.2 282.6h0M60.4 308.7h0M64.9 292.1h0M57.8 312.4h0M80.9 287.8h0M58.0 302.9h0M46.0 320.1h0M49.0 318.9h0M52.2 317.6h0M56.0 314.4h0M49.3 304.5h0M44.1 324.7h0M39.3 326.2h0M95.7 273.8h0M61.6 303.9h0M72.9 297.6h0M49.9 309.7h0M83.1 287.9h0M57.6 304.9h0M91.3 277.1h0M50.9 313.9h0M38.2 328.5h0M49.5 319.0h0M87.6 281.2h0M75.1 296.3h0M102.9 253.9h0M43.4 325.7h0M103.6 265.7h0M49.1 320.9h0M72.1 298.1h0M36.9 314.0h0M39.9 318.4h0M41.1 320.9h0M48.1 315.9h0M46.9 322.9h0M46.7 322.9h0M65.0 297.2h0M76.1 294.4h0M78.5 291.9h0M52.0 317.8h0M59.8 309.3h0M44.5 317.3h0M50.7 313.9h0M41.2 327.9h0M89.7 280.9h0M44.7 319.4h0M61.1 309.2h0M47.7 315.2h0M37.3 328.3h0M86.8 280.0h0M46.5 319.0h0M64.4 298.6h0M76.6 293.2h0M100.2 267.7h0M36.4 328.5h0M42.1 327.6h0M63.1 306.9h0M40.1 329.2h0M53.5 314.7h0M85.5 284.4h0M48.9 321.1h0M71.7 299.2h0M46.0 321.1h0M39.0 324.3h0M85.9 281.4h0M46.9 320.1h0M68.9 301.9h0M77.8 290.7h0M45.5 319.8h0M46.3 320.5h0M36.6 324.4h0M98.8 270.3h0M65.5 304.2h0M38.8 327.1h0M83.9 287.0h0M61.7 301.1h0M77.3 292.0h0M46.5 316.4h0M36.1 327.7h0M60.5 298.0h0M50.4 315.1h0M43.3 318.5h0M79.7 289.0h0M70.4 298.6h0M44.0 315.1h0M86.8 280.1h0M61.6 301.3h0M43.8 324.5h0M61.3 308.8h0M39.3 326.8h0M38.5 330.3h0M58.3 308.7h0M72.4 289.1h0M44.9 321.4h0M75.5 294.2h0M44.8 324.6h0M79.3 283.6h0M60.2 310.1h0M85.7 281.6h0M92.3 247.7h0M102.1 263.3h0M38.8 313.3h0M41.7 325.3h0M69.4 301.2h0M81.5 288.4h0M66.7 301.5h0M68.0 302.2h0M47.5 311.4h0M45.4 311.8h0M83.1 286.3h0M52.7 316.7h0M65.3 304.9h0M40.0 324.7h0M37.9 330.1h0M84.6 281.8h0M36.9 330.6h0M78.0 290.8h0M65.9 304.6h0M61.7 303.4h0M66.8 297.7h0M101.4 268.3h0M77.0 293.1h0M74.6 295.6h0M47.7 321.3h0M76.8 289.9h0M77.5 288.6h0M43.2 321.0h0M69.5 290.9h0M48.1 313.8h0M64.1 305.2h0M38.6 317.5h0M90.5 276.2h0M55.7 310.8h0M58.0 311.0h0M65.6 294.5h0M42.6 325.7h0M50.9 317.3h0M64.5 305.9h0M100.4 267.8h0M42.5 325.0h0M84.9 286.1h0M99.1 268.0h0M79.0 290.2h0M81.2 289.6h0M43.5 318.8h0M79.1 287.2h0M90.7 274.4h0M63.4 305.0h0M49.1 314.8h0M52.0 317.6h0M51.2 316.6h0M71.9 298.8h0M44.8 324.8h0M42.2 308.0h0M60.9 309.7h0M102.9 260.5h0M49.6 320.1h0M62.8 304.6h0M51.5 314.3h0M47.9 312.2h0M47.8 318.2h0M75.1 291.5h0M61.2 308.8h0M60.0 307.2h0M53.3 314.5h0M52.9 315.9h0M39.7 328.6h0M38.0 331.2h0M86.6 280.4h0M51.6 318.5h0M48.7 317.9h0M98.9 270.1h0M55.4 312.1h0M81.7 289.6h0M64.3 301.1h0M42.8 326.1h0M75.3 292.2h0M38.5 331.1h0M36.8 325.9h0M73.1 297.5h0M53.6 314.4h0M67.7 288.2h0M47.9 309.0h0M50.3 317.5h0M46.1 323.0h0M58.2 308.8h0M47.6 321.3h0M69.4 293.6h0M61.5 308.2h0M50.3 318.4h0M45.3 324.2h0M44.9 319.3h0M44.0 321.8h0M49.3 320.0h0M45.8 322.6h0M54.0 315.8h0M40.2 317.4h0M64.8 306.0h0M50.7 312.9h0M48.1 316.6h0M67.1 302.6h0M74.5 296.4h0M41.2 326.7h0M92.1 268.2h0M39.3 326.7h0M50.5 318.5h0M76.8 292.6h0M59.3 307.4h0M36.4 313.9h0M36.7 329.2h0M62.1 308.1h0M56.1 305.4h0M58.0 299.2h0M42.8 299.0h0M70.3 296.9h0M41.6 327.3h0M52.5 316.6h0M106.8 262.1h0M42.1 322.2h0M59.3 302.6h0M71.7 296.9h0M52.3 317.2h0M56.6 312.1h0M48.4 321.3h0M67.9 298.3h0M91.7 278.9h0M97.2 272.3h0M50.5 318.2h0M95.4 274.5h0M107.0 259.2h0M77.6 293.5h0M71.1 298.4h0M39.2 328.0h0M40.8 328.3h0M64.1 305.0h0M38.6 329.3h0M36.1 322.9h0M59.7 303.7h0M56.8 312.2h0M36.5 331.2h0M39.4 328.5h0M103.3 261.7h0M85.3 277.9h0M51.4 318.0h0M51.3 311.3h0M73.9 297.1h0M56.5 313.1h0M60.2 307.9h0M41.8 318.3h0M61.2 307.4h0M86.0 284.5h0M39.6 327.8h0M83.1 287.9h0M65.0 291.3h0M48.0 320.5h0M56.0 309.5h0M64.0 305.5h0M38.1 322.5h0M46.1 319.1h0M77.0 292.2h0M47.9 316.2h0M97.3 264.5h0M37.4 327.0h0M101.8 266.8h0M39.9 303.9h0M71.4 299.3h0M65.2 304.9h0M59.1 309.7h0M60.5 309.5h0M46.5 304.3h0M97.5 272.0h0M38.9 327.9h0M66.4 302.9h0M100.4 261.3h0M54.5 315.0h0M44.6 324.8h0M44.6 322.4h0M36.4 332.6h0M69.1 299.8h0M90.5 272.4h0M63.1 298.0h0M46.7 322.1h0M53.9 311.9h0M42.0 325.4h0M39.0 321.2h0M59.5 309.0h0M66.6 298.9h0M43.7 325.9h0M43.8 325.8h0M43.2 323.0h0M65.6 300.9h0M54.1 315.8h0M74.6 292.4h0M38.1 320.1h0M53.2 315.0h0M66.8 296.5h0M43.9 313.3h0M39.4 325.8h0M52.3 317.8h0M49.9 317.9h0M66.8 303.6h0M69.4 301.2h0M66.8 295.6h0M41.4 323.8h0M76.6 294.4h0M50.5 315.4h0M67.3 297.9h0M57.4 312.4h0M43.3 324.6h0M58.0 309.0h0M62.6 300.7h0M39.8 327.6h0M50.6 318.0h0M56.4 312.7h0M46.7 319.2h0M78.5 291.9h0M36.2 312.8h0M45.3 319.0h0M63.0 307.6h0M72.0 296.6h0M48.6 310.5h0M70.2 296.0h0M67.6 294.5h0M51.6 317.2h0M78.3 292.8h0M49.2 318.7h0M44.1 317.5h0M41.2 318.1h0M56.0 309.5h0M41.5 325.2h0M72.3 294.5h0M41.9 327.1h0M75.7 274.0h0M78.5 292.0h0M42.8 316.7h0M62.9 305.7h0M58.7 310.4h0M45.9 322.2h0M53.5 310.3h0M43.4 325.9h0M106.2 262.9h0M38.5 319.3h0M41.9 327.3h0M39.7 327.2h0M72.3 295.2h0M74.6 293.8h0M39.4 327.1h0M42.4 326.7h0M80.1 276.4h0M54.9 315.0h0M55.9 313.9h0M36.1 332.9h0M62.6 307.5h0M43.1 323.2h0M58.7 310.7h0M37.6 331.8h0M36.9 332.2h0M83.5 274.0h0M37.0 329.4h0M67.6 300.5h0M66.0 303.3h0M70.8 293.8h0M59.9 310.3h0M65.6 304.4h0M61.2 307.5h0M58.5 311.9h0M70.7 298.6h0M50.9 317.4h0M60.2 307.8h0M72.4 295.9h0M64.7 301.2h0M76.1 294.3h0M54.3 313.3h0M80.1 284.2h0M79.2 290.7h0M77.8 290.7h0M69.1 301.5h0M62.4 306.1h0"/>
<path stroke="#d8765a" stroke-width="1.1" stroke-linecap="square" fill="none" d="M64.7 305.6h0M41.5 327.8h0M97.7 270.4h0M46.8 321.1h0M51.7 315.9h0M41.4 327.7h0M42.6 326.0h0M43.4 324.8h0M46.0 322.5h0M100.6 266.9h0M43.2 323.6h0M101.9 267.8h0M74.6 294.9h0M55.0 313.2h0M66.4 303.9h0M42.2 326.3h0M40.8 328.3h0M68.5 300.4h0M79.0 290.1h0M39.8 328.6h0M43.6 324.0h0M48.2 320.1h0M40.1 327.9h0M55.1 313.5h0M39.0 327.6h0M64.3 304.3h0M71.4 298.8h0M48.0 320.5h0M52.5 316.3h0M98.2 271.8h0M38.4 330.8h0M65.9 302.7h0M39.7 329.4h0M75.3 293.5h0M36.2 332.3h0M104.2 265.0h0M46.9 322.6h0M77.7 293.1h0M94.0 276.4h0M92.2 278.1h0M83.5 287.5h0M65.3 305.4h0M40.5 327.8h0M56.8 311.3h0M60.8 307.8h0M59.7 308.8h0M66.0 304.1h0M38.7 330.4h0M46.2 323.4h0M49.6 318.2h0M38.4 330.7h0M77.3 291.4h0M47.2 321.7h0M42.8 326.4h0M50.2 317.4h0M55.5 313.6h0M59.9 310.4h0M56.7 313.5h0M70.4 299.9h0M63.5 306.2h0M48.5 320.1h0M49.5 319.8h0M63.1 307.6h0M55.9 312.4h0M48.5 320.0h0M86.6 284.0h0M73.8 295.9h0M51.0 318.8h0M94.0 275.1h0M56.5 311.4h0M48.8 320.7h0M56.5 312.7h0M60.6 309.7h0M73.5 296.2h0M52.8 316.9h0M89.6 279.6h0M89.1 281.5h0M83.9 286.6h0M78.6 292.8h0M53.1 316.4h0M38.4 328.7h0M36.7 332.1h0M39.3 329.9h0M38.7 330.5h0M42.5 325.6h0M52.8 314.9h0M84.4 283.8h0M68.1 301.1h0M45.2 323.2h0M37.0 329.5h0M95.0 274.9h0M89.0 280.8h0M38.0 331.0h0M94.4 274.8h0M50.6 318.1h0M53.9 316.1h0M102.8 266.1h0M95.1 275.3h0M65.4 303.4h0M67.5 302.2h0M73.6 297.7h0M55.9 312.1h0M47.8 319.3h0M93.7 274.0h0M102.8 265.0h0M45.2 324.4h0M81.5 287.2h0M45.2 324.1h0M41.3 328.4h0M35.9 332.7h0M45.1 322.2h0M81.2 290.0h0M44.1 323.9h0M39.7 329.4h0M37.4 331.5h0M49.4 318.8h0M98.1 270.7h0M59.4 309.3h0M59.9 308.6h0M64.1 305.9h0M68.1 301.9h0M38.4 330.4h0M78.9 292.6h0M55.4 314.3h0M53.8 316.0h0M43.8 325.8h0M80.7 289.0h0M38.0 329.9h0M63.2 307.5h0M39.9 327.8h0M40.1 329.3h0M40.6 328.9h0M68.2 300.7h0M45.3 322.3h0M68.1 300.9h0M72.9 297.0h0M56.4 312.1h0M70.9 297.3h0M39.9 328.5h0M76.2 292.7h0M76.0 295.4h0M36.2 332.0h0M53.4 314.4h0M42.0 327.2h0M68.1 302.1h0M61.5 308.8h0M37.3 330.4h0M67.3 301.4h0M54.1 315.4h0M64.7 303.2h0M79.6 291.5h0M46.7 321.3h0M39.8 329.0h0M79.6 289.5h0M56.8 312.2h0M48.6 319.1h0M42.5 327.1h0M60.5 309.0h0M44.4 323.9h0M44.2 324.7h0M75.2 294.8h0M65.4 303.5h0M54.5 315.1h0M60.5 309.0h0M36.9 332.0h0M58.7 311.2h0M83.1 287.9h0M85.7 285.4h0M64.7 303.6h0M43.7 323.1h0M67.3 303.6h0M38.1 330.1h0M46.1 323.3h0M36.7 329.8h0M64.0 304.5h0M45.5 322.7h0M41.2 327.2h0M38.5 329.8h0M80.9 289.2h0M84.7 283.4h0M39.1 328.0h0M67.9 300.5h0M79.8 290.1h0M43.9 324.0h0M56.9 311.9h0M57.7 311.2h0M64.6 305.4h0M48.4 319.7h0M63.7 306.9h0M65.5 303.9h0M78.6 292.8h0M74.5 295.3h0M36.8 332.1h0M93.2 275.0h0M40.1 327.2h0M104.8 264.0h0M43.8 325.2h0M79.7 291.0h0M45.8 322.6h0M63.3 307.0h0M72.5 298.4h0M37.4 330.5h0M40.0 327.8h0M38.8 330.3h0M71.8 297.7h0M80.4 290.8h0M98.5 271.5h0M50.4 318.9h0M49.7 319.3h0M50.2 318.6h0M46.2 320.8h0M59.6 309.3h0M47.4 321.2h0M36.2 332.0h0M37.0 332.4h0M39.9 326.9h0M59.0 310.3h0M50.8 318.5h0M44.1 323.1h0M51.0 317.9h0M79.0 290.9h0M84.2 286.2h0M40.3 328.8h0M40.4 327.5h0M40.3 329.1h0M55.8 314.6h0M69.2 299.0h0M54.6 313.7h0M54.1 315.1h0M71.2 298.8h0M95.0 274.8h0M38.0 329.5h0M44.9 324.7h0M52.7 315.8h0M42.3 325.8h0M75.5 293.6h0M84.1 286.9h0M65.3 305.3h0M35.9 331.9h0M72.2 298.4h0M82.8 287.3h0M40.5 328.5h0M39.7 329.3h0M57.6 312.0h0M65.1 304.9h0M73.3 296.3h0M100.1 267.4h0M37.6 331.1h0M69.6 301.3h0M103.4 266.2h0M51.8 317.9h0M57.2 313.1h0M82.0 289.3h0M45.9 323.8h0M42.1 326.6h0M44.5 322.4h0M59.1 309.2h0M40.0 329.3h0M55.1 314.2h0M38.0 330.7h0M47.5 322.5h0M63.6 306.9h0M48.1 320.4h0M41.6 326.6h0M39.3 330.1h0M59.4 310.7h0M39.3 329.2h0M46.9 322.2h0M54.0 315.8h0M71.2 298.0h0M44.8 324.3h0M61.1 307.2h0M68.7 299.8h0M48.1 321.5h0M66.2 301.9h0M59.0 311.5h0M56.4 313.0h0M103.0 264.9h0M57.8 312.0h0M41.0 328.1h0M63.4 305.0h0M36.6 330.7h0M54.8 315.5h0M89.0 281.0h0M68.6 302.1h0M67.2 303.0h0M63.5 305.1h0M56.3 312.7h0M54.1 313.6h0M106.7 262.2h0M71.2 299.6h0M49.4 318.2h0M71.9 297.6h0M70.3 299.6h0M39.6 328.4h0M39.8 328.3h0M72.0 298.1h0M45.0 324.8h0M79.0 291.5h0M43.9 325.8h0M76.6 291.9h0M47.4 321.6h0M99.6 269.5h0M39.6 327.4h0M74.0 295.4h0M47.7 322.3h0M52.6 315.9h0M75.9 294.9h0M42.5 325.5h0M47.8 322.1h0M36.4 330.3h0M86.8 282.9h0M40.8 325.8h0M80.4 290.2h0M88.3 282.0h0M46.2 323.3h0M63.3 306.5h0M59.6 309.8h0M42.4 327.1h0M42.9 325.2h0M66.2 304.5h0M53.2 315.8h0M84.7 284.1h0M91.4 279.0h0M40.3 328.3h0M78.5 290.3h0M77.5 293.4h0M68.5 300.9h0M36.3 331.7h0M36.1 330.3h0M41.5 326.9h0M63.8 306.9h0M36.7 332.2h0M103.9 264.8h0M43.0 325.8h0M45.3 323.3h0M58.7 311.7h0M90.2 277.4h0M80.0 291.1h0M46.4 323.4h0M54.4 314.8h0M44.5 323.1h0M36.3 330.8h0M40.7 326.5h0M61.0 307.7h0M89.5 280.7h0M46.2 320.8h0M53.9 315.9h0M40.8 326.8h0M99.1 270.8h0M39.5 329.4h0M40.8 327.9h0M38.7 330.6h0M40.6 326.2h0M68.2 302.4h0M95.5 273.6h0M46.4 322.3h0M82.0 286.9h0M56.2 311.7h0M45.0 322.6h0M37.0 332.0h0M56.3 313.6h0M40.1 327.1h0M39.0 329.9h0M44.1 323.8h0M41.9 326.3h0M47.2 320.2h0M61.3 308.6h0M94.8 273.1h0M38.1 330.4h0M68.8 301.9h0M55.0 312.7h0M75.1 295.3h0M57.6 312.9h0M46.7 320.7h0M89.6 281.1h0M39.6 329.6h0M43.2 323.7h0M37.6 328.9h0M44.2 322.8h0M42.6 326.6h0M44.9 323.6h0M63.7 305.0h0M37.6 329.1h0M92.9 276.4h0M94.0 274.6h0M36.4 330.1h0M78.9 289.7h0M59.5 308.3h0M107.0 260.6h0M52.3 316.0h0M41.0 328.1h0M66.2 304.7h0M72.1 298.9h0M70.7 297.7h0M38.1 330.8h0M39.5 328.3h0M52.8 314.4h0M55.6 314.7h0M82.5 288.0h0M82.7 287.9h0M83.1 287.5h0M40.4 328.7h0M42.9 325.5h0M42.7 325.9h0M62.2 307.9h0M50.6 318.3h0M69.5 299.2h0M60.6 309.2h0M61.9 308.1h0M70.4 299.6h0M51.5 317.3h0M62.1 307.8h0M53.5 315.0h0M78.6 291.6h0M56.5 313.2h0M81.9 286.9h0M37.6 331.4h0M42.0 324.8h0M87.3 282.8h0M64.2 304.3h0M93.8 276.0h0M53.4 314.3h0M76.9 294.5h0M83.0 286.1h0M49.7 319.4h0M39.4 329.5h0M42.3 325.3h0M100.7 269.3h0M67.8 301.0h0M57.2 312.2h0M49.6 318.9h0M86.8 281.2h0M38.2 328.8h0M87.5 283.4h0M39.0 327.7h0M62.2 307.7h0M84.5 285.7h0M82.3 288.4h0M48.4 321.5h0M51.3 317.4h0M37.0 330.6h0M57.4 311.4h0M48.6 320.7h0M98.3 268.8h0M38.2 329.3h0M80.4 289.7h0M44.6 322.7h0M39.4 328.4h0M101.7 265.6h0M54.0 313.5h0M38.1 328.9h0M36.6 330.3h0M72.5 296.4h0M77.7 293.2h0M46.5 321.3h0M41.2 327.8h0M97.3 270.1h0M103.7 265.2h0M63.7 306.3h0M45.4 323.5h0M65.3 304.0h0M62.3 308.2h0M42.0 324.8h0M51.3 316.7h0M54.9 313.9h0M36.2 333.2h0M39.9 328.2h0M50.1 319.9h0M36.0 330.9h0M49.2 319.8h0M69.4 299.8h0M35.8 333.0h0M75.9 293.2h0M100.4 269.5h0M47.1 321.7h0M50.7 319.2h0M49.4 318.6h0M41.1 325.6h0M58.3 311.9h0M48.1 320.1h0M99.4 270.4h0M67.7 303.0h0M96.6 271.0h0M84.5 284.3h0M52.2 315.2h0M62.2 308.1h0M92.5 277.4h0M87.3 280.6h0M47.8 319.4h0M38.0 330.6h0M50.2 319.9h0M77.5 291.6h0M72.6 298.3h0M43.7 325.8h0M54.9 313.5h0M53.4 315.7h0M50.8 317.6h0M96.3 272.7h0M64.8 305.8h0M85.1 283.3h0M71.8 298.3h0M37.2 329.4h0M55.6 312.6h0M56.4 312.5h0M61.6 306.5h0M59.1 311.1h0M52.5 316.3h0M79.1 291.5h0M38.7 329.4h0M64.0 303.8h0M49.8 319.5h0M103.3 265.6h0M45.2 324.6h0M47.9 319.4h0M53.9 316.0h0M70.9 299.6h0M65.8 303.9h0M36.1 331.5h0M45.8 323.3h0M71.5 298.2h0M62.6 307.9h0M55.8 311.6h0M45.5 322.4h0M64.5 305.6h0M72.5 296.2h0M36.1 332.6h0M69.6 299.1h0M44.2 325.5h0M37.9 330.4h0M72.4 296.6h0M52.1 316.9h0M42.2 325.8h0M55.2 313.3h0M47.9 321.6h0M50.5 319.3h0M41.5 326.5h0M79.0 292.1h0M64.0 304.5h0M77.5 292.8h0M84.5 286.5h0M57.5 312.6h0M55.1 312.9h0M49.1 317.9h0M47.3 320.7h0M55.2 312.2h0M43.0 324.9h0M46.1 323.1h0M57.7 312.4h0M48.7 320.6h0M47.2 321.8h0M90.6 279.2h0M48.2 319.9h0M37.3 331.2h0M94.2 273.8h0M67.8 301.4h0M88.3 280.8h0M67.1 302.7h0M83.7 287.4h0M90.9 277.8h0M72.7 296.5h0M59.9 309.9h0M99.4 269.2h0M48.9 319.6h0M54.0 314.3h0M43.3 324.1h0M65.9 303.5h0M70.2 300.7h0M56.1 311.8h0M67.9 300.8h0M39.7 327.7h0M56.7 310.9h0M63.9 305.8h0M90.5 280.2h0M51.4 317.0h0M81.1 289.3h0M40.9 325.9h0M84.1 286.5h0M64.5 305.8h0M71.3 297.4h0M47.4 321.9h0M45.3 322.4h0M79.3 290.7h0M50.0 317.7h0M35.9 333.1h0M41.7 326.9h0M37.0 329.7h0M42.8 326.0h0M72.8 296.6h0M82.8 287.5h0M57.1 312.3h0M73.2 296.9h0M47.8 319.7h0M68.3 302.7h0M70.1 298.1h0M67.1 301.1h0M56.9 310.5h0M55.2 313.8h0M90.2 279.2h0M56.7 311.9h0M37.0 332.3h0M38.2 330.4h0M78.6 292.5h0M56.3 314.0h0M60.8 308.7h0M45.4 323.6h0M43.5 325.1h0M70.4 299.7h0M47.9 321.6h0M56.2 313.2h0M97.8 272.0h0M71.4 298.9h0M68.6 301.5h0M45.7 321.8h0M42.7 324.9h0M94.1 275.8h0M36.5 330.4h0M66.4 304.5h0M68.6 302.0h0M45.4 323.4h0M86.8 282.4h0M58.4 310.6h0M57.9 312.0h0M59.3 311.1h0M44.0 324.8h0M66.8 303.2h0M40.9 328.2h0M63.1 307.3h0M38.0 331.3h0M71.8 297.4h0M52.1 315.8h0M106.1 261.5h0M60.4 308.7h0M57.8 312.4h0M80.9 287.8h0M49.0 318.9h0M52.2 317.6h0M56.0 314.4h0M44.1 324.7h0M95.7 273.8h0M72.9 297.6h0M83.1 287.9h0M91.3 277.1h0M38.2 328.5h0M49.5 319.0h0M87.6 281.2h0M75.1 296.3h0M43.4 325.7h0M103.6 265.7h0M49.1 320.9h0M72.1 298.1h0M46.9 322.9h0M46.7 322.9h0M76.1 294.4h0M78.5 291.9h0M52.0 317.8h0M59.8 309.3h0M41.2 327.9h0M89.7 280.9h0M61.1 309.2h0M76.6 293.2h0M100.2 267.7h0M42.1 327.6h0M63.1 306.9h0M40.1 329.2h0M53.5 314.7h0M85.5 284.4h0M48.9 321.1h0M71.7 299.2h0M46.0 321.1h0M46.9 320.1h0M68.9 301.9h0M77.8 290.7h0M46.3 320.5h0M98.8 270.3h0M65.5 304.2h0M83.9 287.0h0M77.3 292.0h0M79.7 289.0h0M70.4 298.6h0M43.8 324.5h0M61.3 308.8h0M38.5 330.3h0M75.5 294.2h0M44.8 324.6h0M60.2 310.1h0M41.7 325.3h0M69.4 301.2h0M81.5 288.4h0M66.7 301.5h0M68.0 302.2h0M83.1 286.3h0M52.7 316.7h0M65.3 304.9h0M37.9 330.1h0M36.9 330.6h0M78.0 290.8h0M65.9 304.6h0M101.4 268.3h0M77.0 293.1h0M74.6 295.6h0M47.7 321.3h0M64.1 305.2h0M58.0 311.0h0M42.6 325.7h0M50.9 317.3h0M64.5 305.9h0M100.4 267.8h0M42.5 325.0h0M84.9 286.1h0M99.1 268.0h0M79.0 290.2h0M81.2 289.6h0M63.4 305.0h0M52.0 317.6h0M51.2 316.6h0M71.9 298.8h0M44.8 324.8h0M60.9 309.7h0M49.6 320.1h0M61.2 308.8h0M53.3 314.5h0M52.9 315.9h0M39.7 328.6h0M38.0 331.2h0M51.6 318.5h0M98.9 270.1h0M55.4 312.1h0M81.7 289.6h0M42.8 326.1h0M38.5 331.1h0M73.1 297.5h0M53.6 314.4h0M50.3 317.5h0M46.1 323.0h0M47.6 321.3h0M61.5 308.2h0M50.3 318.4h0M45.3 324.2h0M49.3 320.0h0M45.8 322.6h0M54.0 315.8h0M64.8 306.0h0M67.1 302.6h0M74.5 296.4h0M41.2 326.7h0M50.5 318.5h0M76.8 292.6h0M62.1 308.1h0M41.6 327.3h0M52.5 316.6h0M106.8 262.1h0M71.7 296.9h0M52.3 317.2h0M56.6 312.1h0M48.4 321.3h0M91.7 278.9h0M97.2 272.3h0M50.5 318.2h0M95.4 274.5h0M77.6 293.5h0M71.1 298.4h0M39.2 328.0h0M40.8 328.3h0M64.1 305.0h0M38.6 329.3h0M56.8 312.2h0M36.5 331.2h0M39.4 328.5h0M51.4 318.0h0M73.9 297.1h0M56.5 313.1h0M60.2 307.9h0M61.2 307.4h0M86.0 284.5h0M39.6 327.8h0M83.1 287.9h0M48.0 320.5h0M64.0 305.5h0M77.0 292.2h0M101.8 266.8h0M71.4 299.3h0M65.2 304.9h0M59.1 309.7h0M60.5 309.5h0M97.5 272.0h0M38.9 327.9h0M66.4 302.9h0M54.5 315.0h0M44.6 324.8h0M44.6 322.4h0M36.4 332.6h0M69.1 299.8h0M46.7 322.1h0M42.0 325.4h0M59.5 309.0h0M43.7 325.9h0M43.8 325.8h0M54.1 315.8h0M53.2 315.0h0M52.3 317.8h0M49.9 317.9h0M66.8 303.6h0M69.4 301.2h0M76.6 294.4h0M57.4 312.4h0M43.3 324.6h0M39.8 327.6h0M50.6 318.0h0M56.4 312.7h0M78.5 291.9h0M63.0 307.6h0M72.0 296.6h0M51.6 317.2h0M78.3 292.8h0M49.2 318.7h0M41.5 325.2h0M41.9 327.1h0M78.5 292.0h0M62.9 305.7h0M58.7 310.4h0M45.9 322.2h0M43.4 325.9h0M106.2 262.9h0M41.9 327.3h0M39.7 327.2h0M74.6 293.8h0M39.4 327.1h0M42.4 326.7h0M54.9 315.0h0M55.9 313.9h0M36.1 332.9h0M62.6 307.5h0M58.7 310.7h0M37.6 331.8h0M36.9 332.2h0M37.0 329.4h0M67.6 300.5h0M66.0 303.3h0M59.9 310.3h0M65.6 304.4h0M61.2 307.5h0M58.5 311.9h0M70.7 298.6h0M50.9 317.4h0M60.2 307.8h0M72.4 295.9h0M76.1 294.3h0M54.3 313.3h0M79.2 290.7h0M77.8 290.7h0M69.1 301.5h0M62.4 306.1h0"/>
<path stroke="#dc9078" stroke-width="1.1" stroke-linecap="square" fill="none" d="M55.0 311.2h0M75.7 290.0h0M82.7 283.2h0M37.8 324.2h0M38.8 301.1h0M77.3 288.3h0M62.5 299.5h0M46.9 318.7h0M35.8 324.5h0M96.4 267.4h0M97.5 261.8h0M68.6 293.0h0M39.7 300.2h0M36.6 327.7h0M49.2 315.1h0M36.1 329.0h0M41.2 324.9h0M39.4 323.4h0M55.0 311.8h0M40.8 321.7h0M63.2 302.3h0M55.6 308.6h0M42.8 309.3h0M76.4 285.8h0M70.5 295.0h0M53.2 284.1h0M51.3 314.2h0M37.0 317.1h0M36.1 330.1h0M81.9 277.6h0M43.7 322.4h0M57.5 309.4h0M36.0 327.4h0M98.1 267.6h0M42.5 323.9h0M89.8 274.1h0M79.1 288.0h0M37.2 322.4h0M57.0 304.9h0M60.4 307.0h0M49.3 310.1h0M37.6 321.6h0M36.1 328.8h0M56.6 307.0h0M68.4 297.8h0M82.1 284.5h0M64.5 300.2h0M75.7 290.4h0M48.6 312.3h0M39.5 312.2h0M84.5 280.0h0M55.3 309.2h0M38.8 314.8h0M39.6 313.1h0M65.0 301.8h0M84.5 283.2h0M63.8 300.9h0M38.8 325.5h0M59.9 306.4h0M44.9 321.6h0M43.2 310.6h0M68.6 298.5h0M48.3 317.1h0M44.8 319.3h0M49.0 305.2h0M55.6 307.8h0M65.6 298.5h0M60.7 293.4h0M44.0 317.0h0M46.8 315.9h0M89.3 277.2h0M55.5 305.0h0M63.3 302.2h0M79.5 283.1h0M92.7 258.4h0M48.4 312.9h0M49.4 302.2h0M60.1 306.9h0M56.5 296.9h0M41.3 305.2h0M71.9 291.5h0M37.7 328.7h0M50.1 313.3h0M48.2 316.8h0M46.4 319.7h0M67.0 297.2h0M61.5 297.4h0M74.0 285.6h0M45.6 320.5h0M59.7 306.8h0M38.5 324.2h0M83.4 281.7h0M68.3 298.0h0M40.1 326.1h0M50.0 314.3h0M55.4 307.4h0M38.9 326.1h0M51.1 315.5h0M60.7 305.5h0M63.5 297.8h0M42.8 317.8h0M59.3 301.3h0M64.8 295.8h0M59.4 303.9h0M66.1 301.1h0M70.1 293.8h0M52.2 303.4h0M57.4 309.3h0M82.1 269.9h0M43.7 289.1h0M68.5 296.4h0M70.8 295.9h0M78.6 282.6h0M48.9 315.1h0M94.6 258.0h0M46.0 310.7h0M70.0 298.0h0M47.4 315.4h0M46.2 317.3h0M47.0 306.6h0M47.1 319.3h0M42.7 314.5h0M86.4 281.0h0M42.0 324.1h0M49.5 316.3h0M105.8 253.8h0M64.1 303.0h0M65.1 300.0h0M42.6 321.9h0M58.7 297.6h0M37.7 325.3h0M44.0 322.6h0M40.7 293.4h0M71.5 296.0h0M44.6 322.0h0M106.8 258.5h0M52.1 313.4h0M105.3 260.5h0M45.7 320.8h0M42.3 311.7h0M60.5 302.4h0M70.9 296.8h0M44.3 314.1h0M74.2 290.5h0M36.0 307.0h0M63.2 301.9h0M62.0 300.8h0M41.3 322.6h0M74.0 294.0h0M50.6 309.7h0M36.8 322.7h0M96.2 269.1h0M37.8 322.9h0M59.7 302.2h0M50.6 314.9h0M43.2 322.4h0M74.9 291.3h0M54.9 307.4h0M107.0 254.2h0M49.5 317.4h0M42.7 317.7h0M59.7 292.9h0M36.7 303.0h0M41.6 319.6h0M59.5 307.4h0M75.8 291.6h0M62.9 299.4h0M37.7 327.7h0M56.6 283.5h0M83.1 280.5h0M60.1 306.4h0M60.5 301.9h0M48.3 314.4h0M53.6 313.4h0M55.9 310.2h0M37.1 318.7h0M72.0 295.0h0M79.9 287.9h0M76.9 286.7h0M57.4 306.3h0M85.5 276.7h0M79.7 280.6h0M51.0 309.5h0M36.3 329.4h0M43.4 319.0h0M107.0 258.0h0M78.6 287.8h0M42.9 319.2h0M40.1 313.8h0M38.2 319.8h0M41.3 324.8h0M61.6 305.7h0M49.3 317.0h0M39.7 317.0h0M44.9 317.7h0M59.4 307.1h0M85.4 275.0h0M36.5 326.8h0M68.8 298.6h0M36.2 330.1h0M63.5 303.2h0M73.7 291.7h0M40.7 318.1h0M95.9 269.6h0M57.1 308.6h0M41.9 317.9h0M39.0 324.8h0M38.2 322.6h0M37.2 324.7h0M39.3 323.9h0M60.5 302.0h0M56.6 304.0h0M64.7 296.3h0M70.3 291.2h0M76.1 291.0h0M39.0 325.2h0M88.5 279.0h0M46.2 317.8h0M38.0 317.3h0M69.4 296.2h0M36.6 328.8h0M47.9 307.0h0M69.0 298.9h0M54.0 305.4h0M41.9 313.9h0M37.3 311.7h0M87.2 274.8h0M44.1 319.8h0M62.8 304.4h0M45.0 320.3h0M38.8 324.9h0M71.1 296.1h0M66.0 295.6h0M39.0 326.7h0M52.0 313.9h0M86.7 271.6h0M47.4 316.6h0M44.5 321.7h0M42.2 322.1h0M38.0 327.5h0M36.7 328.7h0M60.8 295.9h0M53.0 313.2h0M49.0 317.0h0M41.6 320.5h0M59.6 307.9h0M58.9 306.1h0M69.4 295.5h0M65.1 294.2h0M48.7 311.0h0M59.2 307.6h0M38.0 327.6h0M42.3 312.5h0M49.3 316.7h0M44.4 317.9h0M56.9 308.0h0M59.8 291.9h0M88.6 272.7h0M98.2 259.9h0M38.3 327.5h0M50.8 310.3h0M83.0 280.5h0M51.5 314.0h0M105.7 260.6h0M93.1 272.1h0M35.9 330.0h0M70.6 294.9h0M99.5 267.4h0M45.1 321.1h0M68.5 290.4h0M55.5 311.4h0M86.4 279.8h0M99.4 257.5h0M63.1 300.8h0M45.5 316.9h0M37.4 318.8h0M43.0 322.8h0M37.4 315.1h0M60.2 303.8h0M44.8 317.8h0M54.3 311.6h0M53.6 309.8h0M41.3 322.8h0M54.9 302.1h0M65.0 287.9h0M39.1 326.9h0M95.3 271.8h0M40.6 325.5h0M92.9 274.0h0M53.3 313.0h0M38.4 326.9h0M51.4 312.4h0M43.9 317.0h0M44.3 320.5h0M69.4 296.6h0M65.9 301.1h0M95.6 271.4h0M37.1 324.7h0M38.0 328.3h0M96.3 261.3h0M37.8 328.5h0M94.7 268.3h0M87.5 280.0h0M71.6 295.4h0M63.6 288.7h0M72.4 294.7h0M39.5 312.6h0M61.0 305.1h0M66.1 292.1h0M41.0 325.5h0M86.8 277.9h0M84.6 280.4h0M40.1 315.3h0M36.6 325.1h0M43.1 316.3h0M56.1 310.8h0M78.9 288.1h0M36.4 313.6h0M40.0 325.7h0M62.4 302.6h0M36.6 326.6h0M53.7 291.0h0M54.7 308.7h0M64.3 301.8h0M48.2 315.9h0M85.1 281.6h0M85.6 272.1h0M62.1 300.9h0M38.3 327.2h0M42.4 320.1h0M46.7 319.9h0M53.9 312.9h0M36.9 326.6h0M90.2 274.1h0M63.9 301.2h0M43.6 307.1h0M55.6 310.4h0M46.0 319.6h0M41.9 322.9h0M46.2 313.0h0M36.2 328.5h0M36.4 299.6h0M49.4 317.5h0M40.8 323.7h0M47.5 311.4h0M48.1 305.9h0M87.4 279.5h0M58.0 306.1h0M45.5 319.9h0M37.4 328.3h0M61.5 303.1h0M57.8 296.7h0M39.1 320.6h0M44.5 317.2h0M86.0 277.7h0M63.6 303.6h0M41.5 317.6h0M39.5 319.0h0M55.0 311.2h0M54.9 306.3h0M51.4 306.6h0M72.4 289.2h0M36.2 327.0h0M73.2 294.8h0M47.6 313.8h0M101.0 264.9h0M79.0 288.9h0M38.0 324.0h0M38.5 325.7h0M36.8 324.3h0M53.6 302.0h0M41.5 325.1h0M48.8 316.6h0M99.1 267.1h0M41.8 323.4h0M43.4 319.6h0M38.7 327.4h0M70.7 297.0h0M36.0 328.9h0M44.2 289.3h0M53.5 312.0h0M36.8 324.5h0M59.6 299.5h0M86.5 262.3h0M55.8 306.4h0M42.3 323.3h0M43.6 320.7h0M48.9 314.9h0M41.5 315.1h0M36.7 327.4h0M70.5 294.8h0M57.0 299.9h0M44.1 287.7h0M78.9 280.7h0M36.4 320.8h0M98.7 262.9h0M86.9 280.6h0M88.7 275.8h0M44.6 321.8h0M41.1 321.9h0M39.1 326.7h0M43.9 320.8h0M72.2 282.3h0M83.5 278.5h0M38.3 317.2h0M52.7 312.4h0M68.0 288.8h0M70.4 294.5h0M56.7 303.0h0M44.6 310.3h0M79.1 287.0h0M39.2 326.5h0M43.7 322.5h0M66.2 300.6h0M53.7 310.4h0M55.3 310.3h0M40.6 323.1h0M88.4 267.7h0M46.8 319.9h0M37.2 323.2h0M74.1 293.8h0M42.7 284.7h0M51.6 313.9h0M78.8 289.4h0M66.6 294.7h0M41.5 320.5h0M37.5 327.4h0M65.8 295.0h0M36.8 324.7h0M41.1 320.2h0M37.5 324.0h0M64.8 287.9h0M52.3 308.0h0M81.6 284.4h0M98.5 268.2h0M63.2 304.1h0M47.4 318.8h0M57.7 302.4h0M85.1 282.5h0M44.9 315.2h0M46.9 316.7h0M42.8 313.7h0M41.1 321.4h0M48.6 310.4h0M44.2 321.0h0M42.3 319.9h0M40.3 321.8h0M49.1 317.5h0M88.5 278.4h0M95.4 271.2h0M58.0 304.4h0M53.9 296.2h0M57.2 309.3h0M80.0 287.6h0M40.5 323.3h0M40.8 322.6h0M50.8 316.1h0M49.9 316.2h0M78.7 289.7h0M52.4 307.9h0M47.4 314.3h0M55.8 301.6h0M38.6 304.6h0M51.1 315.2h0M74.9 289.0h0M55.2 307.9h0M45.2 317.7h0M57.2 298.5h0M63.2 304.5h0M48.2 304.1h0M57.4 306.6h0M54.4 312.4h0M57.5 307.7h0M45.2 317.6h0M92.7 274.8h0M75.6 291.5h0M45.6 316.6h0M79.8 288.1h0M45.9 319.0h0M72.2 295.9h0M98.1 266.6h0M36.8 316.5h0M47.3 317.8h0M96.2 266.3h0M35.9 330.0h0M67.3 300.0h0M62.6 303.3h0M36.3 329.6h0M60.8 299.5h0M54.0 310.6h0M85.2 282.6h0M64.9 292.1h0M58.0 302.9h0M46.0 320.1h0M49.3 304.5h0M39.3 326.2h0M61.6 303.9h0M49.9 309.7h0M57.6 304.9h0M50.9 313.9h0M102.9 253.9h0M36.9 314.0h0M39.9 318.4h0M41.1 320.9h0M48.1 315.9h0M65.0 297.2h0M44.5 317.3h0M50.7 313.9h0M44.7 319.4h0M47.7 315.2h0M37.3 328.3h0M86.8 280.0h0M46.5 319.0h0M64.4 298.6h0M36.4 328.5h0M39.0 324.3h0M85.9 281.4h0M45.5 319.8h0M36.6 324.4h0M38.8 327.1h0M61.7 301.1h0M46.5 316.4h0M36.1 327.7h0M60.5 298.0h0M50.4 315.1h0M43.3 318.5h0M44.0 315.1h0M86.8 280.1h0M61.6 301.3h0M39.3 326.8h0M58.3 308.7h0M72.4 289.1h0M44.9 321.4h0M79.3 283.6h0M85.7 281.6h0M92.3 247.7h0M102.1 263.3h0M38.8 313.3h0M47.5 311.4h0M45.4 311.8h0M40.0 324.7h0M84.6 281.8h0M61.7 303.4h0M66.8 297.7h0M76.8 289.9h0M77.5 288.6h0M43.2 321.0h0M69.5 290.9h0M48.1 313.8h0M38.6 317.5h0M90.5 276.2h0M55.7 310.8h0M65.6 294.5h0M43.5 318.8h0M79.1 287.2h0M90.7 274.4h0M49.1 314.8h0M42.2 308.0h0M102.9 260.5h0M62.8 304.6h0M51.5 314.3h0M47.9 312.2h0M47.8 318.2h0M75.1 291.5h0M60.0 307.2h0M86.6 280.4h0M48.7 317.9h0M64.3 301.1h0M75.3 292.2h0M36.8 325.9h0M67.7 288.2h0M47.9 309.0h0M58.2 308.8h0M69.4 293.6h0M44.9 319.3h0M44.0 321.8h0M40.2 317.4h0M50.7 312.9h0M48.1 316.6h0M92.1 268.2h0M39.3 326.7h0M59.3 307.4h0M36.4 313.9h0M36.7 329.2h0M56.1 305.4h0M58.0 299.2h0M42.8 299.0h0M70.3 296.9h0M42.1 322.2h0M59.3 302.6h0M67.9 298.3h0M107.0 259.2h0M36.1 322.9h0M59.7 303.7h0M103.3 261.7h0M85.3 277.9h0M51.3 311.3h0M41.8 318.3h0M65.0 291.3h0M56.0 309.5h0M38.1 322.5h0M46.1 319.1h0M47.9 316.2h0M97.3 264.5h0M37.4 327.0h0M39.9 303.9h0M46.5 304.3h0M100.4 261.3h0M90.5 272.4h0M63.1 298.0h0M53.9 311.9h0M39.0 321.2h0M66.6 298.9h0M43.2 323.0h0M65.6 300.9h0M74.6 292.4h0M38.1 320.1h0M66.8 296.5h0M43.9 313.3h0M39.4 325.8h0M66.8 295.6h0M41.4 323.8h0M50.5 315.4h0M67.3 297.9h0M58.0 309.0h0M62.6 300.7h0M46.7 319.2h0M36.2 312.8h0M45.3 319.0h0M48.6 310.5h0M70.2 296.0h0M67.6 294.5h0M44.1 317.5h0M41.2 318.1h0M56.0 309.5h0M72.3 294.5h0M75.7 274.0h0M42.8 316.7h0M53.5 310.3h0M38.5 319.3h0M72.3 295.2h0M80.1 276.4h0M43.1 323.2h0M83.5 274.0h0M70.8 293.8h0M64.7 301.2h0M80.1 284.2h0"/>
<path stroke="#9a8880" stroke-width="1.0" stroke-linecap="square" fill="none" d="M64.7 305.6h0M55.0 311.2h0M75.7 290.0h0M41.5 327.8h0M97.7 270.4h0M46.8 321.1h0M51.7 315.9h0M41.4 327.7h0M42.6 326.0h0M43.4 324.8h0M46.0 322.5h0M100.6 266.9h0M43.2 323.6h0M101.9 267.8h0M82.7 283.2h0M37.8 324.2h0M38.8 301.1h0M74.6 294.9h0M55.0 313.2h0M66.4 303.9h0M42.2 326.3h0M40.8 328.3h0M77.3 288.3h0M68.5 300.4h0M79.0 290.1h0M62.5 299.5h0M39.8 328.6h0M43.6 324.0h0M46.9 318.7h0M48.2 320.1h0M35.8 324.5h0M40.1 327.9h0M55.1 313.5h0M39.0 327.6h0M64.3 304.3h0M71.4 298.8h0M96.4 267.4h0M48.0 320.5h0M52.5 316.3h0M98.2 271.8h0M38.4 330.8h0M97.5 261.8h0M65.9 302.7h0M39.7 329.4h0M68.6 293.0h0M39.7 300.2h0M75.3 293.5h0M36.2 332.3h0M36.6 327.7h0M49.2 315.1h0M104.2 265.0h0M46.9 322.6h0M36.1 329.0h0M77.7 293.1h0M94.0 276.4h0M92.2 278.1h0M41.2 324.9h0M39.4 323.4h0M83.5 287.5h0M55.0 311.8h0M40.8 321.7h0M65.3 305.4h0M40.5 327.8h0M63.2 302.3h0M56.8 311.3h0M60.8 307.8h0M55.6 308.6h0M59.7 308.8h0M42.8 309.3h0M76.4 285.8h0M70.5 295.0h0M66.0 304.1h0M53.2 284.1h0M51.3 314.2h0M38.7 330.4h0M37.0 317.1h0M46.2 323.4h0M36.1 330.1h0M81.9 277.6h0M43.7 322.4h0M57.5 309.4h0M36.0 327.4h0M49.6 318.2h0M38.4 330.7h0M98.1 267.6h0M77.3 291.4h0M42.5 323.9h0M47.2 321.7h0M42.8 326.4h0M89.8 274.1h0M79.1 288.0h0M37.2 322.4h0M50.2 317.4h0M55.5 313.6h0M57.0 304.9h0M60.4 307.0h0M59.9 310.4h0M49.3 310.1h0M37.6 321.6h0M56.7 313.5h0M36.1 328.8h0M56.6 307.0h0M68.4 297.8h0M70.4 299.9h0M63.5 306.2h0M48.5 320.1h0M49.5 319.8h0M82.1 284.5h0M63.1 307.6h0M64.5 300.2h0M75.7 290.4h0M55.9 312.4h0M48.6 312.3h0M48.5 320.0h0M86.6 284.0h0M73.8 295.9h0M51.0 318.8h0M39.5 312.2h0M94.0 275.1h0M56.5 311.4h0M84.5 280.0h0M55.3 309.2h0M38.8 314.8h0M48.8 320.7h0M39.6 313.1h0M56.5 312.7h0M65.0 301.8h0M84.5 283.2h0M60.6 309.7h0M63.8 300.9h0M73.5 296.2h0M52.8 316.9h0M38.8 325.5h0M59.9 306.4h0M89.6 279.6h0M89.1 281.5h0M83.9 286.6h0M78.6 292.8h0M44.9 321.6h0M53.1 316.4h0M38.4 328.7h0M43.2 310.6h0M68.6 298.5h0M48.3 317.1h0M36.7 332.1h0M39.3 329.9h0M44.8 319.3h0M38.7 330.5h0M42.5 325.6h0M49.0 305.2h0M52.8 314.9h0M84.4 283.8h0M68.1 301.1h0M45.2 323.2h0M37.0 329.5h0M55.6 307.8h0M95.0 274.9h0M65.6 298.5h0M89.0 280.8h0M38.0 331.0h0M60.7 293.4h0M94.4 274.8h0M50.6 318.1h0M53.9 316.1h0M102.8 266.1h0M95.1 275.3h0M65.4 303.4h0M44.0 317.0h0M46.8 315.9h0M89.3 277.2h0M67.5 302.2h0M55.5 305.0h0M73.6 297.7h0M63.3 302.2h0M55.9 312.1h0M47.8 319.3h0M93.7 274.0h0M102.8 265.0h0M45.2 324.4h0M79.5 283.1h0M81.5 287.2h0M45.2 324.1h0M41.3 328.4h0M92.7 258.4h0M48.4 312.9h0M35.9 332.7h0M45.1 322.2h0M81.2 290.0h0M44.1 323.9h0M49.4 302.2h0M39.7 329.4h0M60.1 306.9h0M56.5 296.9h0M41.3 305.2h0M37.4 331.5h0M71.9 291.5h0M49.4 318.8h0M37.7 328.7h0M98.1 270.7h0M59.4 309.3h0M59.9 308.6h0M50.1 313.3h0M64.1 305.9h0M68.1 301.9h0M38.4 330.4h0M78.9 292.6h0M55.4 314.3h0M53.8 316.0h0M48.2 316.8h0M43.8 325.8h0M46.4 319.7h0M67.0 297.2h0M80.7 289.0h0M61.5 297.4h0M38.0 329.9h0M74.0 285.6h0M63.2 307.5h0M39.9 327.8h0M40.1 329.3h0M45.6 320.5h0M40.6 328.9h0M68.2 300.7h0M45.3 322.3h0M68.1 300.9h0M59.7 306.8h0M72.9 297.0h0M38.5 324.2h0M56.4 312.1h0M83.4 281.7h0M70.9 297.3h0M68.3 298.0h0M40.1 326.1h0M50.0 314.3h0M39.9 328.5h0M55.4 307.4h0M76.2 292.7h0M76.0 295.4h0M36.2 332.0h0M53.4 314.4h0M42.0 327.2h0M38.9 326.1h0M68.1 302.1h0M61.5 308.8h0M37.3 330.4h0M67.3 301.4h0M51.1 315.5h0M54.1 315.4h0M60.7 305.5h0M63.5 297.8h0M42.8 317.8h0M64.7 303.2h0M79.6 291.5h0M59.3 301.3h0M64.8 295.8h0M59.4 303.9h0M66.1 301.1h0M70.1 293.8h0M46.7 321.3h0M39.8 329.0h0M52.2 303.4h0M57.4 309.3h0M79.6 289.5h0M56.8 312.2h0M48.6 319.1h0M42.5 327.1h0M60.5 309.0h0M44.4 323.9h0M44.2 324.7h0M82.1 269.9h0M43.7 289.1h0M68.5 296.4h0M75.2 294.8h0M65.4 303.5h0M54.5 315.1h0M60.5 309.0h0M70.8 295.9h0M78.6 282.6h0M36.9 332.0h0M58.7 311.2h0M48.9 315.1h0M94.6 258.0h0M46.0 310.7h0M83.1 287.9h0M85.7 285.4h0M70.0 298.0h0M47.4 315.4h0M64.7 303.6h0M46.2 317.3h0M43.7 323.1h0M47.0 306.6h0M67.3 303.6h0M38.1 330.1h0M46.1 323.3h0M36.7 329.8h0M47.1 319.3h0M64.0 304.5h0M42.7 314.5h0M86.4 281.0h0M45.5 322.7h0M42.0 324.1h0M41.2 327.2h0M49.5 316.3h0M38.5 329.8h0M105.8 253.8h0M64.1 303.0h0M80.9 289.2h0M65.1 300.0h0M84.7 283.4h0M39.1 328.0h0M67.9 300.5h0M79.8 290.1h0M42.6 321.9h0M43.9 324.0h0M58.7 297.6h0M56.9 311.9h0M37.7 325.3h0M44.0 322.6h0M57.7 311.2h0M40.7 293.4h0M71.5 296.0h0M44.6 322.0h0M64.6 305.4h0M106.8 258.5h0M52.1 313.4h0M48.4 319.7h0M105.3 260.5h0M63.7 306.9h0M65.5 303.9h0M45.7 320.8h0M42.3 311.7h0M60.5 302.4h0M70.9 296.8h0M78.6 292.8h0M74.5 295.3h0M44.3 314.1h0M74.2 290.5h0M36.0 307.0h0M36.8 332.1h0M63.2 301.9h0M93.2 275.0h0M62.0 300.8h0M40.1 327.2h0M104.8 264.0h0M41.3 322.6h0M43.8 325.2h0M79.7 291.0h0M74.0 294.0h0M45.8 322.6h0M63.3 307.0h0M72.5 298.4h0M50.6 309.7h0M37.4 330.5h0M40.0 327.8h0M38.8 330.3h0M36.8 322.7h0M71.8 297.7h0M80.4 290.8h0M98.5 271.5h0M50.4 318.9h0M96.2 269.1h0M49.7 319.3h0M50.2 318.6h0M37.8 322.9h0M46.2 320.8h0M59.6 309.3h0M59.7 302.2h0M47.4 321.2h0M50.6 314.9h0M36.2 332.0h0M43.2 322.4h0M37.0 332.4h0M74.9 291.3h0M39.9 326.9h0M59.0 310.3h0M50.8 318.5h0M54.9 307.4h0M107.0 254.2h0M44.1 323.1h0M51.0 317.9h0M49.5 317.4h0M79.0 290.9h0M42.7 317.7h0M84.2 286.2h0M40.3 328.8h0M40.4 327.5h0M40.3 329.1h0M55.8 314.6h0M59.7 292.9h0M36.7 303.0h0M41.6 319.6h0M69.2 299.0h0M54.6 313.7h0M54.1 315.1h0M71.2 298.8h0M59.5 307.4h0M75.8 291.6h0M62.9 299.4h0M37.7 327.7h0M56.6 283.5h0M95.0 274.8h0M83.1 280.5h0M38.0 329.5h0M44.9 324.7h0M60.1 306.4h0M52.7 315.8h0M60.5 301.9h0M42.3 325.8h0M48.3 314.4h0M53.6 313.4h0M55.9 310.2h0M75.5 293.6h0M37.1 318.7h0M72.0 295.0h0M84.1 286.9h0M79.9 287.9h0M65.3 305.3h0M35.9 331.9h0M72.2 298.4h0M76.9 286.7h0M82.8 287.3h0M40.5 328.5h0M57.4 306.3h0M39.7 329.3h0M57.6 312.0h0M85.5 276.7h0M79.7 280.6h0M65.1 304.9h0M51.0 309.5h0M36.3 329.4h0M43.4 319.0h0M107.0 258.0h0M73.3 296.3h0M100.1 267.4h0M78.6 287.8h0M42.9 319.2h0M40.1 313.8h0M37.6 331.1h0M38.2 319.8h0M69.6 301.3h0M103.4 266.2h0M51.8 317.9h0M41.3 324.8h0M61.6 305.7h0M49.3 317.0h0M57.2 313.1h0M82.0 289.3h0M45.9 323.8h0M42.1 326.6h0M39.7 317.0h0M44.5 322.4h0"/>
<path stroke="#e2edea" stroke-width="2.2" stroke-linecap="square" fill="none" d="M58.7 329.8h0M93.3 292.1h0M66.9 335.2h0M62.8 323.6h0M87.4 297.0h0M60.2 334.0h0M58.7 329.2h0M54.6 333.2h0M55.2 331.1h0M84.3 304.9h0M61.8 326.4h0M52.1 337.5h0M62.0 334.3h0M76.5 313.2h0M72.3 316.9h0M61.9 323.9h0M53.8 332.2h0M48.7 339.9h0M59.3 329.7h0M55.9 340.1h0M67.6 321.9h0M51.0 338.3h0M55.7 336.4h0M46.4 341.0h0M72.6 315.7h0M60.0 330.2h0M49.7 336.9h0M87.7 296.5h0M72.4 312.8h0M48.8 339.8h0M75.6 309.3h0M94.5 296.0h0M81.8 302.7h0M59.6 328.9h0M53.0 337.4h0M69.8 315.9h0M67.3 321.4h0M62.2 327.9h0M61.5 339.0h0M52.2 337.7h0M57.4 332.3h0M94.5 290.7h0M55.0 334.2h0M51.3 335.2h0M71.4 314.0h0M76.1 309.9h0M63.5 325.6h0M46.9 339.4h0M57.8 329.1h0M46.5 340.3h0M58.4 332.8h0M53.4 335.1h0M60.6 330.4h0M59.6 327.1h0M88.5 303.9h0M48.9 337.6h0M65.8 321.5h0M51.7 335.0h0M68.3 324.0h0M70.6 316.3h0M51.8 336.3h0M55.0 335.2h0M78.5 310.7h0M72.7 312.4h0M80.3 304.7h0M77.3 307.6h0M47.4 339.6h0M60.1 326.0h0M71.8 314.6h0M51.4 338.3h0M80.4 310.2h0M71.8 318.2h0M85.7 305.6h0M49.4 338.0h0M51.3 336.4h0M76.8 310.4h0M77.4 309.2h0M71.2 314.1h0M68.7 325.6h0M71.6 329.6h0M56.5 330.3h0M69.2 319.9h0M70.1 316.9h0M52.2 334.5h0M87.0 298.5h0M78.9 310.5h0M57.6 329.0h0M57.1 337.3h0M81.2 313.5h0M53.9 335.8h0M51.7 335.7h0M62.0 326.3h0M69.0 320.3h0M67.6 319.5h0M58.1 327.9h0M47.2 339.1h0M53.4 334.5h0M73.0 315.8h0M47.4 338.8h0M81.2 311.1h0M58.4 332.1h0M56.6 331.1h0M68.0 324.3h0M57.7 330.8h0M51.7 335.3h0M58.3 331.1h0M59.2 329.3h0M61.7 325.6h0M53.4 335.2h0M56.1 330.5h0M97.0 292.5h0M83.3 302.1h0M51.9 335.0h0M53.2 333.1h0M53.9 333.9h0M59.3 331.0h0M68.1 319.5h0M91.0 294.4h0M56.9 328.9h0M59.7 328.7h0M57.3 330.5h0M73.3 315.8h0M47.2 340.9h0M61.0 327.4h0M73.4 312.3h0M57.2 333.1h0M53.6 338.2h0M54.5 333.3h0M52.7 336.1h0M79.0 306.5h0M68.3 318.5h0M57.3 330.5h0M66.6 318.9h0M53.8 337.5h0M58.6 330.0h0M48.1 338.8h0M60.8 326.3h0M67.8 317.5h0M64.8 324.7h0M49.1 339.1h0M63.0 328.5h0M51.7 339.6h0M83.6 302.8h0M65.7 320.6h0M83.0 303.9h0M51.4 335.0h0M92.8 300.7h0M55.6 337.9h0M63.3 323.7h0M55.1 332.1h0M62.1 333.9h0M95.0 292.2h0M64.5 324.4h0M70.9 316.9h0M53.6 333.0h0M66.8 324.2h0M47.8 340.9h0M64.5 321.0h0M53.4 334.4h0M88.1 298.0h0M47.8 338.6h0M72.0 318.4h0M53.8 339.3h0M89.3 300.4h0M85.2 302.0h0M60.9 332.2h0M83.0 306.8h0M57.6 338.9h0M78.8 309.3h0M56.1 331.2h0M63.8 324.5h0M69.6 338.7h0M70.3 317.4h0M67.9 321.4h0M51.6 338.6h0M71.4 315.2h0M89.3 300.2h0M82.0 306.9h0M61.6 328.7h0M54.0 333.3h0M80.8 306.2h0M82.0 304.4h0M62.2 329.3h0M54.3 332.6h0M51.2 336.1h0M54.1 337.6h0M61.6 325.7h0M72.4 317.0h0M52.9 335.2h0M66.4 325.7h0M70.2 322.4h0M66.2 321.3h0M50.9 341.1h0M57.7 329.7h0M47.2 341.3h0M69.3 318.8h0M51.8 337.0h0M95.0 300.8h0M84.3 309.0h0M85.8 298.4h0M57.9 328.0h0M54.8 331.8h0M51.0 337.1h0M55.9 331.0h0M51.2 337.5h0M83.0 305.1h0M49.8 338.0h0M53.5 332.5h0M52.4 340.3h0M67.1 321.4h0M56.0 335.8h0M72.7 319.0h0M95.9 286.2h0M59.5 330.5h0M53.0 336.3h0M56.4 333.6h0M71.9 321.2h0M56.1 332.2h0M84.9 303.5h0M61.8 326.4h0M79.4 305.8h0M63.3 327.7h0M83.3 306.2h0M48.3 340.2h0M62.9 323.5h0M50.4 339.5h0M81.2 306.0h0M50.9 337.7h0M68.0 333.3h0M73.6 324.5h0M74.3 316.5h0M87.6 297.6h0M65.0 323.9h0M72.3 317.4h0M64.2 323.1h0M87.1 301.0h0M48.2 340.7h0M81.2 305.0h0M65.4 324.3h0M80.4 313.3h0M94.0 291.1h0M55.8 331.1h0M76.5 308.5h0M72.8 314.3h0M76.8 310.1h0M60.8 324.8h0M83.2 301.8h0M54.1 333.6h0M48.2 339.3h0M54.8 333.5h0M72.0 314.0h0M73.8 318.3h0M76.5 312.6h0M58.1 328.5h0M57.3 330.6h0M48.4 337.8h0M74.9 317.7h0M50.1 339.0h0M51.4 335.6h0M61.6 324.9h0M76.8 310.4h0M64.3 335.1h0M66.4 321.7h0M83.3 302.3h0M83.1 300.9h0M54.3 335.8h0M57.0 330.7h0M61.2 329.6h0M49.3 338.1h0M69.6 316.4h0M90.0 296.9h0M91.4 294.5h0M83.1 304.0h0M53.8 333.7h0M56.6 336.4h0M48.7 339.5h0M56.8 329.2h0M83.6 310.0h0M67.5 326.9h0M69.1 316.8h0M46.2 340.3h0M94.3 291.8h0M56.5 330.5h0M79.7 305.0h0M64.6 326.9h0M81.0 311.2h0M51.9 334.5h0M51.0 335.2h0M51.8 339.1h0M64.6 320.9h0M92.5 296.4h0M82.6 312.8h0M77.0 315.1h0M49.2 341.1h0M56.1 334.6h0M53.3 340.2h0M53.7 336.7h0M58.5 329.3h0M61.6 333.0h0M54.4 335.4h0M64.7 322.9h0M54.6 333.3h0M53.5 341.3h0M53.1 334.1h0M80.9 303.7h0M71.1 314.6h0M64.3 329.2h0M76.0 312.2h0M46.8 340.2h0M55.4 332.0h0M66.2 330.5h0M71.7 314.2h0M56.5 337.8h0M68.0 317.8h0M52.4 335.7h0M46.0 340.8h0M91.2 291.7h0M58.2 341.0h0M71.8 317.3h0M52.1 340.6h0M67.3 321.2h0M80.3 305.6h0M54.0 334.9h0M57.9 327.8h0M84.9 302.7h0M66.8 323.6h0M70.6 317.7h0M77.1 312.0h0M66.4 320.2h0M63.3 328.7h0M81.8 303.4h0M49.1 339.1h0M74.9 312.0h0M48.0 339.0h0M52.3 334.9h0M76.1 323.3h0M55.0 334.4h0M73.9 312.5h0M65.5 324.7h0M87.0 296.9h0M76.0 320.6h0M51.2 336.1h0M49.2 337.0h0M69.9 315.2h0M65.6 319.7h0M70.0 318.4h0M73.9 312.2h0M71.3 318.4h0M64.7 327.4h0M56.6 334.2h0M47.8 339.3h0M85.2 300.0h0M52.3 337.1h0M53.7 334.5h0M80.9 309.3h0M92.2 291.4h0M59.5 333.1h0M47.9 339.8h0M66.9 334.4h0M58.4 329.2h0M80.3 306.3h0M48.6 338.6h0M58.5 332.2h0M72.7 312.6h0M75.2 312.1h0M50.0 336.8h0M68.1 318.2h0M70.3 315.1h0M62.3 325.4h0M47.8 339.7h0M76.3 313.8h0M94.4 289.8h0M63.5 325.2h0M65.2 322.8h0M78.4 311.4h0M72.3 317.0h0M72.7 317.1h0M56.3 332.7h0M96.6 287.3h0M84.4 300.0h0M82.6 309.2h0M69.6 320.7h0M81.2 303.9h0M58.1 330.3h0M49.4 338.7h0M49.8 337.1h0M55.2 333.0h0M56.2 334.2h0M58.2 330.7h0M70.9 321.1h0M91.2 292.7h0M50.0 341.0h0M59.0 335.7h0M82.8 309.7h0M77.1 316.2h0M93.4 292.7h0M70.3 318.4h0M63.1 322.8h0M46.6 341.3h0M61.1 324.9h0M61.4 325.0h0M62.4 331.5h0M56.2 331.8h0M54.6 331.3h0M68.2 318.6h0M69.4 320.0h0M58.1 329.1h0M70.7 318.8h0M54.8 333.5h0M53.0 336.5h0M61.8 324.7h0M48.5 338.1h0M94.1 291.8h0M97.2 288.9h0M52.8 338.7h0M58.4 327.6h0M96.7 285.6h0M49.0 339.5h0M81.3 315.9h0M65.0 322.7h0M46.4 341.1h0M53.7 339.4h0M45.8 340.5h0M53.8 332.3h0M47.5 338.9h0M77.1 308.9h0M75.6 309.3h0M46.2 340.3h0M73.8 311.7h0M50.7 340.4h0M50.8 336.9h0M64.8 321.0h0M53.7 332.4h0M74.2 312.1h0M47.7 340.7h0M53.5 332.8h0M53.4 334.9h0M72.2 315.8h0M51.7 338.8h0M52.9 339.8h0M96.1 290.9h0M61.3 340.0h0M86.4 300.8h0M49.2 338.2h0M70.3 315.1h0M64.7 321.6h0M70.8 317.0h0M49.7 338.8h0M86.1 303.4h0M66.4 320.0h0M69.0 317.3h0M88.5 300.0h0M51.7 336.6h0M51.9 337.0h0M54.8 333.5h0M47.7 340.7h0"/>
<path stroke="#9fbfbb" stroke-width="1.1" stroke-linecap="square" fill="none" d="M58.7 329.8h0M93.3 292.1h0M62.8 323.6h0M87.4 297.0h0M58.7 329.2h0M54.6 333.2h0M55.2 331.1h0M61.8 326.4h0M52.1 337.5h0M61.9 323.9h0M53.8 332.2h0M48.7 339.9h0M59.3 329.7h0M51.0 338.3h0M46.4 341.0h0M72.6 315.7h0M49.7 336.9h0M87.7 296.5h0M72.4 312.8h0M48.8 339.8h0M75.6 309.3h0M81.8 302.7h0M59.6 328.9h0M69.8 315.9h0M67.3 321.4h0M94.5 290.7h0M55.0 334.2h0M51.3 335.2h0M71.4 314.0h0M76.1 309.9h0M63.5 325.6h0M46.9 339.4h0M57.8 329.1h0M46.5 340.3h0M53.4 335.1h0M59.6 327.1h0M48.9 337.6h0M65.8 321.5h0M51.7 335.0h0M70.6 316.3h0M51.8 336.3h0M72.7 312.4h0M80.3 304.7h0M77.3 307.6h0M47.4 339.6h0M60.1 326.0h0M71.8 314.6h0M51.4 338.3h0M49.4 338.0h0M51.3 336.4h0M76.8 310.4h0M77.4 309.2h0M71.2 314.1h0M56.5 330.3h0M70.1 316.9h0M52.2 334.5h0M87.0 298.5h0M57.6 329.0h0M51.7 335.7h0M62.0 326.3h0M67.6 319.5h0M58.1 327.9h0M47.2 339.1h0M53.4 334.5h0M47.4 338.8h0M56.6 331.1h0M57.7 330.8h0M51.7 335.3h0M58.3 331.1h0M59.2 329.3h0M61.7 325.6h0M53.4 335.2h0M56.1 330.5h0M83.3 302.1h0M51.9 335.0h0M53.2 333.1h0M53.9 333.9h0M68.1 319.5h0M91.0 294.4h0M56.9 328.9h0M59.7 328.7h0M57.3 330.5h0M47.2 340.9h0M61.0 327.4h0M73.4 312.3h0M54.5 333.3h0M52.7 336.1h0M79.0 306.5h0M68.3 318.5h0M57.3 330.5h0M66.6 318.9h0M58.6 330.0h0M48.1 338.8h0M60.8 326.3h0M67.8 317.5h0M49.1 339.1h0M83.6 302.8h0M65.7 320.6h0M83.0 303.9h0M51.4 335.0h0M63.3 323.7h0M55.1 332.1h0M64.5 324.4h0M70.9 316.9h0M53.6 333.0h0M47.8 340.9h0M64.5 321.0h0M53.4 334.4h0M88.1 298.0h0M47.8 338.6h0M85.2 302.0h0M78.8 309.3h0M56.1 331.2h0M63.8 324.5h0M70.3 317.4h0M71.4 315.2h0M54.0 333.3h0M80.8 306.2h0M82.0 304.4h0M54.3 332.6h0M51.2 336.1h0M61.6 325.7h0M52.9 335.2h0M66.2 321.3h0M57.7 329.7h0M47.2 341.3h0M69.3 318.8h0M51.8 337.0h0M85.8 298.4h0M57.9 328.0h0M54.8 331.8h0M51.0 337.1h0M55.9 331.0h0M51.2 337.5h0M49.8 338.0h0M53.5 332.5h0M67.1 321.4h0M95.9 286.2h0M53.0 336.3h0M56.1 332.2h0M61.8 326.4h0M79.4 305.8h0M48.3 340.2h0M62.9 323.5h0M81.2 306.0h0M50.9 337.7h0M87.6 297.6h0M65.0 323.9h0M64.2 323.1h0M48.2 340.7h0M81.2 305.0h0M94.0 291.1h0M55.8 331.1h0M76.5 308.5h0M72.8 314.3h0M76.8 310.1h0M60.8 324.8h0M83.2 301.8h0M54.1 333.6h0M48.2 339.3h0M54.8 333.5h0M72.0 314.0h0M58.1 328.5h0M57.3 330.6h0M48.4 337.8h0M50.1 339.0h0M51.4 335.6h0M61.6 324.9h0M76.8 310.4h0M66.4 321.7h0M83.3 302.3h0M83.1 300.9h0M57.0 330.7h0M49.3 338.1h0M69.6 316.4h0M91.4 294.5h0M83.1 304.0h0M53.8 333.7h0M48.7 339.5h0M56.8 329.2h0M69.1 316.8h0M46.2 340.3h0M56.5 330.5h0M79.7 305.0h0M51.9 334.5h0M51.0 335.2h0M64.6 320.9h0M58.5 329.3h0M64.7 322.9h0M54.6 333.3h0M53.1 334.1h0M80.9 303.7h0M71.1 314.6h0M76.0 312.2h0M46.8 340.2h0M55.4 332.0h0M71.7 314.2h0M68.0 317.8h0M52.4 335.7h0M46.0 340.8h0M91.2 291.7h0M67.3 321.2h0M80.3 305.6h0M54.0 334.9h0M57.9 327.8h0M70.6 317.7h0M66.4 320.2h0M81.8 303.4h0M49.1 339.1h0M74.9 312.0h0M48.0 339.0h0M52.3 334.9h0M55.0 334.4h0M73.9 312.5h0M87.0 296.9h0M51.2 336.1h0M49.2 337.0h0M69.9 315.2h0M65.6 319.7h0M70.0 318.4h0M73.9 312.2h0M47.8 339.3h0M85.2 300.0h0M52.3 337.1h0M53.7 334.5h0M92.2 291.4h0M47.9 339.8h0M58.4 329.2h0M80.3 306.3h0M48.6 338.6h0M72.7 312.6h0M75.2 312.1h0M50.0 336.8h0M68.1 318.2h0M70.3 315.1h0M62.3 325.4h0M47.8 339.7h0M94.4 289.8h0M63.5 325.2h0M65.2 322.8h0M56.3 332.7h0M96.6 287.3h0M84.4 300.0h0M81.2 303.9h0M58.1 330.3h0M49.4 338.7h0M49.8 337.1h0M55.2 333.0h0M58.2 330.7h0M91.2 292.7h0M70.3 318.4h0M63.1 322.8h0M46.6 341.3h0M61.1 324.9h0M61.4 325.0h0M56.2 331.8h0M54.6 331.3h0M68.2 318.6h0M58.1 329.1h0M54.8 333.5h0M53.0 336.5h0M61.8 324.7h0M48.5 338.1h0M58.4 327.6h0M96.7 285.6h0M49.0 339.5h0M65.0 322.7h0M46.4 341.1h0M45.8 340.5h0M53.8 332.3h0M47.5 338.9h0M77.1 308.9h0M75.6 309.3h0M46.2 340.3h0M73.8 311.7h0M50.8 336.9h0M64.8 321.0h0M53.7 332.4h0M74.2 312.1h0M47.7 340.7h0M53.5 332.8h0M53.4 334.9h0M72.2 315.8h0M49.2 338.2h0M70.3 315.1h0M64.7 321.6h0M70.8 317.0h0M49.7 338.8h0M66.4 320.0h0M69.0 317.3h0M51.7 336.6h0M51.9 337.0h0M54.8 333.5h0M47.7 340.7h0"/>
<path stroke="#9db2b1" stroke-width="1.1" stroke-linecap="square" fill="none" d="M66.9 335.2h0M60.2 334.0h0M84.3 304.9h0M62.0 334.3h0M76.5 313.2h0M72.3 316.9h0M55.9 340.1h0M67.6 321.9h0M55.7 336.4h0M60.0 330.2h0M94.5 296.0h0M53.0 337.4h0M62.2 327.9h0M61.5 339.0h0M52.2 337.7h0M57.4 332.3h0M58.4 332.8h0M60.6 330.4h0M88.5 303.9h0M68.3 324.0h0M55.0 335.2h0M78.5 310.7h0M80.4 310.2h0M71.8 318.2h0M85.7 305.6h0M68.7 325.6h0M71.6 329.6h0M69.2 319.9h0M78.9 310.5h0M57.1 337.3h0M81.2 313.5h0M53.9 335.8h0M69.0 320.3h0M73.0 315.8h0M81.2 311.1h0M58.4 332.1h0M68.0 324.3h0M97.0 292.5h0M59.3 331.0h0M73.3 315.8h0M57.2 333.1h0M53.6 338.2h0M53.8 337.5h0M64.8 324.7h0M63.0 328.5h0M51.7 339.6h0M92.8 300.7h0M55.6 337.9h0M62.1 333.9h0M95.0 292.2h0M66.8 324.2h0M72.0 318.4h0M53.8 339.3h0M89.3 300.4h0M60.9 332.2h0M83.0 306.8h0M57.6 338.9h0M69.6 338.7h0M67.9 321.4h0M51.6 338.6h0M89.3 300.2h0M82.0 306.9h0M61.6 328.7h0M62.2 329.3h0M54.1 337.6h0M72.4 317.0h0M66.4 325.7h0M70.2 322.4h0M50.9 341.1h0M95.0 300.8h0M84.3 309.0h0M83.0 305.1h0M52.4 340.3h0M56.0 335.8h0M72.7 319.0h0M59.5 330.5h0M56.4 333.6h0M71.9 321.2h0M84.9 303.5h0M63.3 327.7h0M83.3 306.2h0M50.4 339.5h0M68.0 333.3h0M73.6 324.5h0M74.3 316.5h0M72.3 317.4h0M87.1 301.0h0M65.4 324.3h0M80.4 313.3h0M73.8 318.3h0M76.5 312.6h0M74.9 317.7h0M64.3 335.1h0M54.3 335.8h0M61.2 329.6h0M90.0 296.9h0M56.6 336.4h0M83.6 310.0h0M67.5 326.9h0M94.3 291.8h0M64.6 326.9h0M81.0 311.2h0M51.8 339.1h0M92.5 296.4h0M82.6 312.8h0M77.0 315.1h0M49.2 341.1h0M56.1 334.6h0M53.3 340.2h0M53.7 336.7h0M61.6 333.0h0M54.4 335.4h0M53.5 341.3h0M64.3 329.2h0M66.2 330.5h0M56.5 337.8h0M58.2 341.0h0M71.8 317.3h0M52.1 340.6h0M84.9 302.7h0M66.8 323.6h0M77.1 312.0h0M63.3 328.7h0M76.1 323.3h0M65.5 324.7h0M76.0 320.6h0M71.3 318.4h0M64.7 327.4h0M56.6 334.2h0M80.9 309.3h0M59.5 333.1h0M66.9 334.4h0M58.5 332.2h0M76.3 313.8h0M78.4 311.4h0M72.3 317.0h0M72.7 317.1h0M82.6 309.2h0M69.6 320.7h0M56.2 334.2h0M70.9 321.1h0M50.0 341.0h0M59.0 335.7h0M82.8 309.7h0M77.1 316.2h0M93.4 292.7h0M62.4 331.5h0M69.4 320.0h0M70.7 318.8h0M94.1 291.8h0M97.2 288.9h0M52.8 338.7h0M81.3 315.9h0M53.7 339.4h0M50.7 340.4h0M51.7 338.8h0M52.9 339.8h0M96.1 290.9h0M61.3 340.0h0M86.4 300.8h0M86.1 303.4h0M88.5 300.0h0"/>
<path stroke="#76827f" stroke-width="1.0" stroke-linecap="square" fill="none" d="M58.7 329.8h0M93.3 292.1h0M66.9 335.2h0M62.8 323.6h0M87.4 297.0h0M60.2 334.0h0M58.7 329.2h0M54.6 333.2h0M55.2 331.1h0M84.3 304.9h0M61.8 326.4h0M52.1 337.5h0M62.0 334.3h0M76.5 313.2h0M72.3 316.9h0M61.9 323.9h0M53.8 332.2h0M48.7 339.9h0M59.3 329.7h0M55.9 340.1h0M67.6 321.9h0M51.0 338.3h0M55.7 336.4h0M46.4 341.0h0M72.6 315.7h0M60.0 330.2h0M49.7 336.9h0M87.7 296.5h0M72.4 312.8h0M48.8 339.8h0M75.6 309.3h0M94.5 296.0h0M81.8 302.7h0M59.6 328.9h0M53.0 337.4h0M69.8 315.9h0M67.3 321.4h0M62.2 327.9h0M61.5 339.0h0M52.2 337.7h0M57.4 332.3h0M94.5 290.7h0M55.0 334.2h0M51.3 335.2h0M71.4 314.0h0M76.1 309.9h0M63.5 325.6h0M46.9 339.4h0M57.8 329.1h0M46.5 340.3h0M58.4 332.8h0M53.4 335.1h0M60.6 330.4h0M59.6 327.1h0M88.5 303.9h0M48.9 337.6h0M65.8 321.5h0M51.7 335.0h0M68.3 324.0h0M70.6 316.3h0M51.8 336.3h0M55.0 335.2h0M78.5 310.7h0M72.7 312.4h0M80.3 304.7h0M77.3 307.6h0M47.4 339.6h0M60.1 326.0h0M71.8 314.6h0M51.4 338.3h0M80.4 310.2h0M71.8 318.2h0M85.7 305.6h0M49.4 338.0h0M51.3 336.4h0M76.8 310.4h0M77.4 309.2h0M71.2 314.1h0M68.7 325.6h0M71.6 329.6h0M56.5 330.3h0M69.2 319.9h0M70.1 316.9h0M52.2 334.5h0M87.0 298.5h0M78.9 310.5h0M57.6 329.0h0M57.1 337.3h0M81.2 313.5h0M53.9 335.8h0M51.7 335.7h0M62.0 326.3h0M69.0 320.3h0M67.6 319.5h0M58.1 327.9h0M47.2 339.1h0M53.4 334.5h0M73.0 315.8h0M47.4 338.8h0M81.2 311.1h0M58.4 332.1h0M56.6 331.1h0M68.0 324.3h0M57.7 330.8h0M51.7 335.3h0M58.3 331.1h0M59.2 329.3h0M61.7 325.6h0M53.4 335.2h0M56.1 330.5h0M97.0 292.5h0M83.3 302.1h0M51.9 335.0h0M53.2 333.1h0M53.9 333.9h0M59.3 331.0h0M68.1 319.5h0M91.0 294.4h0M56.9 328.9h0M59.7 328.7h0M57.3 330.5h0M73.3 315.8h0M47.2 340.9h0M61.0 327.4h0M73.4 312.3h0M57.2 333.1h0M53.6 338.2h0M54.5 333.3h0M52.7 336.1h0M79.0 306.5h0M68.3 318.5h0M57.3 330.5h0M66.6 318.9h0M53.8 337.5h0M58.6 330.0h0M48.1 338.8h0"/>
<polygon points="35.8,342.3 35.8,333.6 35.8,333.6 37.6,331.9 39.5,330.1 41.3,328.4 43.1,326.7 44.9,324.9 46.8,323.2 48.6,321.5 50.4,319.7 52.3,318.0 54.1,316.3 55.9,314.5 57.7,312.8 59.6,311.0 61.4,309.3 63.2,307.6 65.1,305.8 66.9,304.1 68.7,302.4 70.5,300.6 72.4,298.9 74.2,297.1 76.0,295.4 77.8,293.7 79.7,291.9 81.5,289.9 83.3,287.9 85.2,286.0 87.0,284.0 88.8,282.1 90.6,280.1 92.5,278.1 94.3,276.2 96.1,274.2 98.0,272.2 99.8,270.3 101.6,268.3 103.4,266.3 105.3,264.4 107.1,262.4 119.5,253.6 107.1,272.6 105.3,274.8 103.4,276.9 101.6,279.1 99.8,281.2 98.0,283.4 96.1,285.5 94.3,287.7 92.5,289.8 90.6,292.0 88.8,294.1 87.0,296.3 85.2,298.4 83.3,300.6 81.5,302.7 79.7,304.8 77.8,306.8 76.0,308.7 74.2,310.7 72.4,312.6 70.5,314.5 68.7,316.4 66.9,318.3 65.1,320.3 63.2,322.2 61.4,324.1 59.6,326.0 57.7,327.9 55.9,329.9 54.1,331.8 52.3,333.7 50.4,335.6 48.6,337.5 46.8,339.5 44.9,341.4 44.5,342.3" fill="#161616"/>
<path stroke="#161616" stroke-width="1.3" stroke-linecap="square" fill="none" d="M62.1 308.6h0M64.9 305.6h0M58.3 327.7h0M85.2 285.5h0M101.5 280.4h0M62.1 323.7h0M88.7 296.0h0M85.9 283.7h0M92.5 278.5h0M95.2 288.4h0M103.3 279.0h0M97.9 271.0h0M110.2 257.3h0M55.0 315.9h0M76.4 308.2h0M105.9 274.8h0M90.4 292.7h0M80.1 304.9h0M65.0 305.9h0M104.9 264.2h0M58.6 311.4h0M107.7 260.0h0M62.0 323.2h0M99.5 282.4h0M77.0 308.1h0M60.0 308.9h0M90.2 292.8h0M38.8 328.7h0M60.4 324.6h0M71.7 313.3h0M53.1 334.0h0M67.7 318.8h0M61.4 323.5h0M71.2 299.2h0M71.4 312.9h0M82.1 289.4h0M79.3 292.0h0M44.5 322.7h0M59.4 310.9h0M49.8 319.4h0M101.9 266.0h0M102.7 267.1h0M76.7 311.6h0M64.9 304.1h0M108.5 273.4h0M85.4 285.4h0M102.7 265.7h0M104.2 277.2h0M99.9 282.4h0M44.1 325.4h0M68.1 317.9h0M59.1 328.0h0M60.6 325.3h0M56.4 330.0h0M50.9 337.0h0M40.7 326.3h0M97.6 283.2h0M55.7 329.7h0M94.3 287.6h0M105.0 275.4h0M101.3 280.3h0M104.7 276.6h0M94.1 288.3h0M107.6 260.2h0M77.0 294.9h0M69.3 299.8h0M49.2 338.1h0M103.9 276.2h0M103.2 266.5h0M64.3 306.6h0M62.2 324.7h0M99.6 281.3h0M58.7 311.3h0M88.8 294.2h0M104.7 264.6h0M51.3 337.0h0M62.4 324.1h0M51.8 316.5h0M49.7 321.3h0M70.1 300.4h0M90.2 280.8h0M64.1 304.4h0M53.1 332.6h0M101.3 279.4h0M79.1 306.1h0M40.5 328.4h0M51.4 334.3h0M89.5 293.7h0M95.5 274.8h0M51.5 335.3h0M53.0 334.0h0M104.8 275.8h0M104.1 277.9h0M100.4 268.9h0M48.8 338.5h0M78.8 291.4h0M61.4 324.8h0M73.1 312.2h0M76.5 293.7h0M52.5 316.7h0M83.9 287.9h0M75.0 311.1h0M99.6 282.0h0M98.3 270.9h0M98.9 283.4h0M94.1 289.5h0M75.0 296.1h0M83.4 300.9h0M108.7 259.1h0M90.9 291.4h0M50.2 336.2h0M77.7 292.8h0M90.9 279.3h0M66.4 302.9h0M110.0 268.8h0M104.1 276.6h0M70.4 300.4h0M72.2 312.4h0M38.1 330.0h0M75.4 294.6h0M85.9 298.9h0M93.8 288.3h0M79.1 292.2h0M107.3 274.1h0M65.9 304.5h0M54.1 316.7h0M67.8 301.7h0M74.8 311.0h0M49.2 321.6h0M68.3 303.1h0M91.8 291.7h0M74.0 311.5h0M101.9 268.2h0M43.8 326.0h0M98.0 285.0h0M79.3 304.9h0M49.5 319.5h0M74.0 296.8h0M78.2 307.2h0M62.6 322.6h0M46.4 339.2h0M47.7 322.0h0M69.1 315.4h0M39.0 330.2h0M61.7 308.7h0M63.6 323.1h0M100.0 268.2h0M48.7 338.0h0M44.4 325.2h0M81.1 304.5h0M88.4 294.7h0M82.1 302.8h0M93.0 290.2h0M104.0 265.3h0M95.9 286.3h0M92.5 291.4h0M107.7 261.7h0M73.0 295.7h0M107.2 272.5h0M47.5 338.5h0M60.8 308.2h0M46.0 340.3h0M83.7 301.0h0M78.0 292.6h0M82.6 286.8h0M75.6 293.4h0M65.0 303.9h0M66.3 318.9h0M83.5 287.4h0M97.7 284.1h0M57.3 312.2h0M106.9 273.8h0M84.0 300.8h0M108.5 271.9h0M70.6 313.6h0M73.3 296.4h0M49.1 339.6h0M100.2 268.6h0M87.1 296.8h0M79.5 292.8h0M90.8 279.5h0M86.0 298.0h0M40.2 328.6h0M72.5 298.3h0M100.0 282.0h0M39.4 330.3h0M84.2 286.5h0M99.4 282.2h0M44.6 324.8h0M66.4 304.9h0M73.8 311.1h0M64.1 306.3h0M94.1 276.6h0M105.4 264.6h0M83.3 288.1h0M92.9 290.8h0M72.4 298.2h0M48.2 320.9h0M106.0 263.9h0M67.3 318.7h0M96.3 272.2h0M59.9 310.1h0M95.1 275.5h0M42.0 327.0h0M57.7 312.8h0M86.9 282.9h0M82.0 303.3h0M96.3 274.3h0M83.4 300.2h0M61.0 308.9h0M94.7 276.0h0M93.9 287.9h0M63.1 322.1h0M91.9 291.8h0M72.6 297.6h0M72.9 312.1h0M53.5 332.7h0M80.2 291.2h0M107.5 262.3h0M68.4 317.1h0M109.6 258.7h0M109.7 271.4h0M51.5 333.7h0M57.6 310.9h0M103.0 278.2h0M47.4 339.3h0M80.6 289.8h0M70.0 314.5h0M48.8 321.5h0M104.8 262.4h0M54.4 332.6h0M44.1 341.6h0M84.3 300.0h0M60.2 308.3h0M40.0 328.8h0M71.0 299.4h0M61.3 327.6h0M102.6 265.8h0M76.1 309.0h0M58.1 328.7h0M94.4 275.4h0M46.5 339.4h0M95.3 287.8h0M91.7 291.0h0M80.6 291.0h0M49.5 320.3h0M49.0 320.7h0M70.2 316.8h0M94.1 275.9h0M63.7 306.4h0M100.2 281.7h0M91.4 279.4h0M80.4 303.9h0M81.1 289.8h0M64.8 303.8h0M65.5 304.8h0M91.8 278.1h0M61.8 308.7h0M81.1 302.9h0M98.2 284.2h0M82.5 288.9h0M93.4 276.2h0M76.4 308.8h0M101.4 266.2h0M84.4 286.4h0M94.4 288.3h0M68.4 317.3h0M45.8 322.9h0M60.5 325.7h0M67.7 303.6h0M72.3 298.8h0M50.1 319.5h0M70.7 314.8h0M62.2 324.6h0M107.9 271.7h0M62.6 322.6h0M104.1 276.3h0M84.7 300.6h0M50.5 320.5h0M72.3 313.1h0M90.7 292.1h0M65.9 304.0h0M72.3 313.2h0M45.6 323.0h0M92.0 276.6h0M58.5 326.9h0M97.3 272.2h0M105.6 262.2h0M74.5 297.7h0M78.2 292.7h0M50.9 336.6h0M63.6 306.8h0M107.3 274.2h0M58.8 311.9h0M97.7 272.0h0M77.7 306.9h0M61.9 324.5h0M106.5 261.7h0M90.6 279.2h0M77.7 307.9h0M56.8 312.6h0M88.8 295.7h0M44.6 324.2h0M51.3 318.2h0M87.8 295.5h0M56.5 329.2h0M69.4 316.5h0M61.6 327.1h0M76.0 295.4h0M40.9 329.5h0M57.7 312.6h0M107.1 275.7h0M85.6 285.2h0M54.0 331.5h0M46.2 323.1h0M65.5 319.2h0M95.1 287.5h0M97.0 285.7h0M78.2 308.7h0M94.8 287.7h0M94.9 274.5h0M46.0 341.7h0M95.3 286.3h0M94.4 288.1h0M68.1 318.1h0M85.6 286.2h0M37.8 330.8h0M105.7 263.7h0M75.1 311.0h0M38.7 329.0h0M53.0 317.5h0M102.0 278.9h0M108.0 261.6h0M42.1 326.8h0M75.5 296.0h0M95.7 273.9h0M39.9 329.0h0M66.6 304.7h0M66.9 320.0h0M92.5 277.2h0M77.9 306.4h0M89.4 281.1h0M57.4 328.7h0M81.7 289.0h0M97.1 272.1h0M106.3 261.8h0M103.6 264.9h0M97.2 272.7h0M49.9 321.0h0M88.6 294.5h0M38.6 330.0h0M55.7 331.2h0M73.1 297.9h0M45.8 340.5h0M55.5 329.4h0M80.6 305.5h0M67.0 302.7h0M66.4 319.9h0M66.7 320.3h0M67.9 302.3h0M68.6 301.6h0M63.9 308.0h0M78.3 306.5h0M94.5 287.8h0M65.3 304.9h0M69.2 301.9h0M65.5 303.8h0M70.1 316.1h0M91.4 277.3h0M46.0 323.3h0M62.5 322.9h0M68.8 302.8h0M101.7 268.7h0M105.5 274.2h0M99.8 270.4h0M99.5 283.0h0M77.2 293.1h0M68.2 317.3h0M95.2 286.9h0M63.0 306.6h0M81.4 289.6h0M107.5 272.1h0M50.1 336.0h0M51.8 334.2h0M83.5 286.5h0M92.1 277.3h0M69.6 317.0h0M41.8 328.6h0M60.3 309.0h0M91.2 278.1h0M72.2 299.8h0M84.9 285.0h0M93.1 275.1h0M85.1 297.9h0M91.4 290.5h0M44.9 325.3h0M109.4 270.7h0M61.9 326.1h0M94.4 286.8h0M86.8 297.6h0M45.7 341.0h0M63.6 306.1h0M63.3 322.8h0M84.4 286.0h0M85.7 297.5h0M70.4 315.7h0M73.9 310.5h0M93.9 276.7h0M44.5 325.8h0M47.6 320.6h0M104.5 264.9h0M56.1 329.8h0M86.6 298.0h0M72.0 299.4h0M95.3 275.6h0M73.8 312.1h0M106.1 274.7h0M66.6 318.2h0M65.6 320.0h0M66.4 302.8h0M56.4 313.7h0M98.7 283.7h0M68.1 303.2h0M70.5 315.1h0M64.5 306.2h0M40.8 327.7h0M80.0 305.8h0M81.0 305.0h0M90.5 293.2h0M54.9 333.1h0M81.4 304.1h0M58.6 309.7h0M77.4 292.8h0M41.1 328.6h0M76.0 311.0h0M48.3 319.9h0M100.0 270.3h0M77.0 294.0h0M74.8 297.1h0M62.2 307.2h0M60.2 324.7h0M40.8 326.9h0M106.3 273.4h0M103.1 266.5h0M56.9 330.8h0M65.9 303.0h0M72.3 297.2h0M85.0 298.3h0M46.8 321.7h0M46.9 340.1h0M66.8 303.0h0M83.1 287.0h0M85.3 286.1h0M51.6 335.8h0M46.7 339.3h0M105.6 275.2h0M65.3 303.6h0M95.4 285.7h0M106.1 275.7h0M73.4 295.8h0M51.2 335.0h0M44.5 324.3h0M70.7 299.4h0M98.3 282.6h0M50.8 336.0h0M61.1 309.4h0M74.5 296.9h0M71.9 314.2h0M88.6 282.1h0M70.0 315.6h0M55.3 314.4h0M58.7 327.4h0M70.5 315.2h0M64.6 320.6h0M57.3 313.0h0M54.7 315.4h0M40.7 328.7h0M50.1 336.4h0M97.2 271.8h0M103.4 263.6h0M84.0 303.4h0M104.8 277.2h0M100.9 267.8h0M54.5 315.5h0M80.7 304.6h0M94.5 288.2h0M92.9 277.3h0M106.5 274.0h0M47.2 322.1h0M78.9 306.7h0M70.4 301.0h0M56.5 312.5h0M109.2 270.2h0M59.2 326.4h0M95.3 287.9h0M47.7 338.9h0M91.3 279.2h0M48.6 339.2h0M102.5 266.7h0M98.5 282.7h0M64.4 306.1h0M73.8 310.2h0M104.7 263.9h0M51.4 334.9h0M83.6 300.5h0M47.0 322.3h0M101.5 280.0h0M95.7 274.3h0M85.7 298.2h0M74.6 311.2h0M89.7 294.6h0M81.8 288.8h0M61.0 308.0h0M72.9 297.3h0M51.3 318.2h0M75.9 295.1h0M46.9 322.6h0M63.4 307.0h0M98.5 270.7h0M89.7 278.4h0M54.2 314.8h0M79.1 305.8h0M70.5 300.0h0M55.9 332.5h0M93.8 276.3h0M95.8 286.3h0M50.7 320.1h0M93.4 277.2h0M51.9 336.6h0M104.5 276.3h0M68.2 300.8h0M92.7 289.6h0M46.2 340.2h0M42.4 328.1h0M104.1 264.0h0M104.6 275.8h0M65.2 319.3h0M99.8 282.5h0M67.5 317.4h0M57.7 313.3h0M84.0 286.7h0M54.5 316.1h0M95.2 286.6h0M97.0 271.2h0M78.8 306.3h0M98.0 270.5h0M55.5 313.3h0M91.4 278.9h0M94.0 288.6h0M54.8 314.5h0M83.4 301.2h0M93.8 288.3h0M82.2 302.3h0M69.5 300.4h0M101.0 269.3h0M37.7 330.4h0M54.7 332.3h0M92.0 289.5h0M71.6 314.2h0M38.0 331.0h0M103.7 264.9h0M53.2 333.1h0M92.4 278.0h0M97.6 284.2h0M87.4 283.3h0M102.3 278.8h0M104.9 264.6h0M96.3 273.7h0M97.5 286.1h0M62.4 323.2h0M51.6 334.0h0M107.3 261.4h0M81.8 290.3h0M90.0 293.1h0M81.2 302.7h0M48.8 337.0h0M66.4 319.4h0M70.7 300.1h0M59.9 325.4h0M97.0 284.3h0M86.2 299.7h0M71.6 314.1h0M85.3 298.0h0M58.4 312.8h0M98.6 271.8h0M75.3 310.3h0M105.0 276.4h0M40.1 329.3h0M99.7 281.7h0M98.1 284.7h0M46.6 322.3h0M102.3 278.4h0M68.0 316.7h0M84.7 301.4h0M56.3 314.2h0M100.7 269.1h0M41.3 325.3h0M52.9 333.5h0M58.2 312.4h0M40.5 329.7h0M97.9 284.3h0M64.7 306.5h0M84.8 285.6h0M105.7 263.8h0M77.3 307.5h0M109.1 270.4h0M39.3 329.4h0M48.8 337.8h0M53.3 333.4h0M46.1 340.4h0M86.3 284.5h0M83.9 288.0h0M83.8 287.7h0M98.3 270.1h0M65.0 321.3h0M53.7 315.4h0M41.2 327.0h0M68.0 316.6h0M76.9 293.3h0M95.0 286.5h0M94.8 290.4h0M47.8 321.9h0M99.3 269.9h0M63.0 322.3h0M76.6 308.4h0M64.7 306.6h0M77.2 294.1h0M79.9 305.7h0M99.8 281.5h0M44.2 323.7h0M101.7 278.8h0M46.7 322.2h0M77.8 308.5h0M90.8 291.6h0M72.9 312.3h0M84.1 299.7h0M86.5 285.0h0M39.7 329.7h0M51.3 317.4h0M91.9 277.1h0M87.6 296.5h0M100.7 279.9h0M80.2 289.5h0M82.9 300.9h0M47.5 322.4h0M79.4 291.3h0M80.1 290.9h0M67.8 319.1h0M105.2 263.6h0M64.0 322.8h0M80.9 289.1h0M62.9 306.0h0M109.2 258.4h0M65.4 321.0h0M77.1 294.0h0M62.5 324.5h0M53.7 331.4h0M70.2 301.4h0M84.8 285.5h0M41.0 327.9h0M84.5 286.4h0M37.4 330.2h0M57.7 311.2h0M70.5 315.3h0M81.8 302.7h0M90.2 292.4h0M95.5 275.1h0M70.1 301.4h0M61.5 323.4h0M51.8 316.1h0M100.1 269.2h0M43.0 326.9h0M103.8 264.8h0M66.2 321.6h0M86.5 282.9h0M99.3 268.6h0M53.9 332.2h0M85.2 285.2h0M90.2 294.1h0M104.6 276.2h0M79.9 290.4h0M62.6 324.8h0M56.2 313.4h0M83.5 299.6h0M89.3 281.9h0M103.5 266.1h0M56.9 314.4h0M70.2 314.5h0M95.9 286.3h0M47.3 339.4h0M57.2 313.3h0M77.2 293.8h0M68.3 318.5h0M90.4 292.8h0M95.4 272.3h0M48.4 338.2h0M78.8 307.0h0M87.8 281.6h0M95.2 287.8h0M43.7 324.3h0M97.8 271.4h0M70.6 314.7h0M62.0 323.9h0M54.1 316.7h0M89.6 280.4h0M87.5 283.9h0M96.8 285.8h0M59.0 311.1h0M79.5 306.0h0M54.4 315.6h0M91.3 292.2h0M72.0 298.8h0M96.3 285.3h0M53.4 332.6h0M71.5 313.3h0M53.9 333.8h0M48.4 337.8h0M87.2 281.8h0M55.4 315.3h0M107.4 260.3h0M70.3 298.1h0M57.9 327.5h0M101.7 279.4h0M107.7 272.5h0M99.8 284.4h0M87.8 295.7h0M61.2 309.1h0M49.6 335.7h0M88.4 280.6h0M72.6 315.2h0M39.8 329.3h0M54.8 331.5h0M97.5 272.1h0M75.7 295.9h0M79.4 292.1h0M109.0 270.2h0M78.7 292.4h0M75.6 309.3h0M97.2 271.8h0M86.4 297.6h0M69.8 299.8h0M96.6 284.6h0M56.7 314.2h0M94.7 288.1h0M45.1 322.7h0M77.9 307.1h0M51.9 317.8h0M51.7 334.3h0M100.6 269.0h0M69.0 300.6h0M105.0 276.9h0M63.5 306.8h0M92.9 288.6h0M51.2 319.0h0M85.7 299.2h0M72.0 299.1h0M79.4 307.4h0M37.6 330.8h0M80.3 305.0h0M64.9 305.6h0M73.9 310.9h0M44.7 325.0h0M69.6 315.7h0M84.0 299.8h0M95.6 274.0h0M92.8 274.8h0M98.7 269.5h0M109.1 271.4h0M103.4 265.2h0M49.1 337.5h0M104.9 277.6h0M72.7 295.6h0M61.9 323.6h0M66.5 305.4h0M92.7 288.9h0M76.5 293.6h0M58.2 311.9h0M72.0 297.9h0M54.1 332.3h0M40.6 327.7h0M69.7 316.4h0M102.2 266.6h0M62.2 308.6h0M38.6 331.2h0M83.0 288.2h0M72.3 314.3h0M62.4 323.4h0M98.2 283.7h0M77.7 294.0h0M54.5 330.8h0M79.8 306.8h0M109.5 270.6h0M80.9 290.0h0M104.8 263.8h0M62.1 323.4h0M69.6 316.0h0M105.7 274.3h0M107.9 273.2h0M52.8 333.7h0M91.5 279.4h0M94.4 287.1h0M62.8 307.6h0M107.0 272.1h0M102.2 278.6h0M69.5 301.3h0M89.4 295.4h0M95.4 273.7h0M60.9 325.4h0M109.6 258.0h0M40.6 327.3h0M76.0 295.6h0M45.9 323.4h0M105.2 264.0h0M93.5 276.0h0M96.1 272.1h0M75.2 312.4h0M89.6 279.0h0M92.8 277.3h0M80.9 304.6h0M44.6 325.4h0M74.2 297.3h0M44.7 325.4h0M99.1 282.4h0M90.0 279.9h0M79.1 291.9h0M104.5 276.6h0M49.0 320.5h0M52.2 334.9h0M51.5 319.1h0M74.0 296.2h0M45.4 324.6h0M76.5 308.4h0M78.8 292.2h0M59.7 327.6h0M94.2 276.8h0M67.7 302.3h0M85.7 298.0h0M90.8 292.0h0M60.5 309.5h0M69.8 315.2h0M78.1 306.4h0M96.5 286.0h0M80.3 305.2h0M78.7 292.0h0M83.0 303.2h0M106.9 262.5h0M42.0 327.9h0M51.2 319.5h0M91.8 278.1h0M68.2 303.1h0M101.5 279.8h0M90.7 292.6h0M72.4 298.3h0M53.4 316.4h0M93.9 289.1h0M78.0 308.7h0M88.7 293.6h0M50.7 337.4h0M86.2 282.3h0M90.3 295.2h0M86.6 283.1h0M103.9 265.6h0M83.3 288.4h0M54.8 332.2h0M101.8 278.3h0M106.6 275.6h0M71.7 298.4h0M78.4 293.0h0M76.4 310.4h0M80.8 289.3h0M79.9 291.5h0M59.1 326.4h0M60.2 325.2h0M38.0 330.2h0M67.4 317.4h0M49.9 336.7h0M75.1 309.2h0M73.4 295.0h0M74.9 311.1h0M37.4 331.3h0M53.8 333.2h0M80.5 290.3h0M109.5 271.0h0M41.0 326.0h0M67.9 303.6h0M67.8 317.2h0M62.6 308.7h0M78.9 292.2h0M84.7 300.1h0M71.0 314.1h0M49.4 319.5h0M84.8 286.0h0M63.8 321.2h0M57.0 328.9h0M50.4 318.3h0M45.1 324.8h0M106.6 262.2h0M67.4 318.9h0M70.1 315.4h0M81.8 302.8h0M99.9 281.9h0M100.6 281.4h0M40.8 328.8h0M85.9 285.7h0M110.1 270.7h0M106.2 274.4h0M105.0 262.9h0M73.0 311.6h0M58.2 311.9h0M48.5 337.8h0M70.2 300.6h0M78.5 293.2h0M64.1 320.8h0M78.1 291.5h0M62.2 323.6h0M72.0 298.8h0M91.9 289.8h0M78.1 293.6h0M64.1 307.3h0M41.3 328.5h0M75.3 294.8h0M100.8 280.9h0M90.7 292.9h0M84.9 301.8h0M41.9 327.3h0M73.9 310.3h0M95.1 288.7h0M82.5 301.0h0M104.0 276.7h0M87.7 296.3h0M70.3 300.1h0M44.1 326.6h0M107.6 260.6h0M85.7 299.0h0M69.7 315.8h0M46.8 322.1h0M105.8 274.1h0M105.0 276.0h0M106.3 274.9h0M53.9 333.5h0M102.6 267.0h0M81.2 303.0h0M84.1 301.9h0M105.9 276.1h0M67.0 318.0h0M83.7 300.2h0M79.3 289.2h0M97.0 284.7h0M43.6 325.6h0M50.3 320.4h0M72.5 299.4h0M64.2 321.1h0M103.0 278.2h0M63.4 322.5h0M82.1 288.3h0M53.2 333.3h0M100.7 280.4h0M86.7 282.4h0M109.3 259.6h0M78.2 306.9h0M61.0 326.0h0M63.4 322.6h0M98.4 283.5h0M81.6 303.9h0M86.3 283.7h0M54.8 330.8h0M76.5 294.2h0M80.7 303.9h0M66.1 319.6h0M106.0 274.6h0M88.0 283.3h0M107.3 260.8h0M42.5 326.5h0M88.2 280.9h0M58.5 313.0h0M108.8 260.3h0M47.1 341.5h0M106.2 276.2h0M104.8 265.6h0M68.2 301.8h0M90.9 279.9h0M81.9 289.4h0M49.4 336.8h0M60.2 310.2h0M84.1 286.0h0M104.9 264.6h0M91.2 278.0h0M100.8 266.2h0M101.9 280.1h0M48.0 339.2h0M47.6 322.3h0M94.0 289.2h0M91.5 292.1h0M59.6 311.6h0M102.2 265.1h0M89.8 281.0h0M90.6 292.5h0M59.3 310.1h0M90.1 294.4h0M50.6 338.3h0M73.4 298.6h0M51.7 334.3h0M83.2 286.3h0M73.8 297.6h0M106.6 273.5h0M93.7 288.8h0M57.1 311.6h0M51.0 319.6h0M49.9 335.6h0M40.3 330.1h0M75.0 296.2h0M90.4 294.7h0M44.4 323.9h0M90.2 279.7h0M77.2 307.2h0M62.5 323.9h0M72.0 312.5h0M47.7 321.9h0M54.7 316.3h0M60.1 325.0h0M49.5 336.4h0M107.8 272.7h0M46.4 340.2h0M83.7 300.2h0M68.3 303.5h0M53.5 316.1h0M66.4 320.2h0M66.6 318.0h0M58.5 327.2h0M83.4 287.7h0M103.6 277.4h0M50.4 318.5h0M109.6 269.7h0M94.3 273.9h0M79.4 291.6h0M51.1 338.3h0M68.6 317.8h0M95.5 274.5h0M52.3 333.6h0M101.4 267.8h0M60.3 310.8h0M81.2 289.8h0M103.3 266.2h0M58.1 327.8h0M98.6 271.6h0M73.9 296.5h0M59.5 327.2h0M56.7 328.5h0M80.5 290.5h0M69.4 316.6h0M82.7 301.9h0M77.3 309.5h0"/>
<path stroke="#262626" stroke-width="1.2" stroke-linecap="square" fill="none" d="M133.2 239.6h0M140.7 226.9h0M113.4 262.6h0M107.1 262.0h0M107.0 262.9h0M108.7 266.5h0M127.9 242.2h0M109.2 266.7h0M114.0 258.1h0M133.4 238.2h0M107.1 266.6h0M119.8 253.6h0M112.6 261.3h0M115.1 260.8h0M110.8 263.8h0M119.8 254.4h0M142.8 230.7h0M105.8 276.6h0M133.5 234.9h0M125.8 248.8h0M110.3 260.0h0M115.3 254.7h0M104.1 270.8h0M104.2 269.5h0M105.1 270.9h0M123.6 250.5h0M106.6 269.0h0M112.9 256.2h0M107.4 266.7h0M112.0 261.6h0M113.9 260.5h0M118.1 253.8h0M144.8 227.2h0M109.5 275.6h0M106.0 274.5h0M105.7 275.8h0M108.6 268.4h0M112.3 259.5h0M115.7 262.1h0M110.4 267.2h0M105.5 276.2h0M111.6 260.8h0M109.4 271.8h0M109.3 268.2h0M105.0 263.8h0M126.4 249.3h0M131.6 243.5h0M125.2 248.1h0M113.7 256.9h0M135.9 238.8h0M107.2 272.4h0M106.8 266.1h0M104.8 274.9h0M110.7 265.7h0M112.8 259.8h0M134.5 236.7h0M138.7 231.5h0M107.5 265.7h0M105.9 265.2h0M106.9 268.0h0M108.2 264.5h0M110.0 257.6h0M147.4 226.5h0M108.4 264.4h0M106.7 265.0h0M135.0 236.3h0M140.9 228.6h0M120.4 253.4h0M127.9 246.2h0M107.7 262.4h0M105.8 265.3h0M119.6 257.2h0M113.4 256.4h0M120.3 248.1h0M107.4 264.7h0M127.3 244.9h0M106.6 267.9h0M119.1 256.1h0M127.7 243.7h0M129.2 243.5h0M111.1 265.8h0M142.1 230.4h0M109.4 268.6h0M107.4 269.3h0M115.8 254.7h0M119.5 255.2h0M110.7 264.7h0M126.5 246.5h0M124.1 247.7h0M141.8 228.1h0M107.1 271.7h0M111.3 261.1h0M105.9 270.5h0M128.7 241.5h0M125.7 245.7h0M112.7 258.1h0M128.1 243.5h0M122.7 249.8h0M121.8 248.9h0M110.0 262.2h0M110.7 264.2h0M111.8 264.7h0M106.6 263.4h0M108.2 266.2h0M111.2 264.9h0M128.9 245.7h0M112.1 267.5h0M107.9 273.8h0M116.4 252.4h0M106.6 264.8h0M114.8 251.5h0M136.3 239.5h0M105.8 274.5h0M107.3 268.2h0M107.4 259.5h0M148.4 222.4h0M111.3 261.7h0M108.9 266.9h0M129.9 237.4h0M107.3 268.0h0M125.7 243.9h0M117.5 256.2h0M105.1 278.2h0M107.7 269.6h0M130.6 239.0h0M104.1 279.1h0M141.9 232.0h0M128.1 240.4h0M112.9 257.7h0M140.4 234.6h0M118.1 249.2h0M120.3 255.1h0M122.7 248.5h0M118.7 255.8h0M112.6 261.3h0M114.2 252.7h0M132.5 242.8h0M129.6 242.7h0M143.6 225.1h0M108.7 271.4h0M106.2 272.8h0M123.0 249.1h0M121.1 246.5h0M111.8 265.7h0M123.3 247.6h0M116.6 254.0h0M119.9 252.4h0M114.2 261.1h0M124.1 249.0h0M125.3 250.2h0M128.4 242.7h0M114.2 254.1h0M123.2 250.2h0M126.5 244.8h0M108.8 263.4h0M134.9 235.4h0M121.6 252.1h0M111.7 260.8h0M104.7 271.6h0M115.7 259.0h0M115.0 259.5h0M114.9 257.7h0M110.3 264.3h0M120.8 258.1h0M112.9 261.9h0M135.2 238.3h0M123.2 249.2h0M110.9 262.9h0M113.2 258.8h0M120.3 251.8h0M107.8 268.7h0M114.7 261.1h0M107.7 269.2h0M123.4 251.3h0M118.7 251.9h0M110.3 253.9h0M147.1 221.6h0M106.5 264.5h0M146.9 223.5h0M132.0 242.5h0M122.6 251.6h0M116.5 255.9h0M113.7 259.7h0M132.3 240.0h0M110.6 264.0h0M113.5 260.2h0M107.8 263.3h0M106.6 264.7h0M111.1 268.4h0M115.0 256.2h0M125.5 248.8h0M108.4 270.9h0M109.5 263.1h0M121.0 254.1h0M104.9 267.5h0M105.7 271.1h0M119.9 255.7h0M148.5 223.7h0M113.8 263.7h0M133.4 241.5h0M114.4 260.8h0M105.7 270.5h0M108.1 276.6h0M117.6 258.2h0M114.4 260.1h0M142.0 226.0h0M105.8 266.2h0M137.6 232.9h0M104.1 275.7h0M107.8 277.1h0M109.9 267.4h0M144.3 231.3h0M104.2 269.8h0M121.7 250.6h0M115.4 255.9h0M105.9 273.0h0M116.8 258.2h0M136.0 238.8h0M114.8 258.5h0M149.6 221.4h0M105.7 273.9h0M113.5 266.8h0M117.6 252.4h0M143.9 231.1h0M113.0 259.7h0M117.7 256.3h0M109.4 267.6h0M105.5 268.4h0M133.6 238.2h0M118.0 253.5h0M131.5 243.3h0M125.9 248.4h0M128.2 245.9h0M113.1 262.8h0M105.2 262.2h0M105.0 271.3h0M126.1 242.2h0M135.0 235.8h0M119.0 256.7h0M115.1 258.8h0M104.1 273.6h0M129.5 241.9h0M146.9 222.3h0M110.5 261.2h0M125.3 248.6h0M112.3 262.4h0M107.8 265.7h0M117.3 258.9h0M115.5 260.6h0M124.6 249.5h0M107.6 274.1h0M113.2 262.4h0M107.9 272.9h0M134.1 238.2h0M107.9 268.7h0M116.1 257.2h0M115.4 255.9h0M107.0 263.1h0M104.1 266.9h0M118.6 255.6h0M107.0 265.7h0M115.4 257.4h0M115.6 257.6h0M148.8 225.6h0M108.7 271.9h0M116.7 256.0h0M116.6 259.6h0M107.0 267.0h0M117.6 255.1h0M105.5 268.1h0M116.2 257.9h0M111.0 259.4h0M117.5 252.9h0M108.1 257.3h0M104.3 265.0h0M108.6 265.0h0M107.7 269.4h0M104.7 269.0h0M111.4 265.1h0M106.1 263.0h0M140.3 231.8h0M108.7 270.5h0M146.8 222.6h0M104.4 279.3h0M106.7 260.8h0M106.3 266.2h0M124.7 245.1h0M124.8 246.1h0M119.9 254.9h0M121.0 251.9h0M106.6 269.0h0M105.2 271.1h0M105.3 268.5h0M121.8 248.0h0M131.8 239.3h0M115.0 257.2h0M109.6 265.7h0M113.8 262.3h0"/>
<rect x="36.40" y="334.30" width="8.00" height="7.40" fill="#98a0b2"/>
<line x1="35.8" y1="215.5" x2="35.8" y2="342.90000000000003" stroke="#111" stroke-width="1.35"/>
<line x1="35.199999999999996" y1="342.3" x2="162.0" y2="342.3" stroke="#111" stroke-width="1.35"/>
<line x1="31.999999999999996" y1="342.3" x2="35.8" y2="342.3" stroke="#111" stroke-width="1.1"/>
<text font-size="8.8" text-anchor="end" fill="#1a1a1a" transform="translate(28.799999999999997 345.2) scale(0.88 1)">0</text>
<line x1="35.8" y1="342.3" x2="35.8" y2="345.90000000000003" stroke="#111" stroke-width="1.1"/>
<text font-size="8.8" text-anchor="middle" fill="#1a1a1a" transform="translate(35.8 355.2) scale(0.88 1)">0</text>
<line x1="31.999999999999996" y1="311.3" x2="35.8" y2="311.3" stroke="#111" stroke-width="1.1"/>
<text font-size="8.8" text-anchor="end" fill="#1a1a1a" transform="translate(28.799999999999997 314.2) scale(0.88 1)">1</text>
<line x1="66.8" y1="342.3" x2="66.8" y2="345.90000000000003" stroke="#111" stroke-width="1.1"/>
<text font-size="8.8" text-anchor="middle" fill="#1a1a1a" transform="translate(66.8 355.2) scale(0.88 1)">1</text>
<line x1="31.999999999999996" y1="280.3" x2="35.8" y2="280.3" stroke="#111" stroke-width="1.1"/>
<text font-size="8.8" text-anchor="end" fill="#1a1a1a" transform="translate(28.799999999999997 283.2) scale(0.88 1)">2</text>
<line x1="97.8" y1="342.3" x2="97.8" y2="345.90000000000003" stroke="#111" stroke-width="1.1"/>
<text font-size="8.8" text-anchor="middle" fill="#1a1a1a" transform="translate(97.8 355.2) scale(0.88 1)">2</text>
<line x1="31.999999999999996" y1="249.3" x2="35.8" y2="249.3" stroke="#111" stroke-width="1.1"/>
<text font-size="8.8" text-anchor="end" fill="#1a1a1a" transform="translate(28.799999999999997 252.20000000000002) scale(0.88 1)">3</text>
<line x1="128.8" y1="342.3" x2="128.8" y2="345.90000000000003" stroke="#111" stroke-width="1.1"/>
<text font-size="8.8" text-anchor="middle" fill="#1a1a1a" transform="translate(128.8 355.2) scale(0.88 1)">3</text>
<line x1="31.999999999999996" y1="218.3" x2="35.8" y2="218.3" stroke="#111" stroke-width="1.1"/>
<text font-size="8.8" text-anchor="end" fill="#1a1a1a" transform="translate(28.799999999999997 221.20000000000002) scale(0.88 1)">4</text>
<line x1="159.8" y1="342.3" x2="159.8" y2="345.90000000000003" stroke="#111" stroke-width="1.1"/>
<text font-size="8.8" text-anchor="middle" fill="#1a1a1a" transform="translate(159.8 355.2) scale(0.88 1)">4</text>
<text font-size="10" fill="#1a1a1a" transform="translate(38.3 365.1) scale(0.9 1)">Adult expression (log<tspan font-size="7" dy="2.4">10</tspan><tspan dy="-2.4"> FPKM)</tspan></text>
<text font-size="10" fill="#1a1a1a" text-anchor="middle" transform="translate(19.099999999999998 278.9) rotate(-90) scale(0.9 1)">Neo expression (log<tspan font-size="7" dy="2.4">10</tspan><tspan dy="-2.4"> FPKM)</tspan></text>
<text font-size="12.5" text-anchor="start" font-weight="bold" fill="#000" transform="translate(189.4 210.9) scale(0.95 1)">E</text>
<text x="219.3" y="224.2" font-size="8.5" text-anchor="middle" fill="#1a1a1a">spleen</text>
<text x="267" y="224.2" font-size="8.5" text-anchor="middle" fill="#1a1a1a">thymus</text>
<rect x="197.40" y="229.70" width="45.50" height="1.44" fill="#e1a585"/>
<rect x="197.40" y="231.09" width="45.50" height="1.60" fill="#db9c7b"/>
<rect x="197.40" y="232.64" width="45.50" height="1.08" fill="#db9b7b"/>
<rect x="197.40" y="233.67" width="45.50" height="0.76" fill="#e6ac8d"/>
<rect x="197.40" y="234.38" width="45.50" height="1.63" fill="#dd9e7e"/>
<rect x="197.40" y="235.95" width="45.50" height="1.08" fill="#e1a585"/>
<rect x="197.40" y="236.99" width="45.50" height="0.95" fill="#db9c7b"/>
<rect x="197.40" y="237.88" width="45.50" height="1.31" fill="#db9b8f"/>
<rect x="197.40" y="239.14" width="45.50" height="1.85" fill="#d59286"/>
<rect x="197.40" y="240.93" width="45.50" height="1.43" fill="#d18c7f"/>
<rect x="197.40" y="242.32" width="45.50" height="0.45" fill="#d69488"/>
<rect x="197.40" y="242.72" width="45.50" height="1.42" fill="#ce8882"/>
<rect x="197.40" y="244.09" width="45.50" height="0.79" fill="#cc857e"/>
<rect x="197.40" y="244.83" width="45.50" height="1.26" fill="#ca837b"/>
<rect x="197.40" y="246.05" width="45.50" height="1.44" fill="#cd8780"/>
<rect x="197.40" y="247.44" width="45.50" height="1.30" fill="#ca837c"/>
<rect x="197.40" y="248.68" width="45.50" height="0.96" fill="#c98179"/>
<rect x="197.40" y="249.60" width="45.50" height="0.97" fill="#c98179"/>
<rect x="197.40" y="250.52" width="45.50" height="0.75" fill="#d18d87"/>
<rect x="197.40" y="251.22" width="45.50" height="0.85" fill="#cc867f"/>
<rect x="197.40" y="252.02" width="45.50" height="1.72" fill="#dca084"/>
<rect x="197.40" y="253.69" width="45.50" height="1.68" fill="#dca084"/>
<rect x="197.40" y="255.32" width="45.50" height="1.21" fill="#d49477"/>
<rect x="197.40" y="256.48" width="45.50" height="1.35" fill="#e4ad88"/>
<rect x="197.40" y="257.78" width="45.50" height="1.71" fill="#edbb98"/>
<rect x="197.40" y="259.44" width="45.50" height="1.41" fill="#dea47e"/>
<rect x="197.40" y="260.80" width="45.50" height="1.18" fill="#e6b18c"/>
<rect x="197.40" y="261.92" width="45.50" height="0.92" fill="#e7b18d"/>
<rect x="197.40" y="262.79" width="45.50" height="1.17" fill="#e7b18d"/>
<rect x="197.40" y="263.90" width="45.50" height="1.40" fill="#e0a882"/>
<rect x="197.40" y="265.25" width="45.50" height="1.45" fill="#e1a984"/>
<rect x="197.40" y="266.66" width="45.50" height="0.29" fill="#dea47e"/>
<rect x="242.90" y="229.70" width="45.50" height="1.01" fill="#f1daa6"/>
<rect x="242.90" y="230.66" width="45.50" height="0.86" fill="#f7e4b1"/>
<rect x="242.90" y="231.47" width="45.50" height="0.99" fill="#eed6a1"/>
<rect x="242.90" y="232.41" width="45.50" height="1.08" fill="#e8cd98"/>
<rect x="242.90" y="233.44" width="45.50" height="1.48" fill="#f1dba7"/>
<rect x="242.90" y="234.87" width="45.50" height="1.68" fill="#f5e0ad"/>
<rect x="242.90" y="236.49" width="45.50" height="1.74" fill="#f0d9a5"/>
<rect x="242.90" y="238.19" width="45.50" height="0.86" fill="#f9e6b4"/>
<rect x="242.90" y="239.00" width="45.50" height="1.77" fill="#ebc697"/>
<rect x="242.90" y="240.72" width="45.50" height="0.95" fill="#ecc899"/>
<rect x="242.90" y="241.62" width="45.50" height="1.46" fill="#e7c091"/>
<rect x="242.90" y="243.03" width="45.50" height="1.16" fill="#eac596"/>
<rect x="242.90" y="244.14" width="45.50" height="1.01" fill="#f0cd9f"/>
<rect x="242.90" y="245.10" width="45.50" height="1.39" fill="#f0cd9f"/>
<rect x="242.90" y="246.44" width="45.50" height="1.35" fill="#f8e3af"/>
<rect x="242.90" y="247.74" width="45.50" height="1.58" fill="#f5e0ab"/>
<rect x="242.90" y="249.27" width="45.50" height="1.16" fill="#f4dea9"/>
<rect x="242.90" y="250.38" width="45.50" height="0.89" fill="#e9cd96"/>
<rect x="242.90" y="251.21" width="45.50" height="1.47" fill="#eed59f"/>
<rect x="242.90" y="252.64" width="45.50" height="1.33" fill="#fdecb8"/>
<rect x="242.90" y="253.91" width="45.50" height="1.13" fill="#f0d7a2"/>
<rect x="242.90" y="254.99" width="45.50" height="1.50" fill="#f5dfaa"/>
<rect x="242.90" y="256.44" width="45.50" height="1.32" fill="#f2daa5"/>
<rect x="242.90" y="257.71" width="45.50" height="1.75" fill="#f5dfab"/>
<rect x="242.90" y="259.41" width="45.50" height="1.78" fill="#f2dba6"/>
<rect x="242.90" y="261.14" width="45.50" height="1.58" fill="#edd49e"/>
<rect x="242.90" y="262.67" width="45.50" height="0.90" fill="#eed5a0"/>
<rect x="242.90" y="263.52" width="45.50" height="1.65" fill="#f3dda8"/>
<rect x="242.90" y="265.12" width="45.50" height="1.44" fill="#f0d7a2"/>
<rect x="242.90" y="266.51" width="45.50" height="0.44" fill="#e9cd97"/>
<rect x="197.40" y="266.90" width="45.50" height="1.00" fill="#f7edbb"/>
<rect x="197.40" y="267.85" width="45.50" height="1.15" fill="#f8efbe"/>
<rect x="197.40" y="268.95" width="45.50" height="1.13" fill="#f8efbd"/>
<rect x="197.40" y="270.03" width="45.50" height="1.38" fill="#f8efbd"/>
<rect x="197.40" y="271.36" width="45.50" height="1.05" fill="#f1e5b2"/>
<rect x="197.40" y="272.36" width="45.50" height="1.24" fill="#faf2c1"/>
<rect x="197.40" y="273.55" width="45.50" height="1.32" fill="#f5eab8"/>
<rect x="197.40" y="274.81" width="45.50" height="1.74" fill="#f3e7b5"/>
<rect x="197.40" y="276.50" width="45.50" height="1.39" fill="#f4e9b7"/>
<rect x="197.40" y="277.84" width="45.50" height="1.72" fill="#f3e8b6"/>
<rect x="197.40" y="279.51" width="45.50" height="1.77" fill="#f2e6b3"/>
<rect x="197.40" y="281.22" width="45.50" height="1.22" fill="#f5ebb9"/>
<rect x="197.40" y="282.39" width="45.50" height="1.80" fill="#f6ecba"/>
<rect x="197.40" y="284.14" width="45.50" height="1.64" fill="#f5eab8"/>
<rect x="197.40" y="285.73" width="45.50" height="1.54" fill="#f6ecba"/>
<rect x="197.40" y="287.21" width="45.50" height="1.12" fill="#f5eab8"/>
<rect x="197.40" y="288.28" width="45.50" height="0.97" fill="#f3e8b5"/>
<rect x="197.40" y="289.20" width="45.50" height="0.98" fill="#f3e8b6"/>
<rect x="197.40" y="290.14" width="45.50" height="1.67" fill="#f7edbb"/>
<rect x="197.40" y="291.76" width="45.50" height="1.28" fill="#f1e5b2"/>
<rect x="197.40" y="292.99" width="45.50" height="1.48" fill="#f4e9b6"/>
<rect x="197.40" y="294.41" width="45.50" height="1.81" fill="#f8efbd"/>
<rect x="197.40" y="296.17" width="45.50" height="1.44" fill="#f6ecba"/>
<rect x="197.40" y="297.56" width="45.50" height="0.95" fill="#f7eebc"/>
<rect x="197.40" y="298.47" width="45.50" height="1.20" fill="#f5ebb9"/>
<rect x="197.40" y="299.62" width="45.50" height="1.65" fill="#f2e6b3"/>
<rect x="197.40" y="301.21" width="45.50" height="0.87" fill="#f4e9b7"/>
<rect x="197.40" y="302.04" width="45.50" height="1.63" fill="#f5ebb9"/>
<rect x="197.40" y="303.62" width="45.50" height="1.33" fill="#f4e9b7"/>
<rect x="242.90" y="266.90" width="45.50" height="0.80" fill="#e1a37b"/>
<rect x="242.90" y="267.65" width="45.50" height="0.77" fill="#e3a67e"/>
<rect x="242.90" y="268.37" width="45.50" height="1.02" fill="#e6aa83"/>
<rect x="242.90" y="269.35" width="45.50" height="1.37" fill="#e0a179"/>
<rect x="242.90" y="270.67" width="45.50" height="1.40" fill="#e7ac85"/>
<rect x="242.90" y="272.02" width="45.50" height="1.50" fill="#e2a47c"/>
<rect x="242.90" y="273.47" width="45.50" height="1.09" fill="#e6ab84"/>
<rect x="242.90" y="274.51" width="45.50" height="1.34" fill="#e7ac85"/>
<rect x="242.90" y="275.80" width="45.50" height="1.47" fill="#eab08a"/>
<rect x="242.90" y="277.22" width="45.50" height="0.96" fill="#e7ac84"/>
<rect x="242.90" y="278.13" width="45.50" height="0.79" fill="#e7ac84"/>
<rect x="242.90" y="278.88" width="45.50" height="1.81" fill="#eab089"/>
<rect x="242.90" y="280.63" width="45.50" height="0.81" fill="#da9970"/>
<rect x="242.90" y="281.39" width="45.50" height="1.10" fill="#de9e75"/>
<rect x="242.90" y="282.44" width="45.50" height="1.44" fill="#e7ac84"/>
<rect x="242.90" y="283.83" width="45.50" height="1.10" fill="#d8966d"/>
<rect x="242.90" y="284.87" width="45.50" height="1.63" fill="#e3a67e"/>
<rect x="242.90" y="286.45" width="45.50" height="1.59" fill="#e3a67e"/>
<rect x="242.90" y="287.99" width="45.50" height="0.97" fill="#db9b71"/>
<rect x="242.90" y="288.91" width="45.50" height="1.45" fill="#de9f76"/>
<rect x="242.90" y="290.31" width="45.50" height="0.86" fill="#e5a982"/>
<rect x="242.90" y="291.12" width="45.50" height="1.45" fill="#e4a881"/>
<rect x="242.90" y="292.51" width="45.50" height="1.63" fill="#dfa178"/>
<rect x="242.90" y="294.10" width="45.50" height="1.54" fill="#de9f76"/>
<rect x="242.90" y="295.59" width="45.50" height="1.73" fill="#dfa077"/>
<rect x="242.90" y="297.27" width="45.50" height="0.78" fill="#e4a880"/>
<rect x="242.90" y="298.00" width="45.50" height="0.99" fill="#dc9b72"/>
<rect x="242.90" y="298.94" width="45.50" height="1.79" fill="#e2a57d"/>
<rect x="242.90" y="300.68" width="45.50" height="1.03" fill="#dc9b72"/>
<rect x="242.90" y="301.66" width="45.50" height="1.47" fill="#e6ab83"/>
<rect x="242.90" y="303.08" width="45.50" height="1.17" fill="#e3a67e"/>
<rect x="242.90" y="304.20" width="45.50" height="0.75" fill="#e8ae87"/>
<rect x="197.40" y="304.90" width="45.50" height="1.16" fill="#e7c896"/>
<rect x="197.40" y="306.01" width="45.50" height="1.34" fill="#e8c998"/>
<rect x="197.40" y="307.31" width="45.50" height="1.02" fill="#eed3a2"/>
<rect x="197.40" y="308.28" width="45.50" height="1.25" fill="#f8e1b2"/>
<rect x="197.40" y="309.48" width="45.50" height="1.58" fill="#eccf9e"/>
<rect x="197.40" y="311.01" width="45.50" height="1.08" fill="#f7e0b1"/>
<rect x="197.40" y="312.04" width="45.50" height="1.59" fill="#f2d8a8"/>
<rect x="197.40" y="313.58" width="45.50" height="0.90" fill="#f2d8a8"/>
<rect x="197.40" y="314.43" width="45.50" height="0.32" fill="#f4dbac"/>
<rect x="242.90" y="304.90" width="45.50" height="1.05" fill="#c36e7a"/>
<rect x="242.90" y="305.90" width="45.50" height="1.67" fill="#c46f7c"/>
<rect x="242.90" y="307.51" width="45.50" height="0.96" fill="#c26d79"/>
<rect x="242.90" y="308.42" width="45.50" height="1.72" fill="#c5717e"/>
<rect x="242.90" y="310.09" width="45.50" height="1.53" fill="#ca7885"/>
<rect x="242.90" y="311.57" width="45.50" height="1.55" fill="#c4707d"/>
<rect x="242.90" y="313.07" width="45.50" height="1.66" fill="#c67380"/>
<rect x="242.90" y="314.68" width="45.50" height="0.07" fill="#c67280"/>
<rect x="197.40" y="314.70" width="45.50" height="1.32" fill="#a9c8b4"/>
<rect x="197.40" y="315.97" width="45.50" height="0.96" fill="#a7c6b1"/>
<rect x="197.40" y="316.88" width="45.50" height="1.34" fill="#aed0bd"/>
<rect x="197.40" y="318.17" width="45.50" height="1.74" fill="#a8c7b3"/>
<rect x="197.40" y="319.86" width="45.50" height="0.95" fill="#a6c4af"/>
<rect x="197.40" y="320.76" width="45.50" height="1.46" fill="#a0baa5"/>
<rect x="197.40" y="322.17" width="45.50" height="1.85" fill="#adcebb"/>
<rect x="197.40" y="323.96" width="45.50" height="1.68" fill="#acccb9"/>
<rect x="197.40" y="325.59" width="45.50" height="1.18" fill="#aac9b5"/>
<rect x="197.40" y="326.73" width="45.50" height="0.95" fill="#a8c6b2"/>
<rect x="197.40" y="327.63" width="45.50" height="1.58" fill="#b0d2c0"/>
<rect x="197.40" y="329.16" width="45.50" height="1.24" fill="#a8c7b3"/>
<rect x="197.40" y="330.35" width="45.50" height="1.21" fill="#a5c3ae"/>
<rect x="197.40" y="331.51" width="45.50" height="1.64" fill="#abcbb8"/>
<rect x="242.90" y="314.70" width="45.50" height="1.18" fill="#f2d9a7"/>
<rect x="242.90" y="315.83" width="45.50" height="1.54" fill="#f3dba9"/>
<rect x="242.90" y="317.32" width="45.50" height="1.66" fill="#f2d9a6"/>
<rect x="242.90" y="318.93" width="45.50" height="1.18" fill="#f2daa8"/>
<rect x="242.90" y="320.06" width="45.50" height="1.59" fill="#ecd09d"/>
<rect x="242.90" y="321.60" width="45.50" height="0.91" fill="#efd5a3"/>
<rect x="242.90" y="322.46" width="45.50" height="1.66" fill="#f0d6a3"/>
<rect x="242.90" y="324.07" width="45.50" height="0.89" fill="#edd29f"/>
<rect x="242.90" y="324.90" width="45.50" height="1.84" fill="#f2d9a7"/>
<rect x="242.90" y="326.69" width="45.50" height="1.38" fill="#f4ddab"/>
<rect x="242.90" y="328.02" width="45.50" height="1.58" fill="#efd4a2"/>
<rect x="242.90" y="329.55" width="45.50" height="1.76" fill="#fdeaba"/>
<rect x="242.90" y="331.25" width="45.50" height="1.60" fill="#f3daa8"/>
<rect x="242.90" y="332.80" width="45.50" height="0.35" fill="#f5deac"/>
<rect x="197.40" y="333.10" width="45.50" height="1.10" fill="#afcca9"/>
<rect x="197.40" y="334.15" width="45.50" height="1.54" fill="#b0cdaa"/>
<rect x="197.40" y="335.64" width="45.50" height="0.81" fill="#bcdebe"/>
<rect x="197.40" y="336.40" width="45.50" height="1.73" fill="#b7d7b6"/>
<rect x="197.40" y="338.08" width="45.50" height="1.02" fill="#b4d2b0"/>
<rect x="197.40" y="339.05" width="45.50" height="1.00" fill="#aecaa7"/>
<rect x="197.40" y="340.00" width="45.50" height="1.30" fill="#bcdebd"/>
<rect x="197.40" y="341.25" width="45.50" height="0.94" fill="#b0cdaa"/>
<rect x="197.40" y="342.15" width="45.50" height="1.28" fill="#b2d0ad"/>
<rect x="197.40" y="343.38" width="45.50" height="1.49" fill="#b4d2b0"/>
<rect x="197.40" y="344.82" width="45.50" height="1.33" fill="#b6d6b4"/>
<rect x="197.40" y="346.09" width="45.50" height="1.32" fill="#b4d3b1"/>
<rect x="197.40" y="347.36" width="45.50" height="1.34" fill="#b4d3b1"/>
<rect x="197.40" y="348.65" width="45.50" height="1.20" fill="#bde1c0"/>
<rect x="242.90" y="333.10" width="45.50" height="0.95" fill="#cbe1b7"/>
<rect x="242.90" y="334.00" width="45.50" height="0.87" fill="#cce3ba"/>
<rect x="242.90" y="334.82" width="45.50" height="1.79" fill="#c4d6ab"/>
<rect x="242.90" y="336.56" width="45.50" height="1.82" fill="#cee6bc"/>
<rect x="242.90" y="338.32" width="45.50" height="1.31" fill="#c2d4a9"/>
<rect x="242.90" y="339.58" width="45.50" height="1.76" fill="#c7dcb1"/>
<rect x="242.90" y="341.29" width="45.50" height="1.10" fill="#d5f1c9"/>
<rect x="242.90" y="342.33" width="45.50" height="0.82" fill="#c7dbb0"/>
<rect x="242.90" y="343.11" width="45.50" height="1.26" fill="#cae0b6"/>
<rect x="242.90" y="344.32" width="45.50" height="1.59" fill="#c5d8ad"/>
<rect x="242.90" y="345.86" width="45.50" height="1.59" fill="#c5d8ad"/>
<rect x="242.90" y="347.39" width="45.50" height="1.68" fill="#d0e8bf"/>
<rect x="242.90" y="349.03" width="45.50" height="0.82" fill="#c8ddb3"/>
<rect x="197.4" y="229.7" width="45.50" height="37.20" fill="none" stroke="#24180f" stroke-width="1.5"/>
<rect x="242.9" y="229.7" width="45.50" height="37.20" fill="none" stroke="#24180f" stroke-width="1.5"/>
<rect x="197.4" y="266.9" width="45.50" height="38.00" fill="none" stroke="#24180f" stroke-width="1.5"/>
<rect x="242.9" y="266.9" width="45.50" height="38.00" fill="none" stroke="#24180f" stroke-width="1.5"/>
<rect x="197.4" y="304.9" width="45.50" height="9.80" fill="none" stroke="#24180f" stroke-width="1.5"/>
<rect x="242.9" y="304.9" width="45.50" height="9.80" fill="none" stroke="#24180f" stroke-width="1.5"/>
<rect x="197.4" y="314.7" width="45.50" height="18.40" fill="none" stroke="#24180f" stroke-width="1.5"/>
<rect x="242.9" y="314.7" width="45.50" height="18.40" fill="none" stroke="#24180f" stroke-width="1.5"/>
<rect x="197.4" y="333.1" width="45.50" height="16.70" fill="none" stroke="#24180f" stroke-width="1.5"/>
<rect x="242.9" y="333.1" width="45.50" height="16.70" fill="none" stroke="#24180f" stroke-width="1.5"/>
<text font-size="8.8" text-anchor="end" fill="#1a1a1a" transform="translate(192.8 251.89999999999998) scale(0.88 1)">1</text>
<text font-size="8.8" text-anchor="end" fill="#1a1a1a" transform="translate(192.8 289.5) scale(0.88 1)">2</text>
<text font-size="8.8" text-anchor="end" fill="#1a1a1a" transform="translate(192.8 313.4) scale(0.88 1)">3</text>
<text font-size="8.8" text-anchor="end" fill="#1a1a1a" transform="translate(192.8 327.5) scale(0.88 1)">4</text>
<text font-size="8.8" text-anchor="end" fill="#1a1a1a" transform="translate(192.8 345.05000000000007) scale(0.88 1)">5</text>
<rect x="231.6" y="357.2" width="57.4" height="8.6" fill="url(#gE)" stroke="#111" stroke-width="1.2"/>
<line x1="232.4" y1="365.8" x2="232.4" y2="368.8" stroke="#111" stroke-width="1.2"/>
<line x1="241.8" y1="365.8" x2="241.8" y2="368.8" stroke="#111" stroke-width="1.2"/>
<line x1="251.20000000000002" y1="365.8" x2="251.20000000000002" y2="368.8" stroke="#111" stroke-width="1.2"/>
<line x1="260.6" y1="365.8" x2="260.6" y2="368.8" stroke="#111" stroke-width="1.2"/>
<line x1="270.0" y1="365.8" x2="270.0" y2="368.8" stroke="#111" stroke-width="1.2"/>
<line x1="279.4" y1="365.8" x2="279.4" y2="368.8" stroke="#111" stroke-width="1.2"/>
<line x1="288.8" y1="365.8" x2="288.8" y2="368.8" stroke="#111" stroke-width="1.2"/>
<text font-size="8.8" text-anchor="middle" fill="#1a1a1a" transform="translate(232.4 378.5) scale(0.88 1)">−3</text>
<text font-size="8.8" text-anchor="middle" fill="#1a1a1a" transform="translate(251.20000000000002 378.5) scale(0.88 1)">−1</text>
<text font-size="8.8" text-anchor="middle" fill="#1a1a1a" transform="translate(270.0 378.5) scale(0.88 1)">1</text>
<text font-size="8.8" text-anchor="middle" fill="#1a1a1a" transform="translate(288.8 378.5) scale(0.88 1)">3</text>
<text font-size="10" text-anchor="middle" fill="#1a1a1a" transform="translate(260.3 388.9) scale(0.9 1)">log (neo/adult)</text>
<text font-size="12.5" text-anchor="start" font-weight="bold" fill="#000" transform="translate(305.6 210.9) scale(0.95 1)">F</text>
<text font-size="8.8" text-anchor="middle" fill="#1a1a1a" transform="translate(401.65 220.9) scale(0.88 1)">1</text>
<text font-size="8.8" text-anchor="middle" fill="#1a1a1a" transform="translate(424.7 220.9) scale(0.88 1)">2</text>
<text font-size="8.8" text-anchor="middle" fill="#1a1a1a" transform="translate(448.04999999999995 220.9) scale(0.88 1)">3</text>
<text font-size="8.8" text-anchor="middle" fill="#1a1a1a" transform="translate(471.4 220.9) scale(0.88 1)">4</text>
<text font-size="8.8" text-anchor="middle" fill="#1a1a1a" transform="translate(494.45 220.9) scale(0.88 1)">5</text>
<rect x="390.1" y="224.6" width="23.10" height="23.60" fill="#efeab0" stroke="#111" stroke-width="1.4"/>
<rect x="413.2" y="224.6" width="23.00" height="23.60" fill="#dae39e" stroke="#111" stroke-width="1.4"/>
<rect x="436.2" y="224.6" width="23.70" height="23.60" fill="#cadfa0" stroke="#111" stroke-width="1.4"/>
<rect x="459.9" y="224.6" width="23.00" height="23.60" fill="#46a4ae" stroke="#111" stroke-width="1.4"/>
<rect x="482.9" y="224.6" width="23.10" height="23.60" fill="#1b1e4c" stroke="#111" stroke-width="1.4"/>
<rect x="390.1" y="248.2" width="23.10" height="23.10" fill="#48a6b0" stroke="#111" stroke-width="1.4"/>
<rect x="413.2" y="248.2" width="23.00" height="23.10" fill="#b0d4a4" stroke="#111" stroke-width="1.4"/>
<rect x="436.2" y="248.2" width="23.70" height="23.10" fill="#26509a" stroke="#111" stroke-width="1.4"/>
<rect x="459.9" y="248.2" width="23.00" height="23.10" fill="#eeefbc" stroke="#111" stroke-width="1.4"/>
<rect x="482.9" y="248.2" width="23.10" height="23.10" fill="#efefb9" stroke="#111" stroke-width="1.4"/>
<rect x="390.1" y="271.3" width="23.10" height="23.60" fill="#2c4c99" stroke="#111" stroke-width="1.4"/>
<rect x="413.2" y="271.3" width="23.00" height="23.60" fill="#dde3a6" stroke="#111" stroke-width="1.4"/>
<rect x="436.2" y="271.3" width="23.70" height="23.60" fill="#b0d4a6" stroke="#111" stroke-width="1.4"/>
<rect x="459.9" y="271.3" width="23.00" height="23.60" fill="#ecebbb" stroke="#111" stroke-width="1.4"/>
<rect x="482.9" y="271.3" width="23.10" height="23.60" fill="#efefbd" stroke="#111" stroke-width="1.4"/>
<rect x="390.1" y="294.9" width="23.10" height="23.10" fill="#f6f3cc" stroke="#111" stroke-width="1.4"/>
<rect x="413.2" y="294.9" width="23.00" height="23.10" fill="#a0cca8" stroke="#111" stroke-width="1.4"/>
<rect x="436.2" y="294.9" width="23.70" height="23.10" fill="#88c2a8" stroke="#111" stroke-width="1.4"/>
<rect x="459.9" y="294.9" width="23.00" height="23.10" fill="#2c64a0" stroke="#111" stroke-width="1.4"/>
<rect x="482.9" y="294.9" width="23.10" height="23.10" fill="#3c9db4" stroke="#111" stroke-width="1.4"/>
<circle cx="491.1" cy="237.0" r="1.05" fill="#101830"/>
<circle cx="494.4" cy="237.0" r="1.05" fill="#101830"/>
<circle cx="497.8" cy="237.0" r="1.05" fill="#101830"/>
<circle cx="401.6" cy="260.4" r="1.05" fill="#101830"/>
<circle cx="446.3" cy="260.4" r="1.05" fill="#101830"/>
<circle cx="449.7" cy="260.4" r="1.05" fill="#101830"/>
<circle cx="398.2" cy="283.7" r="1.05" fill="#101830"/>
<circle cx="401.6" cy="283.7" r="1.05" fill="#101830"/>
<circle cx="405.0" cy="283.7" r="1.05" fill="#101830"/>
<circle cx="471.4" cy="307.1" r="1.05" fill="#101830"/>
<text x="358.41" y="238.2" font-size="8.5" text-anchor="start" fill="#1a1a1a">effector</text>
<text x="333.79" y="238.2" font-size="8.5" text-anchor="start" fill="#1a1a1a">naive</text>
<path d="M331.59 238.50V232.70" stroke="#111" stroke-width="1.5"/><path d="M329.29 233.20L331.59 229.30L333.89 233.20z" fill="#111"/>
<path d="M356.21 232.50V237.70" stroke="#111" stroke-width="1.5"/><path d="M353.91 237.20L356.21 240.90L358.51 237.20z" fill="#111"/>
<text x="358.41" y="261.5" font-size="8.5" text-anchor="start" fill="#1a1a1a">effector</text>
<text x="333.79" y="261.5" font-size="8.5" text-anchor="start" fill="#1a1a1a">naive</text>
<path d="M331.59 255.80V261.00" stroke="#111" stroke-width="1.5"/><path d="M329.29 260.50L331.59 264.20L333.89 260.50z" fill="#111"/>
<path d="M356.21 261.80V256.00" stroke="#111" stroke-width="1.5"/><path d="M353.91 256.50L356.21 252.60L358.51 256.50z" fill="#111"/>
<text x="355.9" y="284.3" font-size="8.5" text-anchor="start" fill="#1a1a1a">memory</text>
<text x="323.41" y="284.3" font-size="8.5" text-anchor="start" fill="#1a1a1a">effector</text>
<path d="M321.21 284.60V278.80" stroke="#111" stroke-width="1.5"/><path d="M318.91 279.30L321.21 275.40L323.51 279.30z" fill="#111"/>
<path d="M353.70 278.60V283.80" stroke="#111" stroke-width="1.5"/><path d="M351.40 283.30L353.70 287.00L356.00 283.30z" fill="#111"/>
<text x="355.9" y="307.9" font-size="8.5" text-anchor="start" fill="#1a1a1a">memory</text>
<text x="323.41" y="307.9" font-size="8.5" text-anchor="start" fill="#1a1a1a">effector</text>
<path d="M321.21 302.20V307.40" stroke="#111" stroke-width="1.5"/><path d="M318.91 306.90L321.21 310.60L323.51 306.90z" fill="#111"/>
<path d="M353.70 308.20V302.40" stroke="#111" stroke-width="1.5"/><path d="M351.40 302.90L353.70 299.00L356.00 302.90z" fill="#111"/>
<rect x="449.5" y="323.7" width="58.2" height="9.5" fill="url(#gF)" stroke="#111" stroke-width="1.1"/>
<line x1="457.3" y1="333.2" x2="457.3" y2="336" stroke="#111" stroke-width="1.1"/>
<line x1="467.58" y1="333.2" x2="467.58" y2="336" stroke="#111" stroke-width="1.1"/>
<line x1="477.86" y1="333.2" x2="477.86" y2="336" stroke="#111" stroke-width="1.1"/>
<line x1="488.14" y1="333.2" x2="488.14" y2="336" stroke="#111" stroke-width="1.1"/>
<line x1="498.42" y1="333.2" x2="498.42" y2="336" stroke="#111" stroke-width="1.1"/>
<text font-size="8.8" text-anchor="middle" fill="#1a1a1a" transform="translate(457.3 345.8) scale(0.88 1)">0.5</text>
<text font-size="8.8" text-anchor="middle" fill="#1a1a1a" transform="translate(477.86 345.8) scale(0.88 1)">1.5</text>
<text font-size="8.8" text-anchor="middle" fill="#1a1a1a" transform="translate(498.42 345.8) scale(0.88 1)">2.5</text>
<text font-size="10" text-anchor="middle" fill="#1a1a1a" transform="translate(479 357.0) scale(0.9 1)">Enrichment</text>
<path d="M1.5 1.5H518.5V397.5H1.5Z" fill="none" stroke="#6a6a6a" stroke-width="1"/>
<path d="M0.5 0.5H519.5V398.5H0.5Z" fill="none" stroke="#000" stroke-width="1"/>
</g>
</svg></body></html>
